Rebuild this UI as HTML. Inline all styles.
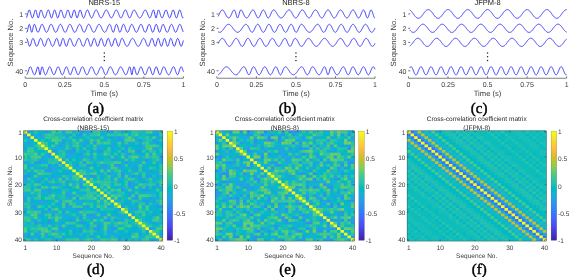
<!DOCTYPE html>
<html><head><meta charset="utf-8"><style>
html,body{margin:0;padding:0;background:#fff;}
body{width:575px;height:277px;overflow:hidden;}
svg{display:block;font-family:"Liberation Sans",sans-serif;text-rendering:geometricPrecision;will-change:transform;}
</style></head><body>
<svg width="575" height="277" viewBox="0 0 575 277">
<rect width="575" height="277" fill="#fff"/>
<defs><linearGradient id="pg" x1="0" y1="1" x2="0" y2="0"><stop offset="0.0078" stop-color="#3e26a8"/><stop offset="0.0234" stop-color="#402ab4"/><stop offset="0.0391" stop-color="#422ec0"/><stop offset="0.0547" stop-color="#4332cb"/><stop offset="0.0703" stop-color="#4537d5"/><stop offset="0.0859" stop-color="#463cde"/><stop offset="0.1016" stop-color="#4741e5"/><stop offset="0.1172" stop-color="#4747eb"/><stop offset="0.1328" stop-color="#484df0"/><stop offset="0.1484" stop-color="#4852f4"/><stop offset="0.1641" stop-color="#4758f8"/><stop offset="0.1797" stop-color="#465efb"/><stop offset="0.1953" stop-color="#4563fd"/><stop offset="0.2109" stop-color="#4269fe"/><stop offset="0.2266" stop-color="#3e6fff"/><stop offset="0.2422" stop-color="#3875fe"/><stop offset="0.2578" stop-color="#327cfc"/><stop offset="0.2734" stop-color="#2f81fa"/><stop offset="0.2891" stop-color="#2e87f7"/><stop offset="0.3047" stop-color="#2d8cf3"/><stop offset="0.3203" stop-color="#2b91ef"/><stop offset="0.3359" stop-color="#2797eb"/><stop offset="0.3516" stop-color="#259be8"/><stop offset="0.3672" stop-color="#23a0e5"/><stop offset="0.3828" stop-color="#20a5e3"/><stop offset="0.3984" stop-color="#1ca9df"/><stop offset="0.4141" stop-color="#18addb"/><stop offset="0.4297" stop-color="#12b1d6"/><stop offset="0.4453" stop-color="#08b5d0"/><stop offset="0.4609" stop-color="#01b8ca"/><stop offset="0.4766" stop-color="#02bac3"/><stop offset="0.4922" stop-color="#0bbdbd"/><stop offset="0.5078" stop-color="#19bfb6"/><stop offset="0.5234" stop-color="#24c1ae"/><stop offset="0.5391" stop-color="#2cc4a7"/><stop offset="0.5547" stop-color="#31c69f"/><stop offset="0.5703" stop-color="#37c897"/><stop offset="0.5859" stop-color="#3fca8e"/><stop offset="0.6016" stop-color="#4acb84"/><stop offset="0.6172" stop-color="#57cc7a"/><stop offset="0.6328" stop-color="#64cd6f"/><stop offset="0.6484" stop-color="#72cd64"/><stop offset="0.6641" stop-color="#81cc59"/><stop offset="0.6797" stop-color="#8fcb4e"/><stop offset="0.6953" stop-color="#9dc943"/><stop offset="0.7109" stop-color="#abc739"/><stop offset="0.7266" stop-color="#b9c431"/><stop offset="0.7422" stop-color="#c5c22a"/><stop offset="0.7578" stop-color="#d1bf27"/><stop offset="0.7734" stop-color="#dcbd29"/><stop offset="0.7891" stop-color="#e6bb2d"/><stop offset="0.8047" stop-color="#f0ba36"/><stop offset="0.8203" stop-color="#f8ba3d"/><stop offset="0.8359" stop-color="#febe3c"/><stop offset="0.8516" stop-color="#fec338"/><stop offset="0.8672" stop-color="#fec934"/><stop offset="0.8828" stop-color="#fccf30"/><stop offset="0.8984" stop-color="#fad62d"/><stop offset="0.9141" stop-color="#f7dc2a"/><stop offset="0.9297" stop-color="#f5e327"/><stop offset="0.9453" stop-color="#f5e924"/><stop offset="0.9609" stop-color="#f6ef20"/><stop offset="0.9766" stop-color="#f7f51b"/><stop offset="0.9922" stop-color="#f9fb15"/></linearGradient></defs>
<text x="104.30" y="4.9" font-size="7.5" text-anchor="middle" fill="#222">NBRS-15</text>
<g fill="none" stroke="#2828ff" stroke-width="0.9" stroke-linejoin="round">
<polyline points="26.47,17.61 26.78,16.93 27.10,15.96 27.41,14.78 27.73,13.53 28.05,12.31 28.36,11.26 28.68,10.48 29.00,10.03 29.31,9.98 29.63,10.31 29.95,10.99 30.26,11.96 30.58,13.11 30.90,14.34 31.21,15.53 31.53,16.57 31.84,17.36 32.16,17.84 32.48,17.94 32.79,17.66 33.11,17.02 33.43,16.08 33.74,14.92 34.06,13.65 34.38,12.40 34.69,11.31 35.01,10.48 35.32,10.02 35.64,10.00 35.96,10.44 36.27,11.33 36.59,12.57 36.91,14.02 37.22,15.48 37.54,16.74 37.86,17.60 38.17,17.95 38.49,17.72 38.81,16.97 39.12,15.80 39.44,14.41 39.75,12.98 40.07,11.70 40.39,10.72 40.70,10.13 41.02,9.95 41.34,10.16 41.65,10.71 41.97,11.53 42.29,12.52 42.60,13.61 42.92,14.70 43.23,15.72 43.55,16.60 43.87,17.29 44.18,17.74 44.50,17.94 44.82,17.88 45.13,17.55 45.45,16.99 45.77,16.23 46.08,15.31 46.40,14.30 46.72,13.24 47.03,12.22 47.35,11.32 47.66,10.59 47.98,10.12 48.30,9.95 48.61,10.12 48.93,10.63 49.25,11.45 49.56,12.51 49.88,13.71 50.20,14.95 50.51,16.10 50.83,17.05 51.14,17.69 51.46,17.95 51.78,17.80 52.09,17.25 52.41,16.37 52.73,15.23 53.04,13.96 53.36,12.69 53.68,11.56 53.99,10.67 54.31,10.12 54.63,9.95 54.94,10.18 55.26,10.79 55.57,11.72 55.89,12.87 56.21,14.14 56.52,15.39 56.84,16.50 57.16,17.34 57.47,17.84 57.79,17.94 58.11,17.64 58.42,16.96 58.74,16.00 59.05,14.83 59.37,13.59 59.69,12.38 60.00,11.34 60.32,10.55 60.64,10.07 60.95,9.96 61.27,10.19 61.59,10.74 61.90,11.56 62.22,12.56 62.54,13.67 62.85,14.79 63.17,15.84 63.48,16.73 63.80,17.41 64.12,17.83 64.43,17.95 64.75,17.76 65.07,17.29 65.38,16.56 65.70,15.62 66.02,14.55 66.33,13.43 66.65,12.34 66.96,11.36 67.28,10.60 67.60,10.11 67.91,9.95 68.23,10.15 68.55,10.69 68.86,11.53 69.18,12.60 69.50,13.81 69.81,15.04 70.13,16.17 70.45,17.08 70.76,17.70 71.08,17.95 71.39,17.80 71.71,17.26 72.03,16.38 72.34,15.25 72.66,13.99 72.98,12.71 73.29,11.57 73.61,10.67 73.93,10.11 74.24,9.95 74.56,10.23 74.87,10.91 75.19,11.95 75.51,13.23 75.82,14.61 76.14,15.91 76.46,16.98 76.77,17.69 77.09,17.95 77.41,17.73 77.72,17.05 78.04,16.02 78.36,14.77 78.67,13.43 78.99,12.17 79.30,11.12 79.62,10.38 79.94,10.00 80.25,9.99 80.57,10.34 80.89,11.00 81.20,11.91 81.52,12.98 81.84,14.12 82.15,15.23 82.47,16.24 82.78,17.05 83.10,17.62 83.42,17.92 83.73,17.91 84.05,17.62 84.37,17.07 84.68,16.30 85.00,15.38 85.32,14.37 85.63,13.33 85.95,12.35 86.27,11.47 86.58,10.76 86.90,10.26 87.21,9.99 87.53,9.97 87.85,10.19 88.16,10.64 88.48,11.28 88.80,12.08 89.11,12.97 89.43,13.92 89.75,14.86 90.06,15.75 90.38,16.53 90.69,17.17 91.01,17.63 91.33,17.89 91.64,17.94 91.96,17.79 92.28,17.44 92.59,16.92 92.91,16.25 93.23,15.48 93.54,14.63 93.86,13.75 94.18,12.89 94.49,12.09 94.81,11.37 95.12,10.78 95.44,10.33 95.76,10.05 96.07,9.95 96.39,10.02 96.71,10.27 97.02,10.66 97.34,11.19 97.66,11.83 97.97,12.55 98.29,13.32 98.60,14.11 98.92,14.89 99.24,15.63 99.55,16.30 99.87,16.88 100.19,17.35 100.50,17.69 100.82,17.89 101.14,17.95 101.45,17.86 101.77,17.64 102.09,17.28 102.40,16.80 102.72,16.22 103.03,15.56 103.35,14.84 103.67,14.09 103.98,13.33 104.30,12.59 104.62,11.90 104.93,11.28 105.25,10.76 105.57,10.35 105.88,10.08 106.20,9.96 106.51,9.99 106.83,10.17 107.15,10.49 107.46,10.95 107.78,11.52 108.10,12.18 108.41,12.91 108.73,13.68 109.05,14.47 109.36,15.23 109.68,15.94 110.00,16.58 110.31,17.11 110.63,17.53 110.94,17.81 111.26,17.94 111.58,17.92 111.89,17.74 112.21,17.42 112.53,16.95 112.84,16.37 113.16,15.69 113.48,14.94 113.79,14.15 114.11,13.35 114.42,12.57 114.74,11.84 115.06,11.19 115.37,10.66 115.69,10.26 116.01,10.02 116.32,9.95 116.64,10.05 116.96,10.32 117.27,10.75 117.59,11.33 117.91,12.03 118.22,12.82 118.54,13.66 118.85,14.52 119.17,15.35 119.49,16.13 119.80,16.80 120.12,17.34 120.44,17.72 120.75,17.92 121.07,17.93 121.39,17.75 121.70,17.38 122.02,16.85 122.33,16.17 122.65,15.38 122.97,14.53 123.28,13.64 123.60,12.76 123.92,11.95 124.23,11.23 124.55,10.65 124.87,10.23 125.18,10.00 125.50,9.96 125.82,10.12 126.13,10.49 126.45,11.03 126.76,11.74 127.08,12.57 127.40,13.48 127.71,14.43 128.03,15.35 128.35,16.19 128.66,16.91 128.98,17.46 129.30,17.81 129.61,17.95 129.93,17.86 130.24,17.56 130.56,17.06 130.88,16.39 131.19,15.60 131.51,14.73 131.83,13.83 132.14,12.94 132.46,12.12 132.78,11.39 133.09,10.79 133.41,10.35 133.73,10.07 134.04,9.95 134.36,10.00 134.67,10.20 134.99,10.54 135.31,10.99 135.62,11.53 135.94,12.15 136.26,12.81 136.57,13.50 136.89,14.19 137.21,14.87 137.52,15.51 137.84,16.11 138.15,16.64 138.47,17.09 138.79,17.45 139.10,17.72 139.42,17.89 139.74,17.95 140.05,17.90 140.37,17.75 140.69,17.49 141.00,17.14 141.32,16.69 141.64,16.16 141.95,15.56 142.27,14.90 142.58,14.21 142.90,13.50 143.22,12.79 143.53,12.11 143.85,11.48 144.17,10.93 144.48,10.48 144.80,10.16 145.12,9.98 145.43,9.97 145.75,10.12 146.06,10.45 146.38,10.94 146.70,11.56 147.01,12.31 147.33,13.14 147.65,14.01 147.96,14.90 148.28,15.74 148.60,16.51 148.91,17.15 149.23,17.62 149.55,17.89 149.86,17.94 150.18,17.74 150.49,17.30 150.81,16.64 151.13,15.78 151.44,14.77 151.76,13.69 152.08,12.60 152.39,11.60 152.71,10.77 153.03,10.20 153.34,9.96 153.66,10.08 153.97,10.65 154.29,11.68 154.61,13.08 154.92,14.67 155.24,16.19 155.56,17.35 155.87,17.92 156.19,17.77 156.51,16.95 156.82,15.60 157.14,14.00 157.46,12.45 157.77,11.17 158.09,10.33 158.40,9.97 158.72,10.05 159.04,10.50 159.35,11.25 159.67,12.21 159.99,13.29 160.30,14.39 160.62,15.44 160.94,16.36 161.25,17.11 161.57,17.63 161.88,17.90 162.20,17.93 162.52,17.71 162.83,17.26 163.15,16.61 163.47,15.80 163.78,14.87 164.10,13.89 164.42,12.90 164.73,11.97 165.05,11.15 165.37,10.51 165.68,10.10 166.00,9.95 166.31,10.10 166.63,10.53 166.95,11.21 167.26,12.11 167.58,13.14 167.90,14.23 168.21,15.31 168.53,16.28 168.85,17.08 169.16,17.65 169.48,17.92 169.79,17.90 170.11,17.56 170.43,16.94 170.74,16.08 171.06,15.05 171.38,13.93 171.69,12.80 172.01,11.77 172.33,10.91 172.64,10.30 172.96,9.98 173.28,10.00 173.59,10.35 173.91,11.02 174.22,11.94 174.54,13.04 174.86,14.23 175.17,15.40 175.49,16.44 175.81,17.26 176.12,17.78 176.44,17.95 176.76,17.75 177.07,17.21 177.39,16.36 177.70,15.30 178.02,14.10 178.34,12.90 178.65,11.79 178.97,10.88 179.29,10.26 179.60,9.97 179.92,10.04 180.24,10.46 180.55,11.20 180.87,12.18 181.19,13.33 181.50,14.53 181.82,15.67 182.13,16.67 182.45,17.42 182.77,17.85 183.08,17.94 183.40,17.66"/>
<polyline points="26.47,32.06 26.78,32.30 27.10,31.94 27.41,31.03 27.73,29.72 28.05,28.19 28.36,26.68 28.68,25.41 29.00,24.58 29.31,24.30 29.63,24.63 29.95,25.55 30.26,26.93 30.58,28.55 30.90,30.13 31.21,31.41 31.53,32.16 31.84,32.26 32.16,31.71 32.48,30.63 32.79,29.21 33.11,27.70 33.43,26.31 33.74,25.22 34.06,24.54 34.38,24.30 34.69,24.46 35.01,24.98 35.32,25.78 35.64,26.78 35.96,27.88 36.27,28.99 36.59,30.02 36.91,30.92 37.22,31.61 37.54,32.08 37.86,32.29 38.17,32.24 38.49,31.95 38.81,31.45 39.12,30.76 39.44,29.94 39.75,29.03 40.07,28.08 40.39,27.15 40.70,26.29 41.02,25.54 41.34,24.94 41.65,24.52 41.97,24.32 42.29,24.34 42.60,24.58 42.92,25.02 43.23,25.64 43.55,26.39 43.87,27.23 44.18,28.13 44.50,29.03 44.82,29.88 45.13,30.65 45.45,31.31 45.77,31.81 46.08,32.14 46.40,32.29 46.72,32.25 47.03,32.03 47.35,31.63 47.66,31.08 47.98,30.40 48.30,29.62 48.61,28.79 48.93,27.93 49.25,27.09 49.56,26.31 49.88,25.61 50.20,25.04 50.51,24.62 50.83,24.37 51.14,24.30 51.46,24.42 51.78,24.72 52.09,25.19 52.41,25.80 52.73,26.53 53.04,27.34 53.36,28.19 53.68,29.05 53.99,29.87 54.31,30.62 54.63,31.26 54.94,31.76 55.26,32.11 55.57,32.28 55.89,32.27 56.21,32.08 56.52,31.73 56.84,31.21 57.16,30.57 57.47,29.82 57.79,29.01 58.11,28.16 58.42,27.32 58.74,26.53 59.05,25.81 59.37,25.21 59.69,24.75 60.00,24.44 60.32,24.31 60.64,24.35 60.95,24.57 61.27,24.96 61.59,25.49 61.90,26.15 62.22,26.90 62.54,27.71 62.85,28.55 63.17,29.38 63.48,30.16 63.80,30.86 64.12,31.44 64.43,31.89 64.75,32.18 65.07,32.30 65.38,32.24 65.70,32.02 66.02,31.63 66.33,31.09 66.65,30.44 66.96,29.70 67.28,28.89 67.60,28.06 67.91,27.24 68.23,26.47 68.55,25.77 68.86,25.19 69.18,24.74 69.50,24.44 69.81,24.31 70.13,24.34 70.45,24.55 70.76,24.91 71.08,25.42 71.39,26.04 71.71,26.76 72.03,27.54 72.34,28.35 72.66,29.15 72.98,29.92 73.29,30.63 73.61,31.23 73.93,31.72 74.24,32.07 74.56,32.26 74.87,32.29 75.19,32.16 75.51,31.87 75.82,31.43 76.14,30.86 76.46,30.18 76.77,29.43 77.09,28.62 77.41,27.80 77.72,27.00 78.04,26.25 78.36,25.59 78.67,25.04 78.99,24.63 79.30,24.38 79.62,24.30 79.94,24.40 80.25,24.68 80.57,25.13 80.89,25.73 81.20,26.46 81.52,27.28 81.84,28.15 82.15,29.04 82.47,29.89 82.78,30.66 83.10,31.32 83.42,31.83 83.73,32.16 84.05,32.30 84.37,32.24 84.68,31.98 85.00,31.54 85.32,30.95 85.63,30.22 85.95,29.41 86.27,28.55 86.58,27.68 86.90,26.84 87.21,26.08 87.53,25.43 87.85,24.91 88.16,24.54 88.48,24.34 88.80,24.31 89.11,24.44 89.43,24.73 89.75,25.16 90.06,25.71 90.38,26.36 90.69,27.08 91.01,27.84 91.33,28.61 91.64,29.37 91.96,30.09 92.28,30.74 92.59,31.30 92.91,31.74 93.23,32.07 93.54,32.25 93.86,32.30 94.18,32.20 94.49,31.97 94.81,31.61 95.12,31.14 95.44,30.56 95.76,29.91 96.07,29.20 96.39,28.46 96.71,27.72 97.02,26.99 97.34,26.31 97.66,25.70 97.97,25.18 98.29,24.76 98.60,24.48 98.92,24.32 99.24,24.31 99.55,24.45 99.87,24.71 100.19,25.09 100.50,25.57 100.82,26.14 101.14,26.77 101.45,27.45 101.77,28.15 102.09,28.85 102.40,29.53 102.72,30.18 103.03,30.77 103.35,31.28 103.67,31.70 103.98,32.02 104.30,32.22 104.62,32.30 104.93,32.25 105.25,32.07 105.57,31.76 105.88,31.33 106.20,30.79 106.51,30.15 106.83,29.43 107.15,28.66 107.46,27.85 107.78,27.06 108.10,26.30 108.41,25.62 108.73,25.04 109.05,24.61 109.36,24.36 109.68,24.31 110.00,24.48 110.31,24.88 110.63,25.53 110.94,26.38 111.26,27.40 111.58,28.51 111.89,29.63 112.21,30.66 112.53,31.50 112.84,32.06 113.16,32.30 113.48,32.16 113.79,31.67 114.11,30.87 114.42,29.82 114.74,28.63 115.06,27.42 115.37,26.30 115.69,25.37 116.01,24.70 116.32,24.35 116.64,24.33 116.96,24.64 117.27,25.25 117.59,26.12 117.91,27.17 118.22,28.32 118.54,29.47 118.85,30.52 119.17,31.38 119.49,31.98 119.80,32.28 120.12,32.24 120.44,31.87 120.75,31.21 121.07,30.32 121.39,29.28 121.70,28.17 122.02,27.08 122.33,26.09 122.65,25.27 122.97,24.69 123.28,24.36 123.60,24.31 123.92,24.53 124.23,24.99 124.55,25.66 124.87,26.50 125.18,27.44 125.50,28.42 125.82,29.40 126.13,30.30 126.45,31.07 126.76,31.68 127.08,32.09 127.40,32.29 127.71,32.25 128.03,32.00 128.35,31.55 128.66,30.92 128.98,30.15 129.30,29.28 129.61,28.37 129.93,27.45 130.24,26.58 130.56,25.80 130.88,25.16 131.19,24.68 131.51,24.39 131.83,24.30 132.14,24.42 132.46,24.74 132.78,25.23 133.09,25.87 133.41,26.62 133.73,27.45 134.04,28.32 134.36,29.18 134.67,29.99 134.99,30.73 135.31,31.35 135.62,31.83 135.94,32.15 136.26,32.29 136.57,32.25 136.89,32.04 137.21,31.65 137.52,31.11 137.84,30.44 138.15,29.67 138.47,28.83 138.79,27.96 139.10,27.11 139.42,26.30 139.74,25.59 140.05,25.01 140.37,24.59 140.69,24.35 141.00,24.31 141.32,24.48 141.64,24.85 141.95,25.40 142.27,26.11 142.58,26.93 142.90,27.82 143.22,28.74 143.53,29.65 143.85,30.48 144.17,31.19 144.48,31.76 144.80,32.13 145.12,32.29 145.43,32.23 145.75,31.95 146.06,31.45 146.38,30.77 146.70,29.94 147.01,29.01 147.33,28.02 147.65,27.05 147.96,26.14 148.28,25.37 148.60,24.78 148.91,24.41 149.23,24.30 149.55,24.46 149.86,24.90 150.18,25.58 150.49,26.47 150.81,27.51 151.13,28.63 151.44,29.72 151.76,30.71 152.08,31.51 152.39,32.06 152.71,32.29 153.03,32.20 153.34,31.77 153.66,31.06 153.97,30.11 154.29,29.01 154.61,27.84 154.92,26.72 155.24,25.73 155.56,24.96 155.87,24.47 156.19,24.30 156.51,24.45 156.82,24.93 157.14,25.69 157.46,26.68 157.77,27.81 158.09,28.99 158.40,30.12 158.72,31.08 159.04,31.80 159.35,32.21 159.67,32.28 159.99,32.01 160.30,31.42 160.62,30.57 160.94,29.54 161.25,28.41 161.57,27.29 161.88,26.26 162.20,25.40 162.52,24.77 162.83,24.40 163.15,24.30 163.47,24.48 163.78,24.90 164.10,25.53 164.42,26.33 164.73,27.23 165.05,28.19 165.37,29.15 165.68,30.05 166.00,30.84 166.31,31.49 166.63,31.96 166.95,32.23 167.26,32.30 167.58,32.15 167.90,31.80 168.21,31.26 168.53,30.58 168.85,29.77 169.16,28.89 169.48,27.97 169.79,27.07 170.11,26.24 170.43,25.50 170.74,24.92 171.06,24.51 171.38,24.32 171.69,24.34 172.01,24.59 172.33,25.05 172.64,25.69 172.96,26.49 173.28,27.38 173.59,28.33 173.91,29.28 174.22,30.17 174.54,30.95 174.86,31.59 175.17,32.04 175.49,32.27 175.81,32.27 176.12,32.05 176.44,31.62 176.76,30.99 177.07,30.21 177.39,29.32 177.70,28.37 178.02,27.42 178.34,26.51 178.65,25.72 178.97,25.06 179.29,24.60 179.60,24.34 179.92,24.32 180.24,24.52 180.55,24.93 180.87,25.54 181.19,26.30 181.50,27.18 181.82,28.13 182.13,29.08 182.45,29.99 182.77,30.80 183.08,31.47 183.40,31.96"/>
<polyline points="26.47,38.35 26.78,38.50 27.10,39.01 27.41,39.84 27.73,40.92 28.05,42.14 28.36,43.38 28.68,44.53 29.00,45.46 29.31,46.08 29.63,46.34 29.95,46.22 30.26,45.72 30.58,44.91 30.90,43.86 31.21,42.68 31.53,41.48 31.84,40.38 32.16,39.45 32.48,38.78 32.79,38.42 33.11,38.37 33.43,38.63 33.74,39.16 34.06,39.93 34.38,40.85 34.69,41.88 35.01,42.92 35.32,43.92 35.64,44.81 35.96,45.53 36.27,46.04 36.59,46.31 36.91,46.33 37.22,46.09 37.54,45.63 37.86,44.95 38.17,44.12 38.49,43.17 38.81,42.17 39.12,41.18 39.44,40.26 39.75,39.47 40.07,38.86 40.39,38.48 40.70,38.35 41.02,38.49 41.34,38.89 41.65,39.53 41.97,40.37 42.29,41.34 42.60,42.39 42.92,43.44 43.23,44.41 43.55,45.24 43.87,45.87 44.18,46.24 44.50,46.35 44.82,46.17 45.13,45.73 45.45,45.06 45.77,44.20 46.08,43.22 46.40,42.19 46.72,41.17 47.03,40.24 47.35,39.45 47.66,38.85 47.98,38.48 48.30,38.35 48.61,38.47 48.93,38.81 49.25,39.36 49.56,40.06 49.88,40.88 50.20,41.76 50.51,42.67 50.83,43.56 51.14,44.38 51.46,45.10 51.78,45.67 52.09,46.08 52.41,46.31 52.73,46.34 53.04,46.16 53.36,45.79 53.68,45.23 53.99,44.52 54.31,43.67 54.63,42.75 54.94,41.78 55.26,40.83 55.57,39.97 55.89,39.23 56.21,38.69 56.52,38.40 56.84,38.38 57.16,38.67 57.47,39.27 57.79,40.16 58.11,41.27 58.42,42.50 58.74,43.74 59.05,44.85 59.37,45.72 59.69,46.23 60.00,46.33 60.32,46.00 60.64,45.28 60.95,44.23 61.27,42.99 61.59,41.69 61.90,40.47 62.22,39.46 62.54,38.75 62.85,38.39 63.17,38.40 63.48,38.77 63.80,39.46 64.12,40.42 64.43,41.55 64.75,42.76 65.07,43.92 65.38,44.94 65.70,45.72 66.02,46.21 66.33,46.35 66.65,46.15 66.96,45.63 67.28,44.84 67.60,43.86 67.91,42.77 68.23,41.66 68.55,40.61 68.86,39.72 69.18,39.02 69.50,38.56 69.81,38.36 70.13,38.42 70.45,38.71 70.76,39.21 71.08,39.88 71.39,40.68 71.71,41.55 72.03,42.45 72.34,43.34 72.66,44.16 72.98,44.89 73.29,45.50 73.61,45.95 73.93,46.24 74.24,46.35 74.56,46.28 74.87,46.04 75.19,45.63 75.51,45.08 75.82,44.41 76.14,43.65 76.46,42.83 76.77,41.98 77.09,41.14 77.41,40.35 77.72,39.65 78.04,39.07 78.36,38.65 78.67,38.40 78.99,38.36 79.30,38.52 79.62,38.88 79.94,39.41 80.25,40.10 80.57,40.91 80.89,41.78 81.20,42.69 81.52,43.59 81.84,44.42 82.15,45.14 82.47,45.72 82.78,46.12 83.10,46.33 83.42,46.32 83.73,46.09 84.05,45.65 84.37,45.03 84.68,44.25 85.00,43.35 85.32,42.39 85.63,41.42 85.95,40.49 86.27,39.67 86.58,39.01 86.90,38.56 87.21,38.36 87.53,38.42 87.85,38.76 88.16,39.37 88.48,40.21 88.80,41.22 89.11,42.34 89.43,43.47 89.75,44.51 90.06,45.39 90.38,46.01 90.69,46.32 91.01,46.29 91.33,45.91 91.64,45.22 91.96,44.28 92.28,43.17 92.59,41.99 92.91,40.85 93.23,39.84 93.54,39.05 93.86,38.54 94.18,38.35 94.49,38.49 94.81,38.94 95.12,39.66 95.44,40.60 95.76,41.69 96.07,42.82 96.39,43.91 96.71,44.88 97.02,45.65 97.34,46.15 97.66,46.35 97.97,46.23 98.29,45.80 98.60,45.09 98.92,44.17 99.24,43.10 99.55,41.97 99.87,40.87 100.19,39.89 100.50,39.11 100.82,38.58 101.14,38.36 101.45,38.45 101.77,38.86 102.09,39.55 102.40,40.46 102.72,41.52 103.03,42.64 103.35,43.75 103.67,44.74 103.98,45.54 104.30,46.09 104.62,46.34 104.93,46.27 105.25,45.89 105.57,45.22 105.88,44.33 106.20,43.27 106.51,42.14 106.83,41.03 107.15,40.02 107.46,39.20 107.78,38.63 108.10,38.37 108.41,38.42 108.73,38.80 109.05,39.47 109.36,40.37 109.68,41.44 110.00,42.59 110.31,43.72 110.63,44.73 110.94,45.55 111.26,46.10 111.58,46.34 111.89,46.25 112.21,45.84 112.53,45.13 112.84,44.20 113.16,43.12 113.48,41.97 113.79,40.85 114.11,39.86 114.42,39.08 114.74,38.56 115.06,38.35 115.37,38.47 115.69,38.92 116.01,39.67 116.32,40.65 116.64,41.80 116.96,42.99 117.27,44.14 117.59,45.12 117.91,45.85 118.22,46.27 118.54,46.33 118.85,46.05 119.17,45.46 119.49,44.61 119.80,43.59 120.12,42.49 120.44,41.40 120.75,40.40 121.07,39.56 121.39,38.93 121.70,38.53 122.02,38.36 122.33,38.41 122.65,38.66 122.97,39.09 123.28,39.67 123.60,40.36 123.92,41.13 124.23,41.94 124.55,42.75 124.87,43.53 125.18,44.26 125.50,44.91 125.82,45.45 126.13,45.87 126.45,46.16 126.76,46.32 127.08,46.34 127.40,46.23 127.71,45.99 128.03,45.63 128.35,45.17 128.66,44.62 128.98,44.00 129.30,43.33 129.61,42.63 129.93,41.92 130.24,41.23 130.56,40.57 130.88,39.96 131.19,39.43 131.51,38.99 131.83,38.65 132.14,38.44 132.46,38.35 132.78,38.40 133.09,38.58 133.41,38.88 133.73,39.29 134.04,39.80 134.36,40.37 134.67,41.01 134.99,41.68 135.31,42.36 135.62,43.05 135.94,43.71 136.26,44.33 136.57,44.89 136.89,45.37 137.21,45.77 137.52,46.07 137.84,46.27 138.15,46.35 138.47,46.31 138.79,46.16 139.10,45.89 139.42,45.51 139.74,45.03 140.05,44.47 140.37,43.83 140.69,43.14 141.00,42.42 141.32,41.68 141.64,40.96 141.95,40.28 142.27,39.67 142.58,39.15 142.90,38.74 143.22,38.47 143.53,38.35 143.85,38.40 144.17,38.62 144.48,39.00 144.80,39.54 145.12,40.21 145.43,40.98 145.75,41.83 146.06,42.71 146.38,43.58 146.70,44.40 147.01,45.12 147.33,45.71 147.65,46.12 147.96,46.33 148.28,46.32 148.60,46.08 148.91,45.62 149.23,44.96 149.55,44.13 149.86,43.19 150.18,42.17 150.49,41.16 150.81,40.22 151.13,39.41 151.44,38.80 151.76,38.44 152.08,38.36 152.39,38.59 152.71,39.14 153.03,39.98 153.34,41.06 153.66,42.28 153.97,43.53 154.29,44.68 154.61,45.60 154.92,46.18 155.24,46.35 155.56,46.07 155.87,45.38 156.19,44.35 156.51,43.10 156.82,41.77 157.14,40.51 157.46,39.46 157.77,38.72 158.09,38.38 158.40,38.43 158.72,38.88 159.04,39.68 159.35,40.74 159.67,41.96 159.99,43.22 160.30,44.39 160.62,45.35 160.94,46.02 161.25,46.33 161.57,46.25 161.88,45.78 162.20,44.98 162.52,43.92 162.83,42.70 163.15,41.45 163.47,40.29 163.78,39.33 164.10,38.66 164.42,38.36 164.73,38.46 165.05,38.94 165.37,39.76 165.68,40.85 166.00,42.09 166.31,43.36 166.63,44.53 166.95,45.47 167.26,46.10 167.58,46.35 167.90,46.19 168.21,45.65 168.53,44.78 168.85,43.67 169.16,42.44 169.48,41.21 169.79,40.09 170.11,39.20 170.43,38.60 170.74,38.36 171.06,38.47 171.38,38.93 171.69,39.69 172.01,40.67 172.33,41.78 172.64,42.94 172.96,44.05 173.28,45.01 173.59,45.74 173.91,46.20 174.22,46.35 174.54,46.17 174.86,45.69 175.17,44.94 175.49,43.99 175.81,42.90 176.12,41.77 176.44,40.68 176.76,39.73 177.07,38.98 177.39,38.51 177.70,38.35 178.02,38.52 178.34,39.01 178.65,39.77 178.97,40.74 179.29,41.85 179.60,43.00 179.92,44.09 180.24,45.04 180.55,45.77 180.87,46.22 181.19,46.35 181.50,46.15 181.82,45.63 182.13,44.85 182.45,43.86 182.77,42.74 183.08,41.59 183.40,40.51"/>
<polyline points="26.47,74.80 26.78,74.69 27.10,74.32 27.41,73.71 27.73,72.90 28.05,71.95 28.36,70.92 28.68,69.88 29.00,68.91 29.31,68.06 29.63,67.40 29.95,66.97 30.26,66.80 30.58,66.90 30.90,67.25 31.21,67.81 31.53,68.54 31.84,69.39 32.16,70.30 32.48,71.24 32.79,72.15 33.11,72.98 33.43,73.70 33.74,74.26 34.06,74.64 34.38,74.80 34.69,74.72 35.01,74.40 35.32,73.83 35.64,73.05 35.96,72.07 36.27,70.97 36.59,69.82 36.91,68.72 37.22,67.77 37.54,67.09 37.86,66.80 38.17,67.00 38.49,67.83 38.81,69.32 39.12,71.25 39.44,73.14 39.75,74.46 40.07,74.77 40.39,73.97 40.70,72.33 41.02,70.36 41.34,68.58 41.65,67.38 41.97,66.84 42.29,66.88 42.60,67.36 42.92,68.17 43.23,69.22 43.55,70.37 43.87,71.53 44.18,72.59 44.50,73.49 44.82,74.17 45.13,74.61 45.45,74.79 45.77,74.73 46.08,74.43 46.40,73.93 46.72,73.26 47.03,72.45 47.35,71.57 47.66,70.64 47.98,69.72 48.30,68.86 48.61,68.10 48.93,67.48 49.25,67.05 49.56,66.82 49.88,66.84 50.20,67.10 50.51,67.57 50.83,68.24 51.14,69.05 51.46,69.95 51.78,70.91 52.09,71.84 52.41,72.72 52.73,73.49 53.04,74.11 53.36,74.54 53.68,74.77 53.99,74.78 54.31,74.58 54.63,74.17 54.94,73.58 55.26,72.84 55.57,72.00 55.89,71.08 56.21,70.15 56.52,69.26 56.84,68.44 57.16,67.76 57.47,67.23 57.79,66.91 58.11,66.80 58.42,66.92 58.74,67.25 59.05,67.78 59.37,68.48 59.69,69.31 60.00,70.23 60.32,71.17 60.64,72.09 60.95,72.94 61.27,73.67 61.59,74.25 61.90,74.63 62.22,74.79 62.54,74.74 62.85,74.46 63.17,73.97 63.48,73.30 63.80,72.48 64.12,71.57 64.43,70.61 64.75,69.66 65.07,68.77 65.38,67.99 65.70,67.38 66.02,66.98 66.33,66.81 66.65,66.88 66.96,67.19 67.28,67.74 67.60,68.49 67.91,69.40 68.23,70.40 68.55,71.44 68.86,72.43 69.18,73.32 69.50,74.04 69.81,74.54 70.13,74.78 70.45,74.75 70.76,74.44 71.08,73.89 71.39,73.13 71.71,72.21 72.03,71.20 72.34,70.16 72.66,69.18 72.98,68.30 73.29,67.59 73.61,67.10 73.93,66.84 74.24,66.82 74.56,67.06 74.87,67.51 75.19,68.17 75.51,68.99 75.82,69.91 76.14,70.88 76.46,71.85 76.77,72.75 77.09,73.53 77.41,74.15 77.72,74.58 78.04,74.78 78.36,74.76 78.67,74.51 78.99,74.05 79.30,73.41 79.62,72.62 79.94,71.74 80.25,70.81 80.57,69.88 80.89,69.00 81.20,68.23 81.52,67.59 81.84,67.13 82.15,66.86 82.47,66.80 82.78,66.95 83.10,67.30 83.42,67.82 83.73,68.49 84.05,69.28 84.37,70.14 84.68,71.03 85.00,71.90 85.32,72.72 85.63,73.44 85.95,74.03 86.27,74.47 86.58,74.73 86.90,74.80 87.21,74.68 87.53,74.38 87.85,73.92 88.16,73.31 88.48,72.59 88.80,71.78 89.11,70.94 89.43,70.09 89.75,69.27 90.06,68.52 90.38,67.88 90.69,67.37 91.01,67.01 91.33,66.83 91.64,66.82 91.96,66.99 92.28,67.32 92.59,67.80 92.91,68.41 93.23,69.12 93.54,69.89 93.86,70.71 94.18,71.52 94.49,72.30 94.81,73.01 95.12,73.64 95.44,74.15 95.76,74.52 96.07,74.74 96.39,74.80 96.71,74.70 97.02,74.44 97.34,74.03 97.66,73.49 97.97,72.84 98.29,72.10 98.60,71.31 98.92,70.50 99.24,69.69 99.55,68.93 99.87,68.25 100.19,67.67 100.50,67.22 100.82,66.93 101.14,66.80 101.45,66.86 101.77,67.09 102.09,67.50 102.40,68.06 102.72,68.76 103.03,69.56 103.35,70.42 103.67,71.30 103.98,72.17 104.30,72.96 104.62,73.66 104.93,74.21 105.25,74.59 105.57,74.78 105.88,74.77 106.20,74.57 106.51,74.18 106.83,73.62 107.15,72.93 107.46,72.13 107.78,71.28 108.10,70.41 108.41,69.56 108.73,68.78 109.05,68.09 109.36,67.53 109.68,67.12 110.00,66.88 110.31,66.80 110.63,66.89 110.94,67.13 111.26,67.52 111.58,68.03 111.89,68.64 112.21,69.33 112.53,70.06 112.84,70.82 113.16,71.57 113.48,72.29 113.79,72.95 114.11,73.54 114.42,74.03 114.74,74.41 115.06,74.66 115.37,74.79 115.69,74.78 116.01,74.63 116.32,74.36 116.64,73.96 116.96,73.45 117.27,72.85 117.59,72.17 117.91,71.44 118.22,70.69 118.54,69.93 118.85,69.20 119.17,68.52 119.49,67.93 119.80,67.44 120.12,67.07 120.44,66.86 120.75,66.80 121.07,66.91 121.39,67.17 121.70,67.57 122.02,68.08 122.33,68.69 122.65,69.37 122.97,70.09 123.28,70.84 123.60,71.59 123.92,72.32 124.23,72.99 124.55,73.60 124.87,74.10 125.18,74.48 125.50,74.72 125.82,74.80 126.13,74.70 126.45,74.42 126.76,73.95 127.08,73.30 127.40,72.50 127.71,71.56 128.03,70.55 128.35,69.52 128.66,68.54 128.98,67.71 129.30,67.10 129.61,66.82 129.93,66.92 130.24,67.57 130.56,68.86 130.88,70.68 131.19,72.63 131.51,74.17 131.83,74.80 132.14,74.30 132.46,72.82 132.78,70.84 133.09,68.94 133.41,67.56 133.73,66.89 134.04,66.85 134.36,67.31 134.67,68.17 134.99,69.29 135.31,70.53 135.62,71.76 135.94,72.88 136.26,73.78 136.57,74.42 136.89,74.75 137.21,74.77 137.52,74.51 137.84,73.98 138.15,73.24 138.47,72.34 138.79,71.35 139.10,70.33 139.42,69.34 139.74,68.45 140.05,67.71 140.37,67.17 140.69,66.86 141.00,66.81 141.32,67.03 141.64,67.48 141.95,68.13 142.27,68.94 142.58,69.84 142.90,70.78 143.22,71.72 143.53,72.60 143.85,73.37 144.17,74.01 144.48,74.47 144.80,74.73 145.12,74.80 145.43,74.65 145.75,74.30 146.06,73.76 146.38,73.07 146.70,72.24 147.01,71.34 147.33,70.39 147.65,69.46 147.96,68.59 148.28,67.84 148.60,67.27 148.91,66.91 149.23,66.80 149.55,66.96 149.86,67.40 150.18,68.10 150.49,69.00 150.81,70.06 151.13,71.19 151.44,72.30 151.76,73.29 152.08,74.08 152.39,74.60 152.71,74.80 153.03,74.66 153.34,74.19 153.66,73.43 153.97,72.45 154.29,71.33 154.61,70.18 154.92,69.09 155.24,68.14 155.56,67.42 155.87,66.96 156.19,66.80 156.51,66.94 156.82,67.36 157.14,68.04 157.46,68.93 157.77,69.96 158.09,71.04 158.40,72.11 158.72,73.08 159.04,73.88 159.35,74.45 159.67,74.75 159.99,74.77 160.30,74.52 160.62,74.00 160.94,73.27 161.25,72.38 161.57,71.40 161.88,70.39 162.20,69.41 162.52,68.53 162.83,67.80 163.15,67.26 163.47,66.92 163.78,66.80 164.10,66.89 164.42,67.18 164.73,67.64 165.05,68.24 165.37,68.94 165.68,69.72 166.00,70.52 166.31,71.33 166.63,72.11 166.95,72.83 167.26,73.46 167.58,73.99 167.90,74.40 168.21,74.67 168.53,74.79 168.85,74.77 169.16,74.60 169.48,74.29 169.79,73.85 170.11,73.29 170.43,72.63 170.74,71.90 171.06,71.11 171.38,70.30 171.69,69.50 172.01,68.75 172.33,68.07 172.64,67.51 172.96,67.09 173.28,66.85 173.59,66.81 173.91,66.98 174.22,67.36 174.54,67.95 174.86,68.72 175.17,69.63 175.49,70.62 175.81,71.63 176.12,72.60 176.44,73.45 176.76,74.14 177.07,74.60 177.39,74.79 177.70,74.71 178.02,74.35 178.34,73.74 178.65,72.92 178.97,71.94 179.29,70.89 179.60,69.83 179.92,68.85 180.24,68.00 180.55,67.35 180.87,66.95 181.19,66.80 181.50,66.92 181.82,67.30 182.13,67.91 182.45,68.71 182.77,69.65 183.08,70.66 183.40,71.69"/>
</g>
<text x="23.20" y="16.95" font-size="7.0" text-anchor="end" fill="#3a3a3a">1</text>
<line x1="24.90" y1="13.95" x2="27.00" y2="13.95" stroke="#555" stroke-width="0.8"/>
<text x="23.20" y="31.30" font-size="7.0" text-anchor="end" fill="#3a3a3a">2</text>
<line x1="24.90" y1="28.30" x2="27.00" y2="28.30" stroke="#555" stroke-width="0.8"/>
<text x="23.20" y="45.35" font-size="7.0" text-anchor="end" fill="#3a3a3a">3</text>
<line x1="24.90" y1="42.35" x2="27.00" y2="42.35" stroke="#555" stroke-width="0.8"/>
<text x="23.20" y="73.80" font-size="7.0" text-anchor="end" fill="#3a3a3a">40</text>
<line x1="24.90" y1="70.80" x2="27.00" y2="70.80" stroke="#555" stroke-width="0.8"/>
<circle cx="104.30" cy="52.90" r="0.75" fill="#222"/>
<circle cx="104.30" cy="56.70" r="0.75" fill="#222"/>
<circle cx="104.30" cy="60.50" r="0.75" fill="#222"/>
<line x1="25.20" y1="78.15" x2="183.40" y2="78.15" stroke="#808080" stroke-width="1.05"/>
<line x1="25.20" y1="76.25" x2="25.20" y2="78.15" stroke="#404040" stroke-width="0.7"/>
<text x="25.20" y="87.0" font-size="7.0" text-anchor="middle" fill="#3a3a3a">0</text>
<line x1="64.75" y1="76.25" x2="64.75" y2="78.15" stroke="#404040" stroke-width="0.7"/>
<text x="64.75" y="87.0" font-size="7.0" text-anchor="middle" fill="#3a3a3a">0.25</text>
<line x1="104.30" y1="76.25" x2="104.30" y2="78.15" stroke="#404040" stroke-width="0.7"/>
<text x="104.30" y="87.0" font-size="7.0" text-anchor="middle" fill="#3a3a3a">0.5</text>
<line x1="143.85" y1="76.25" x2="143.85" y2="78.15" stroke="#404040" stroke-width="0.7"/>
<text x="143.85" y="87.0" font-size="7.0" text-anchor="middle" fill="#3a3a3a">0.75</text>
<line x1="183.40" y1="76.25" x2="183.40" y2="78.15" stroke="#404040" stroke-width="0.7"/>
<text x="183.40" y="87.0" font-size="7.0" text-anchor="middle" fill="#3a3a3a">1</text>
<text x="104.30" y="96.2" font-size="7.6" text-anchor="middle" fill="#3a3a3a">Time (s)</text>
<text transform="translate(13.10,42.6) rotate(-90)" x="0" y="0" font-size="7.55" text-anchor="middle" fill="#3a3a3a">Sequence No.</text>
<text x="95.8" y="112.5" font-family="Liberation Serif" font-size="15" text-anchor="middle" fill="#000" stroke="#000" stroke-width="0.45">(a)</text>
<text x="295.95" y="4.9" font-size="7.5" text-anchor="middle" fill="#222">NBRS-8</text>
<g fill="none" stroke="#2828ff" stroke-width="0.9" stroke-linejoin="round">
<polyline points="218.12,16.39 218.43,15.83 218.75,15.21 219.06,14.56 219.38,13.88 219.70,13.21 220.01,12.57 220.33,11.96 220.65,11.40 220.96,10.92 221.28,10.53 221.60,10.23 221.91,10.03 222.23,9.95 222.55,9.98 222.86,10.12 223.18,10.36 223.49,10.69 223.81,11.10 224.13,11.58 224.44,12.11 224.76,12.68 225.08,13.27 225.39,13.88 225.71,14.49 226.03,15.09 226.34,15.65 226.66,16.18 226.97,16.66 227.29,17.08 227.61,17.42 227.92,17.69 228.24,17.86 228.56,17.94 228.87,17.93 229.19,17.81 229.51,17.59 229.82,17.26 230.14,16.85 230.46,16.34 230.77,15.75 231.09,15.10 231.40,14.40 231.72,13.68 232.04,12.94 232.35,12.23 232.67,11.57 232.99,10.98 233.30,10.50 233.62,10.16 233.94,9.98 234.25,9.97 234.57,10.18 234.88,10.64 235.20,11.35 235.52,12.29 235.83,13.41 236.15,14.62 236.47,15.79 236.78,16.80 237.10,17.54 237.42,17.91 237.73,17.88 238.05,17.44 238.37,16.65 238.68,15.60 239.00,14.41 239.31,13.22 239.63,12.12 239.95,11.22 240.26,10.55 240.58,10.13 240.90,9.96 241.21,9.99 241.53,10.20 241.85,10.56 242.16,11.05 242.48,11.63 242.79,12.29 243.11,12.99 243.43,13.70 243.74,14.41 244.06,15.09 244.38,15.72 244.69,16.29 245.01,16.79 245.33,17.21 245.64,17.53 245.96,17.77 246.28,17.91 246.59,17.95 246.91,17.90 247.22,17.76 247.54,17.53 247.86,17.23 248.17,16.85 248.49,16.40 248.81,15.90 249.12,15.36 249.44,14.78 249.76,14.17 250.07,13.56 250.39,12.95 250.70,12.35 251.02,11.79 251.34,11.28 251.65,10.83 251.97,10.46 252.29,10.18 252.60,10.00 252.92,9.95 253.24,10.02 253.55,10.22 253.87,10.55 254.19,10.99 254.50,11.53 254.82,12.16 255.13,12.86 255.45,13.60 255.77,14.36 256.08,15.10 256.40,15.81 256.72,16.45 257.03,17.00 257.35,17.44 257.67,17.75 257.98,17.92 258.30,17.94 258.61,17.81 258.93,17.53 259.25,17.12 259.56,16.59 259.88,15.96 260.20,15.25 260.51,14.49 260.83,13.71 261.15,12.94 261.46,12.21 261.78,11.55 262.10,10.98 262.41,10.52 262.73,10.19 263.04,10.00 263.36,9.95 263.68,10.05 263.99,10.30 264.31,10.69 264.63,11.21 264.94,11.84 265.26,12.56 265.58,13.34 265.89,14.14 266.21,14.94 266.52,15.70 266.84,16.39 267.16,16.98 267.47,17.44 267.79,17.76 268.11,17.93 268.42,17.93 268.74,17.78 269.06,17.48 269.37,17.04 269.69,16.49 270.01,15.85 270.32,15.14 270.64,14.40 270.95,13.65 271.27,12.93 271.59,12.24 271.90,11.63 272.22,11.09 272.54,10.65 272.85,10.32 273.17,10.09 273.49,9.97 273.80,9.96 274.12,10.03 274.43,10.20 274.75,10.45 275.07,10.78 275.38,11.16 275.70,11.60 276.02,12.08 276.33,12.58 276.65,13.11 276.97,13.65 277.28,14.18 277.60,14.71 277.92,15.22 278.23,15.70 278.55,16.14 278.86,16.55 279.18,16.91 279.50,17.22 279.81,17.48 280.13,17.69 280.45,17.83 280.76,17.92 281.08,17.95 281.40,17.92 281.71,17.83 282.03,17.69 282.34,17.49 282.66,17.24 282.98,16.95 283.29,16.61 283.61,16.23 283.93,15.81 284.24,15.37 284.56,14.91 284.88,14.43 285.19,13.93 285.51,13.44 285.83,12.95 286.14,12.47 286.46,12.02 286.77,11.59 287.09,11.19 287.41,10.84 287.72,10.53 288.04,10.29 288.36,10.11 288.67,9.99 288.99,9.95 289.31,9.99 289.62,10.10 289.94,10.29 290.25,10.56 290.57,10.90 290.89,11.30 291.20,11.76 291.52,12.27 291.84,12.81 292.15,13.39 292.47,13.97 292.79,14.56 293.10,15.14 293.42,15.69 293.74,16.21 294.05,16.68 294.37,17.09 294.68,17.42 295.00,17.68 295.32,17.86 295.63,17.94 295.95,17.93 296.27,17.84 296.58,17.65 296.90,17.37 297.22,17.02 297.53,16.59 297.85,16.10 298.16,15.56 298.48,14.99 298.80,14.39 299.11,13.78 299.43,13.17 299.75,12.58 300.06,12.03 300.38,11.52 300.70,11.07 301.01,10.68 301.33,10.37 301.65,10.14 301.96,10.00 302.28,9.95 302.59,9.99 302.91,10.12 303.23,10.33 303.54,10.62 303.86,10.99 304.18,11.43 304.49,11.91 304.81,12.45 305.13,13.02 305.44,13.61 305.76,14.20 306.07,14.79 306.39,15.37 306.71,15.91 307.02,16.40 307.34,16.85 307.66,17.22 307.97,17.53 308.29,17.76 308.61,17.90 308.92,17.95 309.24,17.91 309.56,17.79 309.87,17.58 310.19,17.28 310.50,16.91 310.82,16.48 311.14,15.98 311.45,15.44 311.77,14.87 312.09,14.27 312.40,13.66 312.72,13.06 313.04,12.48 313.35,11.93 313.67,11.43 313.98,10.99 314.30,10.61 314.62,10.31 314.93,10.10 315.25,9.98 315.57,9.95 315.88,10.02 316.20,10.18 316.52,10.44 316.83,10.78 317.15,11.20 317.47,11.69 317.78,12.23 318.10,12.82 318.41,13.43 318.73,14.07 319.05,14.70 319.36,15.31 319.68,15.89 320.00,16.42 320.31,16.88 320.63,17.28 320.95,17.59 321.26,17.81 321.58,17.93 321.89,17.94 322.21,17.86 322.53,17.68 322.84,17.40 323.16,17.03 323.48,16.58 323.79,16.06 324.11,15.49 324.43,14.88 324.74,14.25 325.06,13.61 325.38,12.98 325.69,12.37 326.01,11.81 326.32,11.29 326.64,10.85 326.96,10.49 327.27,10.21 327.59,10.03 327.91,9.95 328.22,9.98 328.54,10.10 328.86,10.31 329.17,10.62 329.49,11.02 329.80,11.49 330.12,12.02 330.44,12.60 330.75,13.21 331.07,13.84 331.39,14.47 331.70,15.10 332.02,15.69 332.34,16.24 332.65,16.73 332.97,17.15 333.29,17.49 333.60,17.74 333.92,17.89 334.23,17.95 334.55,17.90 334.87,17.76 335.18,17.52 335.50,17.19 335.82,16.77 336.13,16.29 336.45,15.74 336.77,15.16 337.08,14.54 337.40,13.90 337.71,13.27 338.03,12.65 338.35,12.07 338.66,11.54 338.98,11.06 339.30,10.66 339.61,10.34 339.93,10.11 340.25,9.98 340.56,9.95 340.88,10.02 341.20,10.19 341.51,10.45 341.83,10.79 342.14,11.22 342.46,11.70 342.78,12.24 343.09,12.82 343.41,13.43 343.73,14.04 344.04,14.66 344.36,15.25 344.68,15.82 344.99,16.34 345.31,16.81 345.62,17.20 345.94,17.52 346.26,17.76 346.57,17.90 346.89,17.95 347.21,17.90 347.52,17.76 347.84,17.52 348.16,17.19 348.47,16.79 348.79,16.30 349.11,15.76 349.42,15.17 349.74,14.54 350.05,13.90 350.37,13.25 350.69,12.62 351.00,12.02 351.32,11.47 351.64,10.98 351.95,10.57 352.27,10.26 352.59,10.05 352.90,9.96 353.22,9.98 353.53,10.12 353.85,10.38 354.17,10.74 354.48,11.20 354.80,11.75 355.12,12.37 355.43,13.03 355.75,13.73 356.07,14.43 356.38,15.13 356.70,15.79 357.02,16.40 357.33,16.92 357.65,17.36 357.96,17.68 358.28,17.88 358.60,17.95 358.91,17.88 359.23,17.66 359.55,17.31 359.86,16.84 360.18,16.24 360.50,15.56 360.81,14.80 361.13,14.01 361.44,13.20 361.76,12.41 362.08,11.68 362.39,11.04 362.71,10.53 363.03,10.16 363.34,9.97 363.66,9.98 363.98,10.18 364.29,10.59 364.61,11.20 364.93,11.99 365.24,12.91 365.56,13.92 365.87,14.94 366.19,15.91 366.51,16.75 366.82,17.41 367.14,17.82 367.46,17.95 367.77,17.79 368.09,17.34 368.41,16.63 368.72,15.73 369.04,14.69 369.35,13.59 369.67,12.53 369.99,11.58 370.30,10.81 370.62,10.27 370.94,9.99 371.25,9.98 371.57,10.25 371.89,10.77 372.20,11.50 372.52,12.40 372.84,13.41 373.15,14.45 373.47,15.46 373.78,16.37 374.10,17.11 374.42,17.64 374.73,17.91 375.05,17.92"/>
<polyline points="218.12,31.58 218.43,31.82 218.75,32.02 219.06,32.16 219.38,32.25 219.70,32.30 220.01,32.29 220.33,32.23 220.65,32.11 220.96,31.95 221.28,31.74 221.60,31.49 221.91,31.19 222.23,30.86 222.55,30.49 222.86,30.09 223.18,29.68 223.49,29.24 223.81,28.79 224.13,28.33 224.44,27.88 224.76,27.43 225.08,26.99 225.39,26.56 225.71,26.16 226.03,25.79 226.34,25.45 226.66,25.15 226.97,24.89 227.29,24.68 227.61,24.51 227.92,24.39 228.24,24.32 228.56,24.30 228.87,24.34 229.19,24.42 229.51,24.56 229.82,24.73 230.14,24.96 230.46,25.22 230.77,25.52 231.09,25.85 231.40,26.20 231.72,26.58 232.04,26.98 232.35,27.39 232.67,27.81 232.99,28.24 233.30,28.67 233.62,29.09 233.94,29.50 234.25,29.90 234.57,30.28 234.88,30.64 235.20,30.97 235.52,31.27 235.83,31.54 236.15,31.77 236.47,31.96 236.78,32.12 237.10,32.22 237.42,32.28 237.73,32.30 238.05,32.27 238.37,32.19 238.68,32.06 239.00,31.88 239.31,31.66 239.63,31.39 239.95,31.09 240.26,30.74 240.58,30.36 240.90,29.95 241.21,29.51 241.53,29.06 241.85,28.58 242.16,28.10 242.48,27.62 242.79,27.14 243.11,26.68 243.43,26.24 243.74,25.82 244.06,25.44 244.38,25.10 244.69,24.82 245.01,24.59 245.33,24.42 245.64,24.32 245.96,24.30 246.28,24.35 246.59,24.49 246.91,24.71 247.22,25.00 247.54,25.38 247.86,25.83 248.17,26.35 248.49,26.93 248.81,27.54 249.12,28.19 249.44,28.84 249.76,29.49 250.07,30.11 250.39,30.68 250.70,31.19 251.02,31.62 251.34,31.96 251.65,32.18 251.97,32.29 252.29,32.28 252.60,32.14 252.92,31.88 253.24,31.51 253.55,31.04 253.87,30.48 254.19,29.84 254.50,29.16 254.82,28.45 255.13,27.74 255.45,27.05 255.77,26.39 256.08,25.80 256.40,25.29 256.72,24.87 257.03,24.57 257.35,24.37 257.67,24.30 257.98,24.35 258.30,24.51 258.61,24.79 258.93,25.18 259.25,25.66 259.56,26.23 259.88,26.86 260.20,27.53 260.51,28.23 260.83,28.94 261.15,29.62 261.46,30.27 261.78,30.85 262.10,31.35 262.41,31.76 262.73,32.06 263.04,32.24 263.36,32.30 263.68,32.23 263.99,32.03 264.31,31.72 264.63,31.29 264.94,30.77 265.26,30.17 265.58,29.51 265.89,28.82 266.21,28.10 266.52,27.39 266.84,26.71 267.16,26.09 267.47,25.53 267.79,25.06 268.11,24.69 268.42,24.44 268.74,24.32 269.06,24.32 269.37,24.44 269.69,24.69 270.01,25.05 270.32,25.52 270.64,26.07 270.95,26.70 271.27,27.38 271.59,28.09 271.90,28.80 272.22,29.50 272.54,30.16 272.85,30.76 273.17,31.28 273.49,31.71 273.80,32.03 274.12,32.23 274.43,32.30 274.75,32.24 275.07,32.06 275.38,31.76 275.70,31.35 276.02,30.83 276.33,30.24 276.65,29.59 276.97,28.89 277.28,28.18 277.60,27.46 277.92,26.78 278.23,26.14 278.55,25.58 278.86,25.10 279.18,24.72 279.50,24.46 279.81,24.32 280.13,24.31 280.45,24.43 280.76,24.67 281.08,25.02 281.40,25.48 281.71,26.02 282.03,26.64 282.34,27.31 282.66,28.01 282.98,28.72 283.29,29.42 283.61,30.08 283.93,30.68 284.24,31.21 284.56,31.65 284.88,31.98 285.19,32.20 285.51,32.30 285.83,32.26 286.14,32.11 286.46,31.83 286.77,31.44 287.09,30.95 287.41,30.38 287.72,29.73 288.04,29.04 288.36,28.33 288.67,27.61 288.99,26.91 289.31,26.26 289.62,25.67 289.94,25.17 290.25,24.77 290.57,24.49 290.89,24.33 291.20,24.31 291.52,24.42 291.84,24.67 292.15,25.06 292.47,25.57 292.79,26.19 293.10,26.90 293.42,27.66 293.74,28.46 294.05,29.25 294.37,30.01 294.68,30.70 295.00,31.29 295.32,31.76 295.63,32.09 295.95,32.27 296.27,32.29 296.58,32.15 296.90,31.85 297.22,31.42 297.53,30.88 297.85,30.24 298.16,29.54 298.48,28.80 298.80,28.05 299.11,27.33 299.43,26.64 299.75,26.03 300.06,25.49 300.38,25.05 300.70,24.70 301.01,24.47 301.33,24.33 301.65,24.30 301.96,24.36 302.28,24.50 302.59,24.72 302.91,25.01 303.23,25.36 303.54,25.76 303.86,26.20 304.18,26.67 304.49,27.16 304.81,27.66 305.13,28.16 305.44,28.66 305.76,29.15 306.07,29.62 306.39,30.06 306.71,30.47 307.02,30.85 307.34,31.19 307.66,31.49 307.97,31.75 308.29,31.96 308.61,32.12 308.92,32.23 309.24,32.29 309.56,32.30 309.87,32.26 310.19,32.17 310.50,32.03 310.82,31.84 311.14,31.61 311.45,31.33 311.77,31.02 312.09,30.67 312.40,30.28 312.72,29.87 313.04,29.43 313.35,28.97 313.67,28.50 313.98,28.02 314.30,27.53 314.62,27.06 314.93,26.60 315.25,26.15 315.57,25.74 315.88,25.36 316.20,25.03 316.52,24.75 316.83,24.53 317.15,24.38 317.47,24.31 317.78,24.31 318.10,24.41 318.41,24.58 318.73,24.85 319.05,25.20 319.36,25.63 319.68,26.14 320.00,26.70 320.31,27.31 320.63,27.95 320.95,28.61 321.26,29.27 321.58,29.91 321.89,30.50 322.21,31.03 322.53,31.49 322.84,31.86 323.16,32.12 323.48,32.27 323.79,32.30 324.11,32.20 324.43,31.98 324.74,31.65 325.06,31.22 325.38,30.69 325.69,30.09 326.01,29.44 326.32,28.75 326.64,28.05 326.96,27.35 327.27,26.69 327.59,26.08 327.91,25.54 328.22,25.08 328.54,24.72 328.86,24.47 329.17,24.33 329.49,24.30 329.80,24.39 330.12,24.59 330.44,24.90 330.75,25.30 331.07,25.78 331.39,26.34 331.70,26.95 332.02,27.60 332.34,28.27 332.65,28.94 332.97,29.59 333.29,30.21 333.60,30.77 333.92,31.26 334.23,31.67 334.55,31.99 334.87,32.19 335.18,32.29 335.50,32.28 335.82,32.15 336.13,31.91 336.45,31.57 336.77,31.14 337.08,30.63 337.40,30.05 337.71,29.42 338.03,28.76 338.35,28.09 338.66,27.43 338.98,26.78 339.30,26.18 339.61,25.64 339.93,25.18 340.25,24.81 340.56,24.53 340.88,24.36 341.20,24.30 341.51,24.36 341.83,24.52 342.14,24.80 342.46,25.17 342.78,25.64 343.09,26.18 343.41,26.78 343.73,27.43 344.04,28.10 344.36,28.78 344.68,29.45 344.99,30.08 345.31,30.66 345.62,31.17 345.94,31.60 346.26,31.94 346.57,32.17 346.89,32.28 347.21,32.29 347.52,32.18 347.84,31.95 348.16,31.63 348.47,31.21 348.79,30.71 349.11,30.13 349.42,29.51 349.74,28.86 350.05,28.19 350.37,27.53 350.69,26.88 351.00,26.28 351.32,25.74 351.64,25.27 351.95,24.88 352.27,24.58 352.59,24.39 352.90,24.31 353.22,24.33 353.53,24.45 353.85,24.68 354.17,25.00 354.48,25.41 354.80,25.89 355.12,26.43 355.43,27.02 355.75,27.65 356.07,28.28 356.38,28.92 356.70,29.54 357.02,30.13 357.33,30.67 357.65,31.15 357.96,31.56 358.28,31.88 358.60,32.12 358.91,32.26 359.23,32.30 359.55,32.24 359.86,32.09 360.18,31.84 360.50,31.50 360.81,31.08 361.13,30.60 361.44,30.06 361.76,29.47 362.08,28.86 362.39,28.23 362.71,27.60 363.03,26.99 363.34,26.41 363.66,25.88 363.98,25.41 364.29,25.01 364.61,24.69 364.93,24.47 365.24,24.33 365.56,24.30 365.87,24.37 366.19,24.54 366.51,24.80 366.82,25.15 367.14,25.58 367.46,26.08 367.77,26.64 368.09,27.24 368.41,27.86 368.72,28.49 369.04,29.13 369.35,29.73 369.67,30.31 369.99,30.83 370.30,31.29 370.62,31.67 370.94,31.97 371.25,32.18 371.57,32.28 371.89,32.29 372.20,32.20 372.52,32.01 372.84,31.72 373.15,31.35 373.47,30.90 373.78,30.38 374.10,29.82 374.42,29.21 374.73,28.58 375.05,27.95"/>
<polyline points="218.12,43.61 218.43,43.06 218.75,42.49 219.06,41.92 219.38,41.35 219.70,40.81 220.01,40.30 220.33,39.83 220.65,39.42 220.96,39.06 221.28,38.77 221.60,38.55 221.91,38.41 222.23,38.35 222.55,38.37 222.86,38.48 223.18,38.66 223.49,38.91 223.81,39.23 224.13,39.62 224.44,40.05 224.76,40.53 225.08,41.04 225.39,41.58 225.71,42.14 226.03,42.69 226.34,43.24 226.66,43.77 226.97,44.28 227.29,44.74 227.61,45.17 227.92,45.53 228.24,45.84 228.56,46.08 228.87,46.24 229.19,46.33 229.51,46.35 229.82,46.28 230.14,46.14 230.46,45.92 230.77,45.63 231.09,45.27 231.40,44.85 231.72,44.38 232.04,43.87 232.35,43.32 232.67,42.75 232.99,42.17 233.30,41.59 233.62,41.02 233.94,40.48 234.25,39.98 234.57,39.52 234.88,39.13 235.20,38.81 235.52,38.57 235.83,38.41 236.15,38.35 236.47,38.38 236.78,38.51 237.10,38.74 237.42,39.06 237.73,39.47 238.05,39.95 238.37,40.51 238.68,41.11 239.00,41.75 239.31,42.41 239.63,43.08 239.95,43.72 240.26,44.33 240.58,44.89 240.90,45.38 241.21,45.78 241.53,46.08 241.85,46.27 242.16,46.35 242.48,46.31 242.79,46.15 243.11,45.88 243.43,45.51 243.74,45.04 244.06,44.49 244.38,43.88 244.69,43.22 245.01,42.53 245.33,41.84 245.64,41.17 245.96,40.53 246.28,39.95 246.59,39.44 246.91,39.02 247.22,38.69 247.54,38.47 247.86,38.36 248.17,38.37 248.49,38.49 248.81,38.71 249.12,39.05 249.44,39.47 249.76,39.99 250.07,40.56 250.39,41.19 250.70,41.86 251.02,42.54 251.34,43.21 251.65,43.86 251.97,44.46 252.29,45.01 252.60,45.48 252.92,45.85 253.24,46.13 253.55,46.30 253.87,46.35 254.19,46.29 254.50,46.11 254.82,45.83 255.13,45.45 255.45,44.98 255.77,44.44 256.08,43.84 256.40,43.20 256.72,42.53 257.03,41.86 257.35,41.21 257.67,40.59 257.98,40.02 258.30,39.51 258.61,39.09 258.93,38.75 259.25,38.51 259.56,38.38 259.88,38.35 260.20,38.43 260.51,38.62 260.83,38.90 261.15,39.27 261.46,39.72 261.78,40.24 262.10,40.81 262.41,41.42 262.73,42.05 263.04,42.69 263.36,43.32 263.68,43.93 263.99,44.49 264.31,45.00 264.63,45.44 264.94,45.80 265.26,46.08 265.58,46.26 265.89,46.34 266.21,46.33 266.52,46.22 266.84,46.01 267.16,45.71 267.47,45.32 267.79,44.87 268.11,44.35 268.42,43.78 268.74,43.18 269.06,42.55 269.37,41.92 269.69,41.30 270.01,40.71 270.32,40.16 270.64,39.66 270.95,39.23 271.27,38.87 271.59,38.60 271.90,38.43 272.22,38.35 272.54,38.38 272.85,38.50 273.17,38.72 273.49,39.03 273.80,39.42 274.12,39.88 274.43,40.39 274.75,40.96 275.07,41.55 275.38,42.16 275.70,42.78 276.02,43.39 276.33,43.97 276.65,44.51 276.97,45.00 277.28,45.43 277.60,45.79 277.92,46.06 278.23,46.25 278.55,46.34 278.86,46.34 279.18,46.24 279.50,46.04 279.81,45.75 280.13,45.38 280.45,44.93 280.76,44.41 281.08,43.84 281.40,43.23 281.71,42.59 282.03,41.94 282.34,41.30 282.66,40.68 282.98,40.11 283.29,39.59 283.61,39.15 283.93,38.79 284.24,38.53 284.56,38.38 284.88,38.35 285.19,38.44 285.51,38.66 285.83,39.00 286.14,39.45 286.46,40.01 286.77,40.66 287.09,41.38 287.41,42.14 287.72,42.91 288.04,43.67 288.36,44.38 288.67,45.01 288.99,45.55 289.31,45.96 289.62,46.23 289.94,46.34 290.25,46.31 290.57,46.11 290.89,45.77 291.20,45.30 291.52,44.72 291.84,44.05 292.15,43.32 292.47,42.56 292.79,41.80 293.10,41.06 293.42,40.38 293.74,39.78 294.05,39.26 294.37,38.86 294.68,38.57 295.00,38.40 295.32,38.35 295.63,38.41 295.95,38.58 296.27,38.86 296.58,39.23 296.90,39.68 297.22,40.19 297.53,40.77 297.85,41.37 298.16,42.01 298.48,42.64 298.80,43.27 299.11,43.86 299.43,44.42 299.75,44.93 300.06,45.37 300.38,45.74 300.70,46.02 301.01,46.22 301.33,46.33 301.65,46.35 301.96,46.27 302.28,46.11 302.59,45.87 302.91,45.56 303.23,45.17 303.54,44.73 303.86,44.24 304.18,43.71 304.49,43.15 304.81,42.59 305.13,42.02 305.44,41.45 305.76,40.91 306.07,40.40 306.39,39.93 306.71,39.51 307.02,39.15 307.34,38.85 307.66,38.61 307.97,38.45 308.29,38.37 308.61,38.35 308.92,38.42 309.24,38.55 309.56,38.75 309.87,39.01 310.19,39.33 310.50,39.70 310.82,40.11 311.14,40.56 311.45,41.04 311.77,41.53 312.09,42.04 312.40,42.55 312.72,43.05 313.04,43.54 313.35,44.00 313.67,44.44 313.98,44.85 314.30,45.22 314.62,45.54 314.93,45.81 315.25,46.03 315.57,46.19 315.88,46.30 316.20,46.35 316.52,46.34 316.83,46.27 317.15,46.14 317.47,45.96 317.78,45.72 318.10,45.44 318.41,45.11 318.73,44.75 319.05,44.35 319.36,43.92 319.68,43.46 320.00,43.00 320.31,42.52 320.63,42.04 320.95,41.56 321.26,41.09 321.58,40.64 321.89,40.22 322.21,39.83 322.53,39.47 322.84,39.15 323.16,38.88 323.48,38.66 323.79,38.50 324.11,38.40 324.43,38.35 324.74,38.37 325.06,38.45 325.38,38.58 325.69,38.77 326.01,39.02 326.32,39.31 326.64,39.65 326.96,40.03 327.27,40.44 327.59,40.88 327.91,41.34 328.22,41.81 328.54,42.29 328.86,42.77 329.17,43.25 329.49,43.71 329.80,44.15 330.12,44.56 330.44,44.95 330.75,45.29 331.07,45.60 331.39,45.85 331.70,46.06 332.02,46.21 332.34,46.31 332.65,46.35 332.97,46.33 333.29,46.25 333.60,46.11 333.92,45.92 334.23,45.67 334.55,45.37 334.87,45.03 335.18,44.64 335.50,44.21 335.82,43.76 336.13,43.28 336.45,42.78 336.77,42.27 337.08,41.77 337.40,41.27 337.71,40.78 338.03,40.32 338.35,39.89 338.66,39.50 338.98,39.15 339.30,38.86 339.61,38.63 339.93,38.47 340.25,38.37 340.56,38.35 340.88,38.40 341.20,38.53 341.51,38.74 341.83,39.01 342.14,39.35 342.46,39.76 342.78,40.22 343.09,40.73 343.41,41.28 343.73,41.85 344.04,42.44 344.36,43.03 344.68,43.60 344.99,44.15 345.31,44.67 345.62,45.13 345.94,45.53 346.26,45.86 346.57,46.11 346.89,46.27 347.21,46.35 347.52,46.33 347.84,46.21 348.16,46.00 348.47,45.71 348.79,45.34 349.11,44.89 349.42,44.38 349.74,43.82 350.05,43.23 350.37,42.61 350.69,41.99 351.00,41.38 351.32,40.79 351.64,40.23 351.95,39.73 352.27,39.30 352.59,38.93 352.90,38.65 353.22,38.46 353.53,38.36 353.85,38.36 354.17,38.45 354.48,38.64 354.80,38.92 355.12,39.28 355.43,39.72 355.75,40.23 356.07,40.78 356.38,41.38 356.70,42.00 357.02,42.64 357.33,43.26 357.65,43.87 357.96,44.43 358.28,44.95 358.60,45.40 358.91,45.77 359.23,46.06 359.55,46.25 359.86,46.34 360.18,46.33 360.50,46.22 360.81,46.01 361.13,45.71 361.44,45.31 361.76,44.85 362.08,44.32 362.39,43.73 362.71,43.12 363.03,42.48 363.34,41.84 363.66,41.21 363.98,40.62 364.29,40.06 364.61,39.57 364.93,39.15 365.24,38.81 365.56,38.56 365.87,38.40 366.19,38.35 366.51,38.40 366.82,38.54 367.14,38.79 367.46,39.12 367.77,39.54 368.09,40.02 368.41,40.57 368.72,41.16 369.04,41.78 369.35,42.41 369.67,43.04 369.99,43.66 370.30,44.24 370.62,44.77 370.94,45.25 371.25,45.65 371.57,45.96 371.89,46.19 372.20,46.32 372.52,46.35 372.84,46.28 373.15,46.10 373.47,45.84 373.78,45.48 374.10,45.05 374.42,44.55 374.73,43.99 375.05,43.39"/>
<polyline points="218.12,74.76 218.43,74.66 218.75,74.52 219.06,74.32 219.38,74.09 219.70,73.80 220.01,73.48 220.33,73.13 220.65,72.74 220.96,72.33 221.28,71.90 221.60,71.45 221.91,71.00 222.23,70.54 222.55,70.09 222.86,69.64 223.18,69.22 223.49,68.81 223.81,68.42 224.13,68.07 224.44,67.76 224.76,67.48 225.08,67.25 225.39,67.06 225.71,66.92 226.03,66.84 226.34,66.80 226.66,66.82 226.97,66.88 227.29,67.00 227.61,67.16 227.92,67.36 228.24,67.60 228.56,67.88 228.87,68.19 229.19,68.52 229.51,68.88 229.82,69.26 230.14,69.65 230.46,70.05 230.77,70.46 231.09,70.87 231.40,71.28 231.72,71.68 232.04,72.08 232.35,72.46 232.67,72.82 232.99,73.16 233.30,73.48 233.62,73.77 233.94,74.03 234.25,74.26 234.57,74.45 234.88,74.60 235.20,74.71 235.52,74.78 235.83,74.80 236.15,74.78 236.47,74.71 236.78,74.59 237.10,74.43 237.42,74.22 237.73,73.96 238.05,73.66 238.37,73.32 238.68,72.95 239.00,72.53 239.31,72.09 239.63,71.62 239.95,71.14 240.26,70.64 240.58,70.14 240.90,69.64 241.21,69.15 241.53,68.69 241.85,68.25 242.16,67.86 242.48,67.51 242.79,67.22 243.11,67.00 243.43,66.86 243.74,66.80 244.06,66.83 244.38,66.96 244.69,67.20 245.01,67.56 245.33,68.03 245.64,68.60 245.96,69.28 246.28,70.02 246.59,70.81 246.91,71.62 247.22,72.41 247.54,73.14 247.86,73.77 248.17,74.27 248.49,74.62 248.81,74.79 249.12,74.76 249.44,74.55 249.76,74.15 250.07,73.59 250.39,72.89 250.70,72.10 251.02,71.24 251.34,70.38 251.65,69.54 251.97,68.77 252.29,68.10 252.60,67.55 252.92,67.15 253.24,66.90 253.55,66.80 253.87,66.85 254.19,67.04 254.50,67.36 254.82,67.80 255.13,68.34 255.45,68.96 255.77,69.64 256.08,70.36 256.40,71.08 256.72,71.79 257.03,72.47 257.35,73.09 257.67,73.64 257.98,74.09 258.30,74.44 258.61,74.68 258.93,74.79 259.25,74.78 259.56,74.64 259.88,74.39 260.20,74.03 260.51,73.57 260.83,73.02 261.15,72.41 261.46,71.74 261.78,71.05 262.10,70.35 262.41,69.66 262.73,69.01 263.04,68.41 263.36,67.88 263.68,67.45 263.99,67.11 264.31,66.90 264.63,66.80 264.94,66.84 265.26,67.00 265.58,67.28 265.89,67.67 266.21,68.15 266.52,68.72 266.84,69.35 267.16,70.02 267.47,70.72 267.79,71.41 268.11,72.09 268.42,72.73 268.74,73.31 269.06,73.82 269.37,74.23 269.69,74.54 270.01,74.73 270.32,74.80 270.64,74.75 270.95,74.57 271.27,74.28 271.59,73.88 271.90,73.37 272.22,72.79 272.54,72.13 272.85,71.44 273.17,70.71 273.49,69.99 273.80,69.29 274.12,68.64 274.43,68.05 274.75,67.56 275.07,67.18 275.38,66.92 275.70,66.81 276.02,66.83 276.33,67.01 276.65,67.35 276.97,67.83 277.28,68.45 277.60,69.18 277.92,70.00 278.23,70.86 278.55,71.72 278.86,72.55 279.18,73.29 279.50,73.92 279.81,74.39 280.13,74.69 280.45,74.80 280.76,74.71 281.08,74.44 281.40,73.99 281.71,73.41 282.03,72.71 282.34,71.93 282.66,71.12 282.98,70.31 283.29,69.53 283.61,68.82 283.93,68.20 284.24,67.68 284.56,67.28 284.88,67.01 285.19,66.85 285.51,66.80 285.83,66.85 286.14,66.99 286.46,67.22 286.77,67.51 287.09,67.87 287.41,68.27 287.72,68.72 288.04,69.20 288.36,69.69 288.67,70.19 288.99,70.70 289.31,71.20 289.62,71.68 289.94,72.14 290.25,72.58 290.57,72.99 290.89,73.36 291.20,73.70 291.52,73.99 291.84,74.24 292.15,74.45 292.47,74.61 292.79,74.72 293.10,74.78 293.42,74.80 293.74,74.77 294.05,74.69 294.37,74.57 294.68,74.40 295.00,74.19 295.32,73.94 295.63,73.64 295.95,73.31 296.27,72.95 296.58,72.56 296.90,72.14 297.22,71.70 297.53,71.24 297.85,70.77 298.16,70.29 298.48,69.81 298.80,69.34 299.11,68.89 299.43,68.46 299.75,68.06 300.06,67.70 300.38,67.38 300.70,67.13 301.01,66.94 301.33,66.83 301.65,66.80 301.96,66.86 302.28,67.01 302.59,67.26 302.91,67.60 303.23,68.03 303.54,68.55 303.86,69.14 304.18,69.79 304.49,70.48 304.81,71.19 305.13,71.89 305.44,72.56 305.76,73.19 306.07,73.73 306.39,74.18 306.71,74.52 307.02,74.73 307.34,74.80 307.66,74.73 307.97,74.52 308.29,74.17 308.61,73.70 308.92,73.13 309.24,72.48 309.56,71.77 309.87,71.03 310.19,70.28 310.50,69.55 310.82,68.87 311.14,68.26 311.45,67.74 311.77,67.33 312.09,67.03 312.40,66.85 312.72,66.80 313.04,66.87 313.35,67.04 313.67,67.32 313.98,67.70 314.30,68.14 314.62,68.65 314.93,69.21 315.25,69.80 315.57,70.41 315.88,71.03 316.20,71.64 316.52,72.22 316.83,72.78 317.15,73.28 317.47,73.73 317.78,74.11 318.10,74.41 318.41,74.63 318.73,74.76 319.05,74.80 319.36,74.74 319.68,74.57 320.00,74.31 320.31,73.95 320.63,73.50 320.95,72.96 321.26,72.36 321.58,71.69 321.89,70.99 322.21,70.27 322.53,69.55 322.84,68.86 323.16,68.22 323.48,67.67 323.79,67.23 324.11,66.94 324.43,66.81 324.74,66.86 325.06,67.13 325.38,67.65 325.69,68.41 326.01,69.39 326.32,70.51 326.64,71.70 326.96,72.83 327.27,73.79 327.59,74.47 327.91,74.78 328.22,74.70 328.54,74.23 328.86,73.43 329.17,72.38 329.49,71.22 329.80,70.04 330.12,68.96 330.44,68.07 330.75,67.41 331.07,66.99 331.39,66.81 331.70,66.84 332.02,67.04 332.34,67.39 332.65,67.87 332.97,68.45 333.29,69.10 333.60,69.79 333.92,70.50 334.23,71.21 334.55,71.89 334.87,72.52 335.18,73.09 335.50,73.60 335.82,74.02 336.13,74.35 336.45,74.60 336.77,74.75 337.08,74.80 337.40,74.76 337.71,74.63 338.03,74.41 338.35,74.11 338.66,73.73 338.98,73.29 339.30,72.79 339.61,72.23 339.93,71.64 340.25,71.03 340.56,70.40 340.88,69.78 341.20,69.17 341.51,68.60 341.83,68.07 342.14,67.62 342.46,67.25 342.78,66.98 343.09,66.83 343.41,66.81 343.73,66.93 344.04,67.19 344.36,67.58 344.68,68.11 344.99,68.75 345.31,69.47 345.62,70.25 345.94,71.07 346.26,71.88 346.57,72.65 346.89,73.34 347.21,73.93 347.52,74.38 347.84,74.67 348.16,74.80 348.47,74.74 348.79,74.51 349.11,74.11 349.42,73.56 349.74,72.89 350.05,72.13 350.37,71.31 350.69,70.48 351.00,69.66 351.32,68.89 351.64,68.21 351.95,67.65 352.27,67.22 352.59,66.93 352.90,66.81 353.22,66.84 353.53,67.02 353.85,67.34 354.17,67.79 354.48,68.34 354.80,68.99 355.12,69.70 355.43,70.44 355.75,71.19 356.07,71.93 356.38,72.62 356.70,73.25 357.02,73.79 357.33,74.23 357.65,74.55 357.96,74.74 358.28,74.80 358.60,74.72 358.91,74.50 359.23,74.16 359.55,73.70 359.86,73.13 360.18,72.49 360.50,71.79 360.81,71.04 361.13,70.29 361.44,69.55 361.76,68.86 362.08,68.23 362.39,67.69 362.71,67.27 363.03,66.97 363.34,66.82 363.66,66.82 363.98,66.98 364.29,67.28 364.61,67.73 364.93,68.30 365.24,68.98 365.56,69.73 365.87,70.53 366.19,71.34 366.51,72.14 366.82,72.88 367.14,73.53 367.46,74.07 367.77,74.47 368.09,74.72 368.41,74.80 368.72,74.71 369.04,74.45 369.35,74.04 369.67,73.48 369.99,72.82 370.30,72.06 370.62,71.25 370.94,70.42 371.25,69.61 371.57,68.85 371.89,68.18 372.20,67.61 372.52,67.19 372.84,66.91 373.15,66.80 373.47,66.86 373.78,67.08 374.10,67.46 374.42,67.98 374.73,68.62 375.05,69.34"/>
</g>
<text x="214.85" y="16.95" font-size="7.0" text-anchor="end" fill="#3a3a3a">1</text>
<line x1="216.55" y1="13.95" x2="218.65" y2="13.95" stroke="#555" stroke-width="0.8"/>
<text x="214.85" y="31.30" font-size="7.0" text-anchor="end" fill="#3a3a3a">2</text>
<line x1="216.55" y1="28.30" x2="218.65" y2="28.30" stroke="#555" stroke-width="0.8"/>
<text x="214.85" y="45.35" font-size="7.0" text-anchor="end" fill="#3a3a3a">3</text>
<line x1="216.55" y1="42.35" x2="218.65" y2="42.35" stroke="#555" stroke-width="0.8"/>
<text x="214.85" y="73.80" font-size="7.0" text-anchor="end" fill="#3a3a3a">40</text>
<line x1="216.55" y1="70.80" x2="218.65" y2="70.80" stroke="#555" stroke-width="0.8"/>
<circle cx="295.95" cy="52.90" r="0.75" fill="#222"/>
<circle cx="295.95" cy="56.70" r="0.75" fill="#222"/>
<circle cx="295.95" cy="60.50" r="0.75" fill="#222"/>
<line x1="216.85" y1="78.15" x2="375.05" y2="78.15" stroke="#808080" stroke-width="1.05"/>
<line x1="216.85" y1="76.25" x2="216.85" y2="78.15" stroke="#404040" stroke-width="0.7"/>
<text x="216.85" y="87.0" font-size="7.0" text-anchor="middle" fill="#3a3a3a">0</text>
<line x1="256.40" y1="76.25" x2="256.40" y2="78.15" stroke="#404040" stroke-width="0.7"/>
<text x="256.40" y="87.0" font-size="7.0" text-anchor="middle" fill="#3a3a3a">0.25</text>
<line x1="295.95" y1="76.25" x2="295.95" y2="78.15" stroke="#404040" stroke-width="0.7"/>
<text x="295.95" y="87.0" font-size="7.0" text-anchor="middle" fill="#3a3a3a">0.5</text>
<line x1="335.50" y1="76.25" x2="335.50" y2="78.15" stroke="#404040" stroke-width="0.7"/>
<text x="335.50" y="87.0" font-size="7.0" text-anchor="middle" fill="#3a3a3a">0.75</text>
<line x1="375.05" y1="76.25" x2="375.05" y2="78.15" stroke="#404040" stroke-width="0.7"/>
<text x="375.05" y="87.0" font-size="7.0" text-anchor="middle" fill="#3a3a3a">1</text>
<text x="295.95" y="96.2" font-size="7.6" text-anchor="middle" fill="#3a3a3a">Time (s)</text>
<text transform="translate(204.75,42.6) rotate(-90)" x="0" y="0" font-size="7.55" text-anchor="middle" fill="#3a3a3a">Sequence No.</text>
<text x="287.5" y="112.5" font-family="Liberation Serif" font-size="15" text-anchor="middle" fill="#000" stroke="#000" stroke-width="0.45">(b)</text>
<text x="487.55" y="4.9" font-size="7.5" text-anchor="middle" fill="#222">JFPM-8</text>
<g fill="none" stroke="#2828ff" stroke-width="0.9" stroke-linejoin="round">
<polyline points="409.72,9.95 410.03,10.14 410.35,10.37 410.66,10.63 410.98,10.93 411.30,11.26 411.61,11.62 411.93,12.00 412.25,12.40 412.56,12.82 412.88,13.24 413.20,13.68 413.51,14.11 413.83,14.55 414.15,14.98 414.46,15.40 414.78,15.80 415.09,16.19 415.41,16.55 415.73,16.89 416.04,17.19 416.36,17.47 416.68,17.71 416.99,17.91 417.31,18.07 417.63,18.19 417.94,18.27 418.26,18.30 418.57,18.29 418.89,18.23 419.21,18.13 419.52,17.99 419.84,17.81 420.16,17.59 420.47,17.34 420.79,17.05 421.11,16.72 421.42,16.37 421.74,16.00 422.06,15.60 422.37,15.19 422.69,14.77 423.00,14.33 423.32,13.90 423.64,13.46 423.95,13.03 424.27,12.61 424.59,12.20 424.90,11.81 425.22,11.44 425.54,11.09 425.85,10.78 426.17,10.50 426.48,10.25 426.80,10.04 427.12,9.87 427.43,9.74 427.75,9.65 428.07,9.61 428.38,9.61 428.70,9.65 429.02,9.74 429.33,9.87 429.65,10.04 429.97,10.25 430.28,10.50 430.60,10.78 430.91,11.09 431.23,11.44 431.55,11.81 431.86,12.20 432.18,12.61 432.50,13.03 432.81,13.46 433.13,13.90 433.45,14.33 433.76,14.77 434.08,15.19 434.39,15.60 434.71,16.00 435.03,16.37 435.34,16.72 435.66,17.05 435.98,17.34 436.29,17.59 436.61,17.81 436.93,17.99 437.24,18.13 437.56,18.23 437.88,18.29 438.19,18.30 438.51,18.27 438.82,18.19 439.14,18.07 439.46,17.91 439.77,17.71 440.09,17.47 440.41,17.19 440.72,16.89 441.04,16.55 441.36,16.19 441.67,15.80 441.99,15.40 442.30,14.98 442.62,14.55 442.94,14.11 443.25,13.68 443.57,13.24 443.89,12.82 444.20,12.40 444.52,12.00 444.84,11.62 445.15,11.26 445.47,10.93 445.79,10.63 446.10,10.37 446.42,10.14 446.73,9.95 447.05,9.80 447.37,9.69 447.68,9.62 448.00,9.60 448.32,9.62 448.63,9.69 448.95,9.80 449.27,9.95 449.58,10.14 449.90,10.37 450.21,10.63 450.53,10.93 450.85,11.26 451.16,11.62 451.48,12.00 451.80,12.40 452.11,12.82 452.43,13.24 452.75,13.68 453.06,14.11 453.38,14.55 453.70,14.98 454.01,15.40 454.33,15.80 454.64,16.19 454.96,16.55 455.28,16.89 455.59,17.19 455.91,17.47 456.23,17.71 456.54,17.91 456.86,18.07 457.18,18.19 457.49,18.27 457.81,18.30 458.12,18.29 458.44,18.23 458.76,18.13 459.07,17.99 459.39,17.81 459.71,17.59 460.02,17.34 460.34,17.05 460.66,16.72 460.97,16.37 461.29,16.00 461.61,15.60 461.92,15.19 462.24,14.77 462.55,14.33 462.87,13.90 463.19,13.46 463.50,13.03 463.82,12.61 464.14,12.20 464.45,11.81 464.77,11.44 465.09,11.09 465.40,10.78 465.72,10.50 466.03,10.25 466.35,10.04 466.67,9.87 466.98,9.74 467.30,9.65 467.62,9.61 467.93,9.61 468.25,9.65 468.57,9.74 468.88,9.87 469.20,10.04 469.52,10.25 469.83,10.50 470.15,10.78 470.46,11.09 470.78,11.44 471.10,11.81 471.41,12.20 471.73,12.61 472.05,13.03 472.36,13.46 472.68,13.90 473.00,14.33 473.31,14.77 473.63,15.19 473.94,15.60 474.26,16.00 474.58,16.37 474.89,16.72 475.21,17.05 475.53,17.34 475.84,17.59 476.16,17.81 476.48,17.99 476.79,18.13 477.11,18.23 477.43,18.29 477.74,18.30 478.06,18.27 478.37,18.19 478.69,18.07 479.01,17.91 479.32,17.71 479.64,17.47 479.96,17.19 480.27,16.89 480.59,16.55 480.91,16.19 481.22,15.80 481.54,15.40 481.85,14.98 482.17,14.55 482.49,14.11 482.80,13.68 483.12,13.24 483.44,12.82 483.75,12.40 484.07,12.00 484.39,11.62 484.70,11.26 485.02,10.93 485.34,10.63 485.65,10.37 485.97,10.14 486.28,9.95 486.60,9.80 486.92,9.69 487.23,9.62 487.55,9.60 487.87,9.62 488.18,9.69 488.50,9.80 488.82,9.95 489.13,10.14 489.45,10.37 489.76,10.63 490.08,10.93 490.40,11.26 490.71,11.62 491.03,12.00 491.35,12.40 491.66,12.82 491.98,13.24 492.30,13.68 492.61,14.11 492.93,14.55 493.25,14.98 493.56,15.40 493.88,15.80 494.19,16.19 494.51,16.55 494.83,16.89 495.14,17.19 495.46,17.47 495.78,17.71 496.09,17.91 496.41,18.07 496.73,18.19 497.04,18.27 497.36,18.30 497.67,18.29 497.99,18.23 498.31,18.13 498.62,17.99 498.94,17.81 499.26,17.59 499.57,17.34 499.89,17.05 500.21,16.72 500.52,16.37 500.84,16.00 501.16,15.60 501.47,15.19 501.79,14.77 502.10,14.33 502.42,13.90 502.74,13.46 503.05,13.03 503.37,12.61 503.69,12.20 504.00,11.81 504.32,11.44 504.64,11.09 504.95,10.78 505.27,10.50 505.58,10.25 505.90,10.04 506.22,9.87 506.53,9.74 506.85,9.65 507.17,9.61 507.48,9.61 507.80,9.65 508.12,9.74 508.43,9.87 508.75,10.04 509.07,10.25 509.38,10.50 509.70,10.78 510.01,11.09 510.33,11.44 510.65,11.81 510.96,12.20 511.28,12.61 511.60,13.03 511.91,13.46 512.23,13.90 512.55,14.33 512.86,14.77 513.18,15.19 513.49,15.60 513.81,16.00 514.13,16.37 514.44,16.72 514.76,17.05 515.08,17.34 515.39,17.59 515.71,17.81 516.03,17.99 516.34,18.13 516.66,18.23 516.98,18.29 517.29,18.30 517.61,18.27 517.92,18.19 518.24,18.07 518.56,17.91 518.87,17.71 519.19,17.47 519.51,17.19 519.82,16.89 520.14,16.55 520.46,16.19 520.77,15.80 521.09,15.40 521.40,14.98 521.72,14.55 522.04,14.11 522.35,13.68 522.67,13.24 522.99,12.82 523.30,12.40 523.62,12.00 523.94,11.62 524.25,11.26 524.57,10.93 524.89,10.63 525.20,10.37 525.52,10.14 525.83,9.95 526.15,9.80 526.47,9.69 526.78,9.62 527.10,9.60 527.42,9.62 527.73,9.69 528.05,9.80 528.37,9.95 528.68,10.14 529.00,10.37 529.31,10.63 529.63,10.93 529.95,11.26 530.26,11.62 530.58,12.00 530.90,12.40 531.21,12.82 531.53,13.24 531.85,13.68 532.16,14.11 532.48,14.55 532.80,14.98 533.11,15.40 533.43,15.80 533.74,16.19 534.06,16.55 534.38,16.89 534.69,17.19 535.01,17.47 535.33,17.71 535.64,17.91 535.96,18.07 536.28,18.19 536.59,18.27 536.91,18.30 537.22,18.29 537.54,18.23 537.86,18.13 538.17,17.99 538.49,17.81 538.81,17.59 539.12,17.34 539.44,17.05 539.76,16.72 540.07,16.37 540.39,16.00 540.71,15.60 541.02,15.19 541.34,14.77 541.65,14.33 541.97,13.90 542.29,13.46 542.60,13.03 542.92,12.61 543.24,12.20 543.55,11.81 543.87,11.44 544.19,11.09 544.50,10.78 544.82,10.50 545.13,10.25 545.45,10.04 545.77,9.87 546.08,9.74 546.40,9.65 546.72,9.61 547.03,9.61 547.35,9.65 547.67,9.74 547.98,9.87 548.30,10.04 548.62,10.25 548.93,10.50 549.25,10.78 549.56,11.09 549.88,11.44 550.20,11.81 550.51,12.20 550.83,12.61 551.15,13.03 551.46,13.46 551.78,13.90 552.10,14.33 552.41,14.77 552.73,15.19 553.04,15.60 553.36,16.00 553.68,16.37 553.99,16.72 554.31,17.05 554.63,17.34 554.94,17.59 555.26,17.81 555.58,17.99 555.89,18.13 556.21,18.23 556.53,18.29 556.84,18.30 557.16,18.27 557.47,18.19 557.79,18.07 558.11,17.91 558.42,17.71 558.74,17.47 559.06,17.19 559.37,16.89 559.69,16.55 560.01,16.19 560.32,15.80 560.64,15.40 560.95,14.98 561.27,14.55 561.59,14.11 561.90,13.68 562.22,13.24 562.54,12.82 562.85,12.40 563.17,12.00 563.49,11.62 563.80,11.26 564.12,10.93 564.44,10.63 564.75,10.37 565.07,10.14 565.38,9.95 565.70,9.80 566.02,9.69 566.33,9.62 566.65,9.60"/>
<polyline points="409.72,29.94 410.03,30.32 410.35,30.68 410.66,31.01 410.98,31.31 411.30,31.58 411.61,31.82 411.93,32.01 412.25,32.17 412.56,32.29 412.88,32.37 413.20,32.40 413.51,32.39 413.83,32.33 414.15,32.24 414.46,32.10 414.78,31.92 415.09,31.70 415.41,31.45 415.73,31.16 416.04,30.84 416.36,30.50 416.68,30.13 416.99,29.74 417.31,29.34 417.63,28.93 417.94,28.51 418.26,28.08 418.57,27.66 418.89,27.25 419.21,26.85 419.52,26.46 419.84,26.09 420.16,25.75 420.47,25.43 420.79,25.15 421.11,24.89 421.42,24.68 421.74,24.50 422.06,24.36 422.37,24.27 422.69,24.21 423.00,24.20 423.32,24.23 423.64,24.31 423.95,24.43 424.27,24.59 424.59,24.79 424.90,25.03 425.22,25.30 425.54,25.60 425.85,25.93 426.17,26.29 426.48,26.67 426.80,27.06 427.12,27.47 427.43,27.89 427.75,28.31 428.07,28.73 428.38,29.15 428.70,29.56 429.02,29.95 429.33,30.33 429.65,30.68 429.97,31.02 430.28,31.32 430.60,31.59 430.91,31.82 431.23,32.02 431.55,32.18 431.86,32.29 432.18,32.37 432.50,32.40 432.81,32.39 433.13,32.33 433.45,32.23 433.76,32.09 434.08,31.91 434.39,31.69 434.71,31.44 435.03,31.15 435.34,30.83 435.66,30.49 435.98,30.12 436.29,29.73 436.61,29.33 436.93,28.92 437.24,28.50 437.56,28.07 437.88,27.65 438.19,27.24 438.51,26.84 438.82,26.45 439.14,26.09 439.46,25.74 439.77,25.43 440.09,25.14 440.41,24.89 440.72,24.67 441.04,24.50 441.36,24.36 441.67,24.26 441.99,24.21 442.30,24.20 442.62,24.24 442.94,24.31 443.25,24.43 443.57,24.59 443.89,24.79 444.20,25.03 444.52,25.30 444.84,25.61 445.15,25.94 445.47,26.30 445.79,26.68 446.10,27.07 446.42,27.48 446.73,27.90 447.05,28.32 447.37,28.74 447.68,29.16 448.00,29.57 448.32,29.96 448.63,30.34 448.95,30.69 449.27,31.02 449.58,31.32 449.90,31.59 450.21,31.83 450.53,32.02 450.85,32.18 451.16,32.30 451.48,32.37 451.80,32.40 452.11,32.39 452.43,32.33 452.75,32.23 453.06,32.09 453.38,31.91 453.70,31.69 454.01,31.43 454.33,31.14 454.64,30.83 454.96,30.48 455.28,30.11 455.59,29.72 455.91,29.32 456.23,28.91 456.54,28.49 456.86,28.06 457.18,27.64 457.49,27.23 457.81,26.83 458.12,26.44 458.44,26.08 458.76,25.73 459.07,25.42 459.39,25.13 459.71,24.88 460.02,24.67 460.34,24.49 460.66,24.36 460.97,24.26 461.29,24.21 461.61,24.20 461.92,24.24 462.24,24.32 462.55,24.44 462.87,24.60 463.19,24.80 463.50,25.04 463.82,25.31 464.14,25.62 464.45,25.95 464.77,26.31 465.09,26.69 465.40,27.08 465.72,27.49 466.03,27.91 466.35,28.33 466.67,28.75 466.98,29.17 467.30,29.58 467.62,29.97 467.93,30.35 468.25,30.70 468.57,31.03 468.88,31.33 469.20,31.60 469.52,31.83 469.83,32.03 470.15,32.18 470.46,32.30 470.78,32.37 471.10,32.40 471.41,32.39 471.73,32.33 472.05,32.23 472.36,32.08 472.68,31.90 473.00,31.68 473.31,31.43 473.63,31.14 473.94,30.82 474.26,30.47 474.58,30.10 474.89,29.71 475.21,29.31 475.53,28.90 475.84,28.48 476.16,28.05 476.48,27.63 476.79,27.22 477.11,26.82 477.43,26.43 477.74,26.07 478.06,25.73 478.37,25.41 478.69,25.13 479.01,24.88 479.32,24.66 479.64,24.49 479.96,24.35 480.27,24.26 480.59,24.21 480.91,24.20 481.22,24.24 481.54,24.32 481.85,24.44 482.17,24.60 482.49,24.81 482.80,25.04 483.12,25.32 483.44,25.62 483.75,25.96 484.07,26.32 484.39,26.70 484.70,27.09 485.02,27.50 485.34,27.92 485.65,28.34 485.97,28.76 486.28,29.18 486.60,29.59 486.92,29.98 487.23,30.36 487.55,30.71 487.87,31.04 488.18,31.34 488.50,31.60 488.82,31.84 489.13,32.03 489.45,32.19 489.76,32.30 490.08,32.37 490.40,32.40 490.71,32.38 491.03,32.33 491.35,32.22 491.66,32.08 491.98,31.90 492.30,31.68 492.61,31.42 492.93,31.13 493.25,30.81 493.56,30.46 493.88,30.09 494.19,29.70 494.51,29.30 494.83,28.89 495.14,28.46 495.46,28.04 495.78,27.62 496.09,27.21 496.41,26.81 496.73,26.42 497.04,26.06 497.36,25.72 497.67,25.40 497.99,25.12 498.31,24.87 498.62,24.66 498.94,24.48 499.26,24.35 499.57,24.26 499.89,24.21 500.21,24.20 500.52,24.24 500.84,24.32 501.16,24.44 501.47,24.61 501.79,24.81 502.10,25.05 502.42,25.33 502.74,25.63 503.05,25.97 503.37,26.32 503.69,26.70 504.00,27.10 504.32,27.51 504.64,27.93 504.95,28.35 505.27,28.77 505.58,29.19 505.90,29.60 506.22,29.99 506.53,30.36 506.85,30.72 507.17,31.05 507.48,31.34 507.80,31.61 508.12,31.84 508.43,32.04 508.75,32.19 509.07,32.30 509.38,32.37 509.70,32.40 510.01,32.38 510.33,32.32 510.65,32.22 510.96,32.08 511.28,31.89 511.60,31.67 511.91,31.41 512.23,31.12 512.55,30.80 512.86,30.45 513.18,30.08 513.49,29.69 513.81,29.29 514.13,28.88 514.44,28.45 514.76,28.03 515.08,27.61 515.39,27.20 515.71,26.80 516.03,26.42 516.34,26.05 516.66,25.71 516.98,25.40 517.29,25.11 517.61,24.87 517.92,24.65 518.24,24.48 518.56,24.35 518.87,24.26 519.19,24.21 519.51,24.20 519.82,24.24 520.14,24.32 520.46,24.45 520.77,24.61 521.09,24.82 521.40,25.06 521.72,25.33 522.04,25.64 522.35,25.97 522.67,26.33 522.99,26.71 523.30,27.11 523.62,27.52 523.94,27.94 524.25,28.36 524.57,28.78 524.89,29.20 525.20,29.61 525.52,30.00 525.83,30.37 526.15,30.73 526.47,31.05 526.78,31.35 527.10,31.62 527.42,31.85 527.73,32.04 528.05,32.19 528.37,32.30 528.68,32.37 529.00,32.40 529.31,32.38 529.63,32.32 529.95,32.22 530.26,32.07 530.58,31.89 530.90,31.66 531.21,31.41 531.53,31.11 531.85,30.79 532.16,30.44 532.48,30.07 532.80,29.68 533.11,29.28 533.43,28.86 533.74,28.44 534.06,28.02 534.38,27.60 534.69,27.19 535.01,26.79 535.33,26.41 535.64,26.04 535.96,25.70 536.28,25.39 536.59,25.11 536.91,24.86 537.22,24.65 537.54,24.48 537.86,24.34 538.17,24.25 538.49,24.21 538.81,24.20 539.12,24.24 539.44,24.33 539.76,24.45 540.07,24.62 540.39,24.82 540.71,25.06 541.02,25.34 541.34,25.65 541.65,25.98 541.97,26.34 542.29,26.72 542.60,27.12 542.92,27.53 543.24,27.95 543.55,28.37 543.87,28.79 544.19,29.21 544.50,29.62 544.82,30.01 545.13,30.38 545.45,30.73 545.77,31.06 546.08,31.36 546.40,31.62 546.72,31.85 547.03,32.04 547.35,32.20 547.67,32.31 547.98,32.37 548.30,32.40 548.62,32.38 548.93,32.32 549.25,32.21 549.56,32.07 549.88,31.88 550.20,31.66 550.51,31.40 550.83,31.11 551.15,30.78 551.46,30.44 551.78,30.06 552.10,29.67 552.41,29.27 552.73,28.85 553.04,28.43 553.36,28.01 553.68,27.59 553.99,27.18 554.31,26.78 554.63,26.40 554.94,26.03 555.26,25.69 555.58,25.38 555.89,25.10 556.21,24.85 556.53,24.64 556.84,24.47 557.16,24.34 557.47,24.25 557.79,24.21 558.11,24.20 558.42,24.24 558.74,24.33 559.06,24.45 559.37,24.62 559.69,24.83 560.01,25.07 560.32,25.35 560.64,25.65 560.95,25.99 561.27,26.35 561.59,26.73 561.90,27.13 562.22,27.54 562.54,27.96 562.85,28.38 563.17,28.80 563.49,29.22 563.80,29.63 564.12,30.02 564.44,30.39 564.75,30.74 565.07,31.07 565.38,31.37 565.70,31.63 566.02,31.86 566.33,32.05 566.65,32.20"/>
<polyline points="409.72,46.09 410.03,45.89 410.35,45.65 410.66,45.38 410.98,45.07 411.30,44.73 411.61,44.37 411.93,43.98 412.25,43.58 412.56,43.16 412.88,42.73 413.20,42.30 413.51,41.87 413.83,41.44 414.15,41.02 414.46,40.62 414.78,40.24 415.09,39.88 415.41,39.55 415.73,39.25 416.04,38.99 416.36,38.76 416.68,38.57 416.99,38.42 417.31,38.32 417.63,38.26 417.94,38.25 418.26,38.28 418.57,38.36 418.89,38.49 419.21,38.65 419.52,38.86 419.84,39.11 420.16,39.39 420.47,39.70 420.79,40.05 421.11,40.42 421.42,40.81 421.74,41.22 422.06,41.64 422.37,42.07 422.69,42.50 423.00,42.94 423.32,43.36 423.64,43.77 423.95,44.17 424.27,44.55 424.59,44.90 424.90,45.22 425.22,45.52 425.54,45.77 425.85,45.99 426.17,46.17 426.48,46.31 426.80,46.40 427.12,46.44 427.43,46.44 427.75,46.40 428.07,46.31 428.38,46.18 428.70,46.00 429.02,45.78 429.33,45.53 429.65,45.24 429.97,44.92 430.28,44.56 430.60,44.19 430.91,43.79 431.23,43.38 431.55,42.96 431.86,42.53 432.18,42.09 432.50,41.66 432.81,41.24 433.13,40.83 433.45,40.44 433.76,40.07 434.08,39.72 434.39,39.40 434.71,39.12 435.03,38.87 435.34,38.66 435.66,38.49 435.98,38.37 436.29,38.29 436.61,38.25 436.93,38.26 437.24,38.32 437.56,38.42 437.88,38.56 438.19,38.75 438.51,38.97 438.82,39.24 439.14,39.54 439.46,39.87 439.77,40.22 440.09,40.60 440.41,41.00 440.72,41.42 441.04,41.85 441.36,42.28 441.67,42.71 441.99,43.14 442.30,43.56 442.62,43.96 442.94,44.35 443.25,44.72 443.57,45.06 443.89,45.37 444.20,45.64 444.52,45.88 444.84,46.08 445.15,46.24 445.47,46.35 445.79,46.42 446.10,46.45 446.42,46.43 446.73,46.36 447.05,46.25 447.37,46.10 447.68,45.90 448.00,45.67 448.32,45.39 448.63,45.09 448.95,44.75 449.27,44.39 449.58,44.00 449.90,43.60 450.21,43.18 450.53,42.75 450.85,42.32 451.16,41.89 451.48,41.46 451.80,41.04 452.11,40.64 452.43,40.26 452.75,39.90 453.06,39.57 453.38,39.26 453.70,39.00 454.01,38.77 454.33,38.58 454.64,38.43 454.96,38.32 455.28,38.26 455.59,38.25 455.91,38.28 456.23,38.36 456.54,38.48 456.86,38.64 457.18,38.85 457.49,39.09 457.81,39.38 458.12,39.69 458.44,40.03 458.76,40.40 459.07,40.79 459.39,41.20 459.71,41.62 460.02,42.05 460.34,42.48 460.66,42.91 460.97,43.34 461.29,43.75 461.61,44.15 461.92,44.53 462.24,44.88 462.55,45.21 462.87,45.50 463.19,45.76 463.50,45.98 463.82,46.16 464.14,46.30 464.45,46.39 464.77,46.44 465.09,46.45 465.40,46.40 465.72,46.32 466.03,46.18 466.35,46.01 466.67,45.80 466.98,45.54 467.30,45.25 467.62,44.93 467.93,44.58 468.25,44.21 468.57,43.81 468.88,43.40 469.20,42.98 469.52,42.55 469.83,42.11 470.15,41.68 470.46,41.26 470.78,40.85 471.10,40.46 471.41,40.08 471.73,39.74 472.05,39.42 472.36,39.13 472.68,38.88 473.00,38.67 473.31,38.50 473.63,38.37 473.94,38.29 474.26,38.25 474.58,38.26 474.89,38.31 475.21,38.41 475.53,38.55 475.84,38.74 476.16,38.96 476.48,39.22 476.79,39.52 477.11,39.85 477.43,40.21 477.74,40.59 478.06,40.99 478.37,41.40 478.69,41.83 479.01,42.26 479.32,42.69 479.64,43.12 479.96,43.54 480.27,43.95 480.59,44.33 480.91,44.70 481.22,45.04 481.54,45.35 481.85,45.63 482.17,45.87 482.49,46.07 482.80,46.23 483.12,46.35 483.44,46.42 483.75,46.45 484.07,46.43 484.39,46.37 484.70,46.26 485.02,46.11 485.34,45.91 485.65,45.68 485.97,45.41 486.28,45.10 486.60,44.77 486.92,44.41 487.23,44.02 487.55,43.62 487.87,43.20 488.18,42.77 488.50,42.34 488.82,41.91 489.13,41.48 489.45,41.06 489.76,40.66 490.08,40.28 490.40,39.92 490.71,39.58 491.03,39.28 491.35,39.01 491.66,38.78 491.98,38.59 492.30,38.44 492.61,38.33 492.93,38.27 493.25,38.25 493.56,38.28 493.88,38.35 494.19,38.47 494.51,38.64 494.83,38.84 495.14,39.08 495.46,39.36 495.78,39.67 496.09,40.02 496.41,40.38 496.73,40.77 497.04,41.18 497.36,41.60 497.67,42.03 497.99,42.46 498.31,42.89 498.62,43.32 498.94,43.73 499.26,44.13 499.57,44.51 499.89,44.87 500.21,45.19 500.52,45.49 500.84,45.75 501.16,45.97 501.47,46.15 501.79,46.29 502.10,46.39 502.42,46.44 502.74,46.45 503.05,46.41 503.37,46.32 503.69,46.19 504.00,46.02 504.32,45.81 504.64,45.55 504.95,45.27 505.27,44.95 505.58,44.60 505.90,44.23 506.22,43.83 506.53,43.42 506.85,43.00 507.17,42.57 507.48,42.13 507.80,41.70 508.12,41.28 508.43,40.87 508.75,40.47 509.07,40.10 509.38,39.75 509.70,39.43 510.01,39.15 510.33,38.89 510.65,38.68 510.96,38.51 511.28,38.38 511.60,38.29 511.91,38.25 512.23,38.26 512.55,38.31 512.86,38.41 513.18,38.55 513.49,38.73 513.81,38.95 514.13,39.21 514.44,39.51 514.76,39.83 515.08,40.19 515.39,40.57 515.71,40.97 516.03,41.38 516.34,41.81 516.66,42.24 516.98,42.67 517.29,43.10 517.61,43.52 517.92,43.93 518.24,44.32 518.56,44.68 518.87,45.03 519.19,45.34 519.51,45.62 519.82,45.86 520.14,46.06 520.46,46.23 520.77,46.35 521.09,46.42 521.40,46.45 521.72,46.43 522.04,46.37 522.35,46.26 522.67,46.11 522.99,45.92 523.30,45.69 523.62,45.42 523.94,45.12 524.25,44.78 524.57,44.42 524.89,44.04 525.20,43.64 525.52,43.22 525.83,42.79 526.15,42.36 526.47,41.93 526.78,41.50 527.10,41.08 527.42,40.68 527.73,40.29 528.05,39.93 528.37,39.60 528.68,39.29 529.00,39.02 529.31,38.79 529.63,38.59 529.95,38.44 530.26,38.33 530.58,38.27 530.90,38.25 531.21,38.28 531.53,38.35 531.85,38.47 532.16,38.63 532.48,38.83 532.80,39.07 533.11,39.35 533.43,39.66 533.74,40.00 534.06,40.37 534.38,40.75 534.69,41.16 535.01,41.58 535.33,42.01 535.64,42.44 535.96,42.87 536.28,43.30 536.59,43.71 536.91,44.11 537.22,44.49 537.54,44.85 537.86,45.18 538.17,45.48 538.49,45.74 538.81,45.96 539.12,46.15 539.44,46.29 539.76,46.39 540.07,46.44 540.39,46.45 540.71,46.41 541.02,46.33 541.34,46.20 541.65,46.03 541.97,45.82 542.29,45.57 542.60,45.28 542.92,44.96 543.24,44.62 543.55,44.24 543.87,43.85 544.19,43.44 544.50,43.02 544.82,42.59 545.13,42.15 545.45,41.72 545.77,41.30 546.08,40.89 546.40,40.49 546.72,40.12 547.03,39.77 547.35,39.45 547.67,39.16 547.98,38.90 548.30,38.69 548.62,38.52 548.93,38.38 549.25,38.30 549.56,38.25 549.88,38.26 550.20,38.31 550.51,38.40 550.83,38.54 551.15,38.72 551.46,38.94 551.78,39.20 552.10,39.49 552.41,39.82 552.73,40.17 553.04,40.55 553.36,40.95 553.68,41.36 553.99,41.79 554.31,42.22 554.63,42.65 554.94,43.08 555.26,43.50 555.58,43.91 555.89,44.30 556.21,44.67 556.53,45.01 556.84,45.32 557.16,45.61 557.47,45.85 557.79,46.06 558.11,46.22 558.42,46.34 558.74,46.42 559.06,46.45 559.37,46.44 559.69,46.38 560.01,46.27 560.32,46.12 560.64,45.93 560.95,45.70 561.27,45.44 561.59,45.13 561.90,44.80 562.22,44.44 562.54,44.06 562.85,43.66 563.17,43.24 563.49,42.81 563.80,42.38 564.12,41.95 564.44,41.52 564.75,41.10 565.07,40.70 565.38,40.31 565.70,39.95 566.02,39.61 566.33,39.31 566.65,39.03"/>
<polyline points="409.72,67.88 410.03,67.37 410.35,66.99 410.66,66.77 410.98,66.70 411.30,66.80 411.61,67.05 411.93,67.45 412.25,67.98 412.56,68.62 412.88,69.35 413.20,70.13 413.51,70.94 413.83,71.75 414.15,72.52 414.46,73.22 414.78,73.82 415.09,74.31 415.41,74.66 415.73,74.86 416.04,74.89 416.36,74.77 416.68,74.49 416.99,74.07 417.31,73.52 417.63,72.86 417.94,72.12 418.26,71.32 418.57,70.51 418.89,69.71 419.21,68.95 419.52,68.27 419.84,67.68 420.16,67.22 420.47,66.89 420.79,66.73 421.11,66.72 421.42,66.87 421.74,67.17 422.06,67.62 422.37,68.19 422.69,68.87 423.00,69.62 423.32,70.42 423.64,71.23 423.95,72.03 424.27,72.78 424.59,73.45 424.90,74.01 425.22,74.45 425.54,74.75 425.85,74.89 426.17,74.87 426.48,74.69 426.80,74.36 427.12,73.89 427.43,73.29 427.75,72.60 428.07,71.84 428.38,71.04 428.70,70.22 429.02,69.44 429.33,68.70 429.65,68.05 429.97,67.50 430.28,67.09 430.60,66.82 430.91,66.70 431.23,66.75 431.55,66.96 431.86,67.32 432.18,67.81 432.50,68.42 432.81,69.13 433.13,69.90 433.45,70.71 433.76,71.52 434.08,72.30 434.39,73.02 434.71,73.66 435.03,74.18 435.34,74.57 435.66,74.82 435.98,74.90 436.29,74.82 436.61,74.59 436.93,74.21 437.24,73.69 437.56,73.06 437.88,72.34 438.19,71.56 438.51,70.75 438.82,69.94 439.14,69.17 439.46,68.46 439.77,67.84 440.09,67.34 440.41,66.97 440.72,66.76 441.04,66.70 441.36,66.81 441.67,67.07 441.99,67.48 442.30,68.02 442.62,68.66 442.94,69.40 443.25,70.18 443.57,71.00 443.89,71.80 444.20,72.56 444.52,73.26 444.84,73.86 445.15,74.34 445.47,74.68 445.79,74.86 446.10,74.89 446.42,74.76 446.73,74.47 447.05,74.04 447.37,73.48 447.68,72.81 448.00,72.07 448.32,71.27 448.63,70.46 448.95,69.66 449.27,68.91 449.58,68.23 449.90,67.65 450.21,67.19 450.53,66.88 450.85,66.72 451.16,66.72 451.48,66.88 451.80,67.20 452.11,67.65 452.43,68.23 452.75,68.92 453.06,69.67 453.38,70.47 453.70,71.28 454.01,72.08 454.33,72.82 454.64,73.48 454.96,74.04 455.28,74.47 455.59,74.76 455.91,74.89 456.23,74.86 456.54,74.67 456.86,74.33 457.18,73.85 457.49,73.25 457.81,72.56 458.12,71.79 458.44,70.99 458.76,70.17 459.07,69.39 459.39,68.66 459.71,68.01 460.02,67.47 460.34,67.06 460.66,66.80 460.97,66.70 461.29,66.76 461.61,66.98 461.92,67.34 462.24,67.85 462.55,68.47 462.87,69.18 463.19,69.95 463.50,70.76 463.82,71.57 464.14,72.35 464.45,73.07 464.77,73.70 465.09,74.21 465.40,74.59 465.72,74.83 466.03,74.90 466.35,74.81 466.67,74.57 466.98,74.18 467.30,73.65 467.62,73.01 467.93,72.29 468.25,71.51 468.57,70.70 468.88,69.89 469.20,69.12 469.52,68.42 469.83,67.80 470.15,67.31 470.46,66.95 470.78,66.75 471.10,66.70 471.41,66.82 471.73,67.09 472.05,67.51 472.36,68.05 472.68,68.71 473.00,69.45 473.31,70.24 473.63,71.05 473.94,71.85 474.26,72.61 474.58,73.30 474.89,73.89 475.21,74.36 475.53,74.69 475.84,74.87 476.16,74.89 476.48,74.74 476.79,74.45 477.11,74.00 477.43,73.44 477.74,72.77 478.06,72.02 478.37,71.22 478.69,70.41 479.01,69.61 479.32,68.86 479.64,68.19 479.96,67.61 480.27,67.17 480.59,66.86 480.91,66.71 481.22,66.73 481.54,66.90 481.85,67.22 482.17,67.69 482.49,68.27 482.80,68.96 483.12,69.72 483.44,70.52 483.75,71.33 484.07,72.13 484.39,72.86 484.70,73.52 485.02,74.07 485.34,74.50 485.65,74.77 485.97,74.89 486.28,74.86 486.60,74.66 486.92,74.31 487.23,73.82 487.55,73.21 487.87,72.51 488.18,71.74 488.50,70.93 488.82,70.12 489.13,69.34 489.45,68.61 489.76,67.97 490.08,67.44 490.40,67.04 490.71,66.79 491.03,66.70 491.35,66.77 491.66,67.00 491.98,67.37 492.30,67.88 492.61,68.51 492.93,69.22 493.25,70.00 493.56,70.81 493.88,71.62 494.19,72.40 494.51,73.11 494.83,73.73 495.14,74.24 495.46,74.61 495.78,74.83 496.09,74.90 496.41,74.80 496.73,74.55 497.04,74.15 497.36,73.61 497.67,72.97 497.99,72.24 498.31,71.46 498.62,70.65 498.94,69.84 499.26,69.07 499.57,68.37 499.89,67.77 500.21,67.28 500.52,66.94 500.84,66.74 501.16,66.71 501.47,66.83 501.79,67.11 502.10,67.54 502.42,68.09 502.74,68.75 503.05,69.49 503.37,70.29 503.69,71.10 504.00,71.90 504.32,72.66 504.64,73.34 504.95,73.93 505.27,74.39 505.58,74.71 505.90,74.88 506.22,74.88 506.53,74.73 506.85,74.42 507.17,73.97 507.48,73.40 507.80,72.72 508.12,71.97 508.43,71.17 508.75,70.36 509.07,69.56 509.38,68.82 509.70,68.15 510.01,67.58 510.33,67.14 510.65,66.85 510.96,66.71 511.28,66.73 511.60,66.91 511.91,67.25 512.23,67.72 512.55,68.32 512.86,69.01 513.18,69.77 513.49,70.57 513.81,71.39 514.13,72.17 514.44,72.91 514.76,73.56 515.08,74.10 515.39,74.52 515.71,74.79 516.03,74.90 516.34,74.85 516.66,74.64 516.98,74.28 517.29,73.78 517.61,73.17 517.92,72.46 518.24,71.69 518.56,70.88 518.87,70.07 519.19,69.29 519.51,68.57 519.82,67.93 520.14,67.41 520.46,67.02 520.77,66.78 521.09,66.70 521.40,66.78 521.72,67.02 522.04,67.40 522.35,67.92 522.67,68.55 522.99,69.27 523.30,70.05 523.62,70.86 523.94,71.67 524.25,72.44 524.57,73.15 524.89,73.77 525.20,74.27 525.52,74.63 525.83,74.84 526.15,74.90 526.47,74.79 526.78,74.53 527.10,74.12 527.42,73.58 527.73,72.93 528.05,72.19 528.37,71.41 528.68,70.59 529.00,69.79 529.31,69.03 529.63,68.33 529.95,67.73 530.26,67.26 530.58,66.92 530.90,66.73 531.21,66.71 531.53,66.84 531.85,67.14 532.16,67.57 532.48,68.13 532.80,68.80 533.11,69.54 533.43,70.34 533.74,71.15 534.06,71.95 534.38,72.70 534.69,73.38 535.01,73.96 535.33,74.41 535.64,74.72 535.96,74.88 536.28,74.88 536.59,74.71 536.91,74.40 537.22,73.94 537.54,73.36 537.86,72.68 538.17,71.92 538.49,71.12 538.81,70.31 539.12,69.51 539.44,68.77 539.76,68.11 540.07,67.55 540.39,67.12 540.71,66.84 541.02,66.71 541.34,66.74 541.65,66.93 541.97,67.27 542.29,67.76 542.60,68.36 542.92,69.05 543.24,69.82 543.55,70.62 543.87,71.44 544.19,72.22 544.50,72.95 544.82,73.60 545.13,74.14 545.45,74.54 545.77,74.80 546.08,74.90 546.40,74.84 546.72,74.62 547.03,74.25 547.35,73.75 547.67,73.13 547.98,72.41 548.30,71.64 548.62,70.83 548.93,70.02 549.25,69.24 549.56,68.53 549.88,67.90 550.20,67.38 550.51,67.00 550.83,66.77 551.15,66.70 551.46,66.79 551.78,67.04 552.10,67.43 552.41,67.96 552.73,68.59 553.04,69.32 553.36,70.10 553.68,70.91 553.99,71.72 554.31,72.49 554.63,73.19 554.94,73.80 555.26,74.29 555.58,74.65 555.89,74.85 556.21,74.90 556.53,74.78 556.84,74.51 557.16,74.09 557.47,73.54 557.79,72.88 558.11,72.15 558.42,71.35 558.74,70.54 559.06,69.74 559.37,68.98 559.69,68.29 560.01,67.70 560.32,67.23 560.64,66.90 560.95,66.73 561.27,66.71 561.59,66.86 561.90,67.16 562.22,67.60 562.54,68.17 562.85,68.84 563.17,69.59 563.49,70.39 563.80,71.20 564.12,72.00 564.44,72.75 564.75,73.42 565.07,73.99 565.38,74.44 565.70,74.74 566.02,74.89 566.33,74.87 566.65,74.70"/>
</g>
<text x="406.45" y="16.95" font-size="7.0" text-anchor="end" fill="#3a3a3a">1</text>
<line x1="408.15" y1="13.95" x2="410.25" y2="13.95" stroke="#555" stroke-width="0.8"/>
<text x="406.45" y="31.30" font-size="7.0" text-anchor="end" fill="#3a3a3a">2</text>
<line x1="408.15" y1="28.30" x2="410.25" y2="28.30" stroke="#555" stroke-width="0.8"/>
<text x="406.45" y="45.35" font-size="7.0" text-anchor="end" fill="#3a3a3a">3</text>
<line x1="408.15" y1="42.35" x2="410.25" y2="42.35" stroke="#555" stroke-width="0.8"/>
<text x="406.45" y="73.80" font-size="7.0" text-anchor="end" fill="#3a3a3a">40</text>
<line x1="408.15" y1="70.80" x2="410.25" y2="70.80" stroke="#555" stroke-width="0.8"/>
<circle cx="487.55" cy="52.90" r="0.75" fill="#222"/>
<circle cx="487.55" cy="56.70" r="0.75" fill="#222"/>
<circle cx="487.55" cy="60.50" r="0.75" fill="#222"/>
<line x1="408.45" y1="78.15" x2="566.65" y2="78.15" stroke="#808080" stroke-width="1.05"/>
<line x1="408.45" y1="76.25" x2="408.45" y2="78.15" stroke="#404040" stroke-width="0.7"/>
<text x="408.45" y="87.0" font-size="7.0" text-anchor="middle" fill="#3a3a3a">0</text>
<line x1="448.00" y1="76.25" x2="448.00" y2="78.15" stroke="#404040" stroke-width="0.7"/>
<text x="448.00" y="87.0" font-size="7.0" text-anchor="middle" fill="#3a3a3a">0.25</text>
<line x1="487.55" y1="76.25" x2="487.55" y2="78.15" stroke="#404040" stroke-width="0.7"/>
<text x="487.55" y="87.0" font-size="7.0" text-anchor="middle" fill="#3a3a3a">0.5</text>
<line x1="527.10" y1="76.25" x2="527.10" y2="78.15" stroke="#404040" stroke-width="0.7"/>
<text x="527.10" y="87.0" font-size="7.0" text-anchor="middle" fill="#3a3a3a">0.75</text>
<line x1="566.65" y1="76.25" x2="566.65" y2="78.15" stroke="#404040" stroke-width="0.7"/>
<text x="566.65" y="87.0" font-size="7.0" text-anchor="middle" fill="#3a3a3a">1</text>
<text x="487.55" y="96.2" font-size="7.6" text-anchor="middle" fill="#3a3a3a">Time (s)</text>
<text transform="translate(396.35,42.6) rotate(-90)" x="0" y="0" font-size="7.55" text-anchor="middle" fill="#3a3a3a">Sequence No.</text>
<text x="479.2" y="112.5" font-family="Liberation Serif" font-size="15" text-anchor="middle" fill="#000" stroke="#000" stroke-width="0.45">(c)</text>
<g transform="translate(23.60,130.80) scale(3.4800,2.7575)">
<rect width="40" height="40" fill="#02bac3"/>
<path fill="#2797eb" d="M1 0h1v1h-1zM6 0h1v1h-1zM16 0h1v1h-1zM0 1h1v1h-1zM16 1h1v1h-1zM38 1h1v1h-1zM33 3h1v1h-1zM38 4h1v1h-1zM33 5h1v1h-1zM0 6h1v1h-1zM14 6h1v1h-1zM8 7h1v1h-1zM14 7h1v1h-1zM32 7h1v1h-1zM33 7h1v1h-1zM7 8h1v1h-1zM39 9h1v1h-1zM35 10h1v1h-1zM29 11h1v1h-1zM26 12h1v1h-1zM6 14h1v1h-1zM7 14h1v1h-1zM28 15h1v1h-1zM0 16h1v1h-1zM1 16h1v1h-1zM19 16h1v1h-1zM20 16h1v1h-1zM28 16h1v1h-1zM31 16h1v1h-1zM16 19h1v1h-1zM30 19h1v1h-1zM16 20h1v1h-1zM28 21h1v1h-1zM34 21h1v1h-1zM35 21h1v1h-1zM32 24h1v1h-1zM35 25h1v1h-1zM12 26h1v1h-1zM29 26h1v1h-1zM32 26h1v1h-1zM35 26h1v1h-1zM15 28h1v1h-1zM16 28h1v1h-1zM21 28h1v1h-1zM11 29h1v1h-1zM26 29h1v1h-1zM39 29h1v1h-1zM19 30h1v1h-1zM31 30h1v1h-1zM37 30h1v1h-1zM16 31h1v1h-1zM30 31h1v1h-1zM7 32h1v1h-1zM24 32h1v1h-1zM26 32h1v1h-1zM3 33h1v1h-1zM5 33h1v1h-1zM7 33h1v1h-1zM21 34h1v1h-1zM10 35h1v1h-1zM21 35h1v1h-1zM25 35h1v1h-1zM26 35h1v1h-1zM36 35h1v1h-1zM35 36h1v1h-1zM30 37h1v1h-1zM1 38h1v1h-1zM4 38h1v1h-1zM9 39h1v1h-1zM29 39h1v1h-1z"/>
<path fill="#259be8" d="M25 0h1v1h-1zM28 0h1v1h-1zM2 1h1v1h-1zM4 1h1v1h-1zM15 1h1v1h-1zM37 1h1v1h-1zM1 2h1v1h-1zM25 2h1v1h-1zM27 2h1v1h-1zM37 3h1v1h-1zM1 4h1v1h-1zM11 4h1v1h-1zM18 4h1v1h-1zM20 4h1v1h-1zM29 5h1v1h-1zM9 7h1v1h-1zM13 7h1v1h-1zM21 7h1v1h-1zM22 7h1v1h-1zM28 7h1v1h-1zM16 8h1v1h-1zM30 8h1v1h-1zM7 9h1v1h-1zM11 10h1v1h-1zM4 11h1v1h-1zM10 11h1v1h-1zM17 11h1v1h-1zM15 12h1v1h-1zM18 12h1v1h-1zM27 12h1v1h-1zM7 13h1v1h-1zM32 13h1v1h-1zM36 14h1v1h-1zM1 15h1v1h-1zM12 15h1v1h-1zM24 15h1v1h-1zM8 16h1v1h-1zM33 16h1v1h-1zM35 16h1v1h-1zM36 16h1v1h-1zM11 17h1v1h-1zM33 17h1v1h-1zM4 18h1v1h-1zM12 18h1v1h-1zM27 18h1v1h-1zM30 18h1v1h-1zM34 18h1v1h-1zM38 19h1v1h-1zM4 20h1v1h-1zM35 20h1v1h-1zM7 21h1v1h-1zM7 22h1v1h-1zM15 24h1v1h-1zM0 25h1v1h-1zM2 25h1v1h-1zM2 27h1v1h-1zM12 27h1v1h-1zM18 27h1v1h-1zM28 27h1v1h-1zM38 27h1v1h-1zM39 27h1v1h-1zM0 28h1v1h-1zM7 28h1v1h-1zM27 28h1v1h-1zM5 29h1v1h-1zM8 30h1v1h-1zM18 30h1v1h-1zM13 32h1v1h-1zM16 33h1v1h-1zM17 33h1v1h-1zM37 33h1v1h-1zM18 34h1v1h-1zM16 35h1v1h-1zM20 35h1v1h-1zM14 36h1v1h-1zM16 36h1v1h-1zM1 37h1v1h-1zM3 37h1v1h-1zM33 37h1v1h-1zM39 37h1v1h-1zM19 38h1v1h-1zM27 38h1v1h-1zM27 39h1v1h-1zM37 39h1v1h-1z"/>
<path fill="#23a0e5" d="M11 0h1v1h-1zM17 0h1v1h-1zM24 0h1v1h-1zM11 3h1v1h-1zM27 3h1v1h-1zM28 3h1v1h-1zM10 5h1v1h-1zM17 5h1v1h-1zM25 6h1v1h-1zM29 6h1v1h-1zM12 7h1v1h-1zM19 7h1v1h-1zM34 8h1v1h-1zM36 8h1v1h-1zM12 9h1v1h-1zM19 9h1v1h-1zM26 9h1v1h-1zM29 9h1v1h-1zM5 10h1v1h-1zM25 10h1v1h-1zM0 11h1v1h-1zM3 11h1v1h-1zM38 11h1v1h-1zM7 12h1v1h-1zM9 12h1v1h-1zM20 12h1v1h-1zM22 12h1v1h-1zM23 12h1v1h-1zM34 13h1v1h-1zM32 14h1v1h-1zM17 16h1v1h-1zM0 17h1v1h-1zM5 17h1v1h-1zM16 17h1v1h-1zM7 19h1v1h-1zM9 19h1v1h-1zM12 20h1v1h-1zM31 20h1v1h-1zM37 20h1v1h-1zM12 22h1v1h-1zM30 22h1v1h-1zM12 23h1v1h-1zM30 23h1v1h-1zM32 23h1v1h-1zM0 24h1v1h-1zM27 24h1v1h-1zM36 24h1v1h-1zM6 25h1v1h-1zM10 25h1v1h-1zM34 25h1v1h-1zM37 25h1v1h-1zM9 26h1v1h-1zM30 26h1v1h-1zM3 27h1v1h-1zM24 27h1v1h-1zM3 28h1v1h-1zM32 28h1v1h-1zM6 29h1v1h-1zM9 29h1v1h-1zM37 29h1v1h-1zM22 30h1v1h-1zM23 30h1v1h-1zM26 30h1v1h-1zM20 31h1v1h-1zM14 32h1v1h-1zM23 32h1v1h-1zM28 32h1v1h-1zM35 32h1v1h-1zM8 34h1v1h-1zM13 34h1v1h-1zM25 34h1v1h-1zM32 35h1v1h-1zM8 36h1v1h-1zM24 36h1v1h-1zM20 37h1v1h-1zM25 37h1v1h-1zM29 37h1v1h-1zM11 38h1v1h-1z"/>
<path fill="#20a5e3" d="M14 0h1v1h-1zM19 0h1v1h-1zM12 1h1v1h-1zM5 2h1v1h-1zM12 2h1v1h-1zM25 4h1v1h-1zM26 4h1v1h-1zM30 4h1v1h-1zM2 5h1v1h-1zM25 5h1v1h-1zM21 6h1v1h-1zM37 6h1v1h-1zM13 8h1v1h-1zM24 9h1v1h-1zM16 10h1v1h-1zM26 10h1v1h-1zM33 10h1v1h-1zM35 11h1v1h-1zM1 12h1v1h-1zM2 12h1v1h-1zM14 12h1v1h-1zM28 12h1v1h-1zM8 13h1v1h-1zM23 13h1v1h-1zM27 13h1v1h-1zM31 13h1v1h-1zM0 14h1v1h-1zM12 14h1v1h-1zM28 14h1v1h-1zM35 14h1v1h-1zM38 15h1v1h-1zM10 16h1v1h-1zM22 17h1v1h-1zM25 17h1v1h-1zM37 17h1v1h-1zM35 18h1v1h-1zM0 19h1v1h-1zM31 19h1v1h-1zM30 20h1v1h-1zM6 21h1v1h-1zM17 22h1v1h-1zM23 22h1v1h-1zM13 23h1v1h-1zM22 23h1v1h-1zM9 24h1v1h-1zM31 24h1v1h-1zM4 25h1v1h-1zM5 25h1v1h-1zM17 25h1v1h-1zM4 26h1v1h-1zM10 26h1v1h-1zM13 27h1v1h-1zM12 28h1v1h-1zM14 28h1v1h-1zM31 28h1v1h-1zM4 30h1v1h-1zM20 30h1v1h-1zM13 31h1v1h-1zM19 31h1v1h-1zM24 31h1v1h-1zM28 31h1v1h-1zM10 33h1v1h-1zM11 35h1v1h-1zM14 35h1v1h-1zM18 35h1v1h-1zM6 37h1v1h-1zM17 37h1v1h-1zM15 38h1v1h-1z"/>
<path fill="#1ca9df" d="M38 0h1v1h-1zM21 2h1v1h-1zM17 3h1v1h-1zM23 3h1v1h-1zM38 3h1v1h-1zM17 4h1v1h-1zM33 4h1v1h-1zM11 5h1v1h-1zM13 5h1v1h-1zM21 5h1v1h-1zM22 5h1v1h-1zM38 6h1v1h-1zM17 7h1v1h-1zM29 8h1v1h-1zM13 9h1v1h-1zM16 9h1v1h-1zM19 10h1v1h-1zM21 10h1v1h-1zM39 10h1v1h-1zM5 11h1v1h-1zM32 11h1v1h-1zM30 12h1v1h-1zM5 13h1v1h-1zM9 13h1v1h-1zM22 13h1v1h-1zM24 13h1v1h-1zM25 14h1v1h-1zM22 15h1v1h-1zM9 16h1v1h-1zM18 16h1v1h-1zM26 16h1v1h-1zM32 16h1v1h-1zM38 16h1v1h-1zM3 17h1v1h-1zM4 17h1v1h-1zM7 17h1v1h-1zM16 18h1v1h-1zM10 19h1v1h-1zM21 19h1v1h-1zM25 19h1v1h-1zM33 20h1v1h-1zM2 21h1v1h-1zM5 21h1v1h-1zM10 21h1v1h-1zM19 21h1v1h-1zM5 22h1v1h-1zM13 22h1v1h-1zM15 22h1v1h-1zM25 22h1v1h-1zM3 23h1v1h-1zM13 24h1v1h-1zM37 24h1v1h-1zM38 24h1v1h-1zM14 25h1v1h-1zM19 25h1v1h-1zM22 25h1v1h-1zM26 25h1v1h-1zM16 26h1v1h-1zM25 26h1v1h-1zM8 29h1v1h-1zM12 30h1v1h-1zM39 31h1v1h-1zM11 32h1v1h-1zM16 32h1v1h-1zM4 33h1v1h-1zM20 33h1v1h-1zM38 33h1v1h-1zM37 35h1v1h-1zM24 37h1v1h-1zM35 37h1v1h-1zM0 38h1v1h-1zM3 38h1v1h-1zM6 38h1v1h-1zM16 38h1v1h-1zM24 38h1v1h-1zM33 38h1v1h-1zM10 39h1v1h-1zM31 39h1v1h-1z"/>
<path fill="#18addb" d="M18 0h1v1h-1zM5 1h1v1h-1zM18 1h1v1h-1zM23 2h1v1h-1zM26 2h1v1h-1zM32 2h1v1h-1zM39 2h1v1h-1zM15 3h1v1h-1zM13 4h1v1h-1zM28 4h1v1h-1zM31 4h1v1h-1zM37 4h1v1h-1zM1 5h1v1h-1zM34 5h1v1h-1zM8 6h1v1h-1zM19 6h1v1h-1zM22 6h1v1h-1zM34 6h1v1h-1zM16 7h1v1h-1zM29 7h1v1h-1zM6 8h1v1h-1zM14 8h1v1h-1zM39 8h1v1h-1zM14 9h1v1h-1zM17 9h1v1h-1zM34 10h1v1h-1zM28 11h1v1h-1zM30 11h1v1h-1zM31 12h1v1h-1zM34 12h1v1h-1zM4 13h1v1h-1zM16 13h1v1h-1zM17 13h1v1h-1zM8 14h1v1h-1zM9 14h1v1h-1zM19 14h1v1h-1zM23 14h1v1h-1zM38 14h1v1h-1zM3 15h1v1h-1zM25 15h1v1h-1zM30 15h1v1h-1zM7 16h1v1h-1zM13 16h1v1h-1zM25 16h1v1h-1zM9 17h1v1h-1zM13 17h1v1h-1zM0 18h1v1h-1zM1 18h1v1h-1zM6 19h1v1h-1zM14 19h1v1h-1zM28 20h1v1h-1zM31 21h1v1h-1zM6 22h1v1h-1zM33 22h1v1h-1zM35 22h1v1h-1zM2 23h1v1h-1zM14 23h1v1h-1zM15 25h1v1h-1zM16 25h1v1h-1zM2 26h1v1h-1zM37 26h1v1h-1zM38 26h1v1h-1zM31 27h1v1h-1zM4 28h1v1h-1zM11 28h1v1h-1zM20 28h1v1h-1zM30 28h1v1h-1zM7 29h1v1h-1zM11 30h1v1h-1zM15 30h1v1h-1zM28 30h1v1h-1zM35 30h1v1h-1zM4 31h1v1h-1zM12 31h1v1h-1zM21 31h1v1h-1zM27 31h1v1h-1zM2 32h1v1h-1zM34 32h1v1h-1zM22 33h1v1h-1zM5 34h1v1h-1zM6 34h1v1h-1zM10 34h1v1h-1zM12 34h1v1h-1zM32 34h1v1h-1zM22 35h1v1h-1zM30 35h1v1h-1zM4 37h1v1h-1zM26 37h1v1h-1zM14 38h1v1h-1zM26 38h1v1h-1zM39 38h1v1h-1zM2 39h1v1h-1zM8 39h1v1h-1zM38 39h1v1h-1z"/>
<path fill="#12b1d6" d="M22 0h1v1h-1zM23 0h1v1h-1zM37 0h1v1h-1zM3 1h1v1h-1zM11 1h1v1h-1zM23 1h1v1h-1zM30 1h1v1h-1zM33 1h1v1h-1zM35 1h1v1h-1zM4 2h1v1h-1zM14 2h1v1h-1zM16 2h1v1h-1zM20 2h1v1h-1zM28 2h1v1h-1zM1 3h1v1h-1zM13 3h1v1h-1zM32 3h1v1h-1zM2 4h1v1h-1zM10 4h1v1h-1zM16 4h1v1h-1zM36 4h1v1h-1zM9 5h1v1h-1zM9 6h1v1h-1zM10 6h1v1h-1zM11 6h1v1h-1zM26 6h1v1h-1zM12 8h1v1h-1zM19 8h1v1h-1zM38 8h1v1h-1zM5 9h1v1h-1zM6 9h1v1h-1zM33 9h1v1h-1zM4 10h1v1h-1zM6 10h1v1h-1zM32 10h1v1h-1zM36 10h1v1h-1zM1 11h1v1h-1zM6 11h1v1h-1zM12 11h1v1h-1zM31 11h1v1h-1zM39 11h1v1h-1zM8 12h1v1h-1zM11 12h1v1h-1zM3 13h1v1h-1zM15 13h1v1h-1zM18 13h1v1h-1zM2 14h1v1h-1zM18 14h1v1h-1zM13 15h1v1h-1zM29 15h1v1h-1zM37 15h1v1h-1zM2 16h1v1h-1zM4 16h1v1h-1zM30 16h1v1h-1zM39 16h1v1h-1zM18 17h1v1h-1zM28 17h1v1h-1zM13 18h1v1h-1zM14 18h1v1h-1zM17 18h1v1h-1zM31 18h1v1h-1zM8 19h1v1h-1zM2 20h1v1h-1zM23 20h1v1h-1zM38 20h1v1h-1zM39 20h1v1h-1zM29 21h1v1h-1zM39 21h1v1h-1zM0 22h1v1h-1zM26 22h1v1h-1zM36 22h1v1h-1zM37 22h1v1h-1zM0 23h1v1h-1zM1 23h1v1h-1zM20 23h1v1h-1zM25 24h1v1h-1zM34 24h1v1h-1zM24 25h1v1h-1zM27 25h1v1h-1zM6 26h1v1h-1zM22 26h1v1h-1zM25 27h1v1h-1zM2 28h1v1h-1zM17 28h1v1h-1zM15 29h1v1h-1zM21 29h1v1h-1zM1 30h1v1h-1zM16 30h1v1h-1zM11 31h1v1h-1zM18 31h1v1h-1zM3 32h1v1h-1zM10 32h1v1h-1zM1 33h1v1h-1zM9 33h1v1h-1zM39 33h1v1h-1zM24 34h1v1h-1zM38 34h1v1h-1zM1 35h1v1h-1zM4 36h1v1h-1zM10 36h1v1h-1zM22 36h1v1h-1zM0 37h1v1h-1zM15 37h1v1h-1zM22 37h1v1h-1zM8 38h1v1h-1zM20 38h1v1h-1zM34 38h1v1h-1zM11 39h1v1h-1zM16 39h1v1h-1zM20 39h1v1h-1zM21 39h1v1h-1zM33 39h1v1h-1z"/>
<path fill="#08b5d0" d="M4 0h1v1h-1zM30 0h1v1h-1zM22 1h1v1h-1zM3 2h1v1h-1zM38 2h1v1h-1zM2 3h1v1h-1zM18 3h1v1h-1zM0 4h1v1h-1zM39 4h1v1h-1zM19 5h1v1h-1zM26 5h1v1h-1zM30 5h1v1h-1zM31 5h1v1h-1zM33 6h1v1h-1zM26 7h1v1h-1zM9 8h1v1h-1zM21 8h1v1h-1zM8 9h1v1h-1zM22 9h1v1h-1zM22 10h1v1h-1zM15 11h1v1h-1zM20 11h1v1h-1zM36 11h1v1h-1zM28 13h1v1h-1zM35 13h1v1h-1zM38 13h1v1h-1zM31 14h1v1h-1zM11 15h1v1h-1zM26 15h1v1h-1zM35 15h1v1h-1zM22 16h1v1h-1zM27 17h1v1h-1zM3 18h1v1h-1zM28 18h1v1h-1zM5 19h1v1h-1zM32 19h1v1h-1zM11 20h1v1h-1zM26 20h1v1h-1zM27 20h1v1h-1zM8 21h1v1h-1zM24 21h1v1h-1zM33 21h1v1h-1zM37 21h1v1h-1zM1 22h1v1h-1zM9 22h1v1h-1zM10 22h1v1h-1zM16 22h1v1h-1zM31 22h1v1h-1zM34 22h1v1h-1zM24 23h1v1h-1zM29 23h1v1h-1zM38 23h1v1h-1zM21 24h1v1h-1zM23 24h1v1h-1zM35 24h1v1h-1zM36 25h1v1h-1zM5 26h1v1h-1zM7 26h1v1h-1zM15 26h1v1h-1zM20 26h1v1h-1zM28 26h1v1h-1zM17 27h1v1h-1zM20 27h1v1h-1zM30 27h1v1h-1zM34 27h1v1h-1zM37 27h1v1h-1zM13 28h1v1h-1zM18 28h1v1h-1zM26 28h1v1h-1zM36 28h1v1h-1zM37 28h1v1h-1zM23 29h1v1h-1zM30 29h1v1h-1zM0 30h1v1h-1zM5 30h1v1h-1zM27 30h1v1h-1zM29 30h1v1h-1zM5 31h1v1h-1zM14 31h1v1h-1zM22 31h1v1h-1zM19 32h1v1h-1zM36 32h1v1h-1zM6 33h1v1h-1zM21 33h1v1h-1zM36 33h1v1h-1zM22 34h1v1h-1zM27 34h1v1h-1zM13 35h1v1h-1zM15 35h1v1h-1zM24 35h1v1h-1zM11 36h1v1h-1zM25 36h1v1h-1zM28 36h1v1h-1zM32 36h1v1h-1zM33 36h1v1h-1zM21 37h1v1h-1zM27 37h1v1h-1zM28 37h1v1h-1zM2 38h1v1h-1zM13 38h1v1h-1zM23 38h1v1h-1zM4 39h1v1h-1z"/>
<path fill="#01b8ca" d="M2 0h1v1h-1zM13 1h1v1h-1zM36 1h1v1h-1zM0 2h1v1h-1zM15 2h1v1h-1zM24 2h1v1h-1zM6 3h1v1h-1zM7 4h1v1h-1zM8 4h1v1h-1zM28 5h1v1h-1zM32 5h1v1h-1zM39 5h1v1h-1zM3 6h1v1h-1zM4 7h1v1h-1zM25 7h1v1h-1zM35 7h1v1h-1zM38 7h1v1h-1zM4 8h1v1h-1zM15 8h1v1h-1zM27 8h1v1h-1zM33 8h1v1h-1zM15 9h1v1h-1zM21 9h1v1h-1zM13 10h1v1h-1zM15 10h1v1h-1zM27 10h1v1h-1zM33 11h1v1h-1zM32 12h1v1h-1zM35 12h1v1h-1zM36 12h1v1h-1zM38 12h1v1h-1zM1 13h1v1h-1zM10 13h1v1h-1zM14 13h1v1h-1zM20 13h1v1h-1zM21 13h1v1h-1zM13 14h1v1h-1zM15 14h1v1h-1zM21 14h1v1h-1zM29 14h1v1h-1zM2 15h1v1h-1zM8 15h1v1h-1zM9 15h1v1h-1zM10 15h1v1h-1zM14 15h1v1h-1zM21 15h1v1h-1zM20 17h1v1h-1zM38 17h1v1h-1zM33 18h1v1h-1zM20 19h1v1h-1zM28 19h1v1h-1zM13 20h1v1h-1zM17 20h1v1h-1zM19 20h1v1h-1zM21 20h1v1h-1zM9 21h1v1h-1zM13 21h1v1h-1zM14 21h1v1h-1zM15 21h1v1h-1zM20 21h1v1h-1zM29 22h1v1h-1zM38 22h1v1h-1zM2 24h1v1h-1zM7 25h1v1h-1zM29 25h1v1h-1zM30 25h1v1h-1zM8 27h1v1h-1zM10 27h1v1h-1zM5 28h1v1h-1zM19 28h1v1h-1zM14 29h1v1h-1zM22 29h1v1h-1zM25 29h1v1h-1zM25 30h1v1h-1zM33 30h1v1h-1zM38 30h1v1h-1zM35 31h1v1h-1zM36 31h1v1h-1zM5 32h1v1h-1zM12 32h1v1h-1zM8 33h1v1h-1zM11 33h1v1h-1zM18 33h1v1h-1zM30 33h1v1h-1zM7 35h1v1h-1zM12 35h1v1h-1zM31 35h1v1h-1zM1 36h1v1h-1zM12 36h1v1h-1zM31 36h1v1h-1zM39 36h1v1h-1zM7 38h1v1h-1zM12 38h1v1h-1zM17 38h1v1h-1zM22 38h1v1h-1zM30 38h1v1h-1zM5 39h1v1h-1zM36 39h1v1h-1z"/>
<path fill="#02bac3" d="M5 0h1v1h-1zM7 0h1v1h-1zM29 0h1v1h-1zM4 3h1v1h-1zM25 3h1v1h-1zM26 3h1v1h-1zM3 4h1v1h-1zM0 5h1v1h-1zM7 5h1v1h-1zM23 5h1v1h-1zM24 5h1v1h-1zM16 6h1v1h-1zM18 6h1v1h-1zM23 6h1v1h-1zM27 6h1v1h-1zM32 6h1v1h-1zM0 7h1v1h-1zM5 7h1v1h-1zM25 8h1v1h-1zM32 8h1v1h-1zM28 10h1v1h-1zM14 11h1v1h-1zM19 12h1v1h-1zM37 12h1v1h-1zM11 14h1v1h-1zM34 14h1v1h-1zM37 14h1v1h-1zM33 15h1v1h-1zM36 15h1v1h-1zM6 16h1v1h-1zM34 17h1v1h-1zM6 18h1v1h-1zM12 19h1v1h-1zM25 20h1v1h-1zM22 21h1v1h-1zM36 21h1v1h-1zM21 22h1v1h-1zM5 23h1v1h-1zM6 23h1v1h-1zM5 24h1v1h-1zM3 25h1v1h-1zM8 25h1v1h-1zM20 25h1v1h-1zM3 26h1v1h-1zM6 27h1v1h-1zM32 27h1v1h-1zM36 27h1v1h-1zM10 28h1v1h-1zM38 28h1v1h-1zM0 29h1v1h-1zM35 29h1v1h-1zM38 29h1v1h-1zM36 30h1v1h-1zM6 32h1v1h-1zM8 32h1v1h-1zM27 32h1v1h-1zM15 33h1v1h-1zM14 34h1v1h-1zM17 34h1v1h-1zM29 35h1v1h-1zM15 36h1v1h-1zM21 36h1v1h-1zM27 36h1v1h-1zM30 36h1v1h-1zM12 37h1v1h-1zM14 37h1v1h-1zM28 38h1v1h-1zM29 38h1v1h-1z"/>
<path fill="#0bbdbd" d="M34 0h1v1h-1zM9 1h1v1h-1zM17 2h1v1h-1zM19 2h1v1h-1zM36 2h1v1h-1zM7 3h1v1h-1zM12 3h1v1h-1zM22 3h1v1h-1zM34 3h1v1h-1zM16 5h1v1h-1zM13 6h1v1h-1zM31 6h1v1h-1zM3 7h1v1h-1zM20 7h1v1h-1zM22 8h1v1h-1zM1 9h1v1h-1zM18 9h1v1h-1zM23 9h1v1h-1zM27 9h1v1h-1zM30 10h1v1h-1zM3 12h1v1h-1zM24 12h1v1h-1zM6 13h1v1h-1zM29 13h1v1h-1zM30 13h1v1h-1zM5 16h1v1h-1zM23 16h1v1h-1zM2 17h1v1h-1zM32 17h1v1h-1zM9 18h1v1h-1zM25 18h1v1h-1zM37 18h1v1h-1zM2 19h1v1h-1zM7 20h1v1h-1zM32 21h1v1h-1zM3 22h1v1h-1zM8 22h1v1h-1zM9 23h1v1h-1zM16 23h1v1h-1zM12 24h1v1h-1zM29 24h1v1h-1zM18 25h1v1h-1zM33 25h1v1h-1zM9 27h1v1h-1zM34 28h1v1h-1zM13 29h1v1h-1zM24 29h1v1h-1zM31 29h1v1h-1zM10 30h1v1h-1zM13 30h1v1h-1zM6 31h1v1h-1zM29 31h1v1h-1zM32 31h1v1h-1zM34 31h1v1h-1zM17 32h1v1h-1zM21 32h1v1h-1zM31 32h1v1h-1zM25 33h1v1h-1zM0 34h1v1h-1zM3 34h1v1h-1zM28 34h1v1h-1zM31 34h1v1h-1zM37 34h1v1h-1zM2 36h1v1h-1zM18 37h1v1h-1zM34 37h1v1h-1z"/>
<path fill="#19bfb6" d="M15 0h1v1h-1zM27 0h1v1h-1zM33 0h1v1h-1zM10 1h1v1h-1zM34 1h1v1h-1zM31 2h1v1h-1zM34 2h1v1h-1zM20 3h1v1h-1zM12 4h1v1h-1zM18 5h1v1h-1zM10 8h1v1h-1zM17 8h1v1h-1zM31 8h1v1h-1zM34 9h1v1h-1zM36 9h1v1h-1zM1 10h1v1h-1zM8 10h1v1h-1zM20 10h1v1h-1zM23 10h1v1h-1zM24 10h1v1h-1zM37 10h1v1h-1zM4 12h1v1h-1zM21 12h1v1h-1zM20 14h1v1h-1zM0 15h1v1h-1zM18 15h1v1h-1zM37 16h1v1h-1zM8 17h1v1h-1zM35 17h1v1h-1zM5 18h1v1h-1zM15 18h1v1h-1zM32 18h1v1h-1zM38 18h1v1h-1zM3 20h1v1h-1zM10 20h1v1h-1zM14 20h1v1h-1zM36 20h1v1h-1zM12 21h1v1h-1zM10 23h1v1h-1zM28 23h1v1h-1zM10 24h1v1h-1zM28 24h1v1h-1zM28 25h1v1h-1zM31 26h1v1h-1zM0 27h1v1h-1zM29 27h1v1h-1zM23 28h1v1h-1zM24 28h1v1h-1zM25 28h1v1h-1zM39 28h1v1h-1zM27 29h1v1h-1zM32 30h1v1h-1zM39 30h1v1h-1zM2 31h1v1h-1zM8 31h1v1h-1zM26 31h1v1h-1zM33 31h1v1h-1zM18 32h1v1h-1zM30 32h1v1h-1zM39 32h1v1h-1zM0 33h1v1h-1zM31 33h1v1h-1zM35 33h1v1h-1zM1 34h1v1h-1zM2 34h1v1h-1zM9 34h1v1h-1zM17 35h1v1h-1zM33 35h1v1h-1zM9 36h1v1h-1zM20 36h1v1h-1zM10 37h1v1h-1zM16 37h1v1h-1zM18 38h1v1h-1zM28 39h1v1h-1zM30 39h1v1h-1zM32 39h1v1h-1z"/>
<path fill="#24c1ae" d="M26 1h1v1h-1zM28 1h1v1h-1zM10 2h1v1h-1zM18 2h1v1h-1zM33 2h1v1h-1zM5 3h1v1h-1zM36 3h1v1h-1zM14 4h1v1h-1zM32 4h1v1h-1zM3 5h1v1h-1zM27 5h1v1h-1zM7 6h1v1h-1zM28 6h1v1h-1zM39 6h1v1h-1zM6 7h1v1h-1zM10 7h1v1h-1zM11 7h1v1h-1zM15 7h1v1h-1zM18 7h1v1h-1zM23 7h1v1h-1zM37 7h1v1h-1zM11 9h1v1h-1zM2 10h1v1h-1zM7 10h1v1h-1zM18 10h1v1h-1zM7 11h1v1h-1zM9 11h1v1h-1zM13 11h1v1h-1zM19 11h1v1h-1zM21 11h1v1h-1zM23 11h1v1h-1zM24 11h1v1h-1zM16 12h1v1h-1zM11 13h1v1h-1zM37 13h1v1h-1zM4 14h1v1h-1zM7 15h1v1h-1zM23 15h1v1h-1zM31 15h1v1h-1zM12 16h1v1h-1zM21 16h1v1h-1zM21 17h1v1h-1zM23 17h1v1h-1zM29 17h1v1h-1zM39 17h1v1h-1zM2 18h1v1h-1zM7 18h1v1h-1zM10 18h1v1h-1zM20 18h1v1h-1zM36 18h1v1h-1zM11 19h1v1h-1zM35 19h1v1h-1zM18 20h1v1h-1zM29 20h1v1h-1zM11 21h1v1h-1zM16 21h1v1h-1zM17 21h1v1h-1zM26 21h1v1h-1zM27 22h1v1h-1zM7 23h1v1h-1zM11 23h1v1h-1zM15 23h1v1h-1zM17 23h1v1h-1zM37 23h1v1h-1zM11 24h1v1h-1zM39 24h1v1h-1zM32 25h1v1h-1zM38 25h1v1h-1zM1 26h1v1h-1zM21 26h1v1h-1zM36 26h1v1h-1zM5 27h1v1h-1zM22 27h1v1h-1zM1 28h1v1h-1zM6 28h1v1h-1zM17 29h1v1h-1zM20 29h1v1h-1zM36 29h1v1h-1zM15 31h1v1h-1zM37 31h1v1h-1zM4 32h1v1h-1zM25 32h1v1h-1zM2 33h1v1h-1zM19 35h1v1h-1zM3 36h1v1h-1zM18 36h1v1h-1zM26 36h1v1h-1zM29 36h1v1h-1zM7 37h1v1h-1zM13 37h1v1h-1zM23 37h1v1h-1zM31 37h1v1h-1zM25 38h1v1h-1zM6 39h1v1h-1zM17 39h1v1h-1zM24 39h1v1h-1z"/>
<path fill="#2cc4a7" d="M3 0h1v1h-1zM10 0h1v1h-1zM26 0h1v1h-1zM32 0h1v1h-1zM14 1h1v1h-1zM19 1h1v1h-1zM20 1h1v1h-1zM31 1h1v1h-1zM8 2h1v1h-1zM11 2h1v1h-1zM29 2h1v1h-1zM0 3h1v1h-1zM24 3h1v1h-1zM35 3h1v1h-1zM39 3h1v1h-1zM22 4h1v1h-1zM15 6h1v1h-1zM27 7h1v1h-1zM39 7h1v1h-1zM2 8h1v1h-1zM24 8h1v1h-1zM28 8h1v1h-1zM30 9h1v1h-1zM38 9h1v1h-1zM0 10h1v1h-1zM14 10h1v1h-1zM2 11h1v1h-1zM25 11h1v1h-1zM1 14h1v1h-1zM10 14h1v1h-1zM17 14h1v1h-1zM30 14h1v1h-1zM6 15h1v1h-1zM14 17h1v1h-1zM24 17h1v1h-1zM22 18h1v1h-1zM26 18h1v1h-1zM1 19h1v1h-1zM22 19h1v1h-1zM34 19h1v1h-1zM37 19h1v1h-1zM1 20h1v1h-1zM4 22h1v1h-1zM18 22h1v1h-1zM19 22h1v1h-1zM28 22h1v1h-1zM3 24h1v1h-1zM8 24h1v1h-1zM17 24h1v1h-1zM11 25h1v1h-1zM0 26h1v1h-1zM18 26h1v1h-1zM34 26h1v1h-1zM7 27h1v1h-1zM8 28h1v1h-1zM22 28h1v1h-1zM2 29h1v1h-1zM9 30h1v1h-1zM14 30h1v1h-1zM1 31h1v1h-1zM0 32h1v1h-1zM19 34h1v1h-1zM26 34h1v1h-1zM3 35h1v1h-1zM19 37h1v1h-1zM9 38h1v1h-1zM3 39h1v1h-1zM7 39h1v1h-1z"/>
<path fill="#31c69f" d="M20 0h1v1h-1zM39 0h1v1h-1zM6 1h1v1h-1zM8 1h1v1h-1zM17 1h1v1h-1zM25 1h1v1h-1zM39 1h1v1h-1zM6 2h1v1h-1zM13 2h1v1h-1zM6 4h1v1h-1zM29 4h1v1h-1zM34 4h1v1h-1zM12 5h1v1h-1zM14 5h1v1h-1zM38 5h1v1h-1zM1 6h1v1h-1zM2 6h1v1h-1zM4 6h1v1h-1zM17 6h1v1h-1zM30 6h1v1h-1zM24 7h1v1h-1zM34 7h1v1h-1zM36 7h1v1h-1zM1 8h1v1h-1zM26 8h1v1h-1zM10 9h1v1h-1zM20 9h1v1h-1zM9 10h1v1h-1zM16 11h1v1h-1zM5 12h1v1h-1zM17 12h1v1h-1zM2 13h1v1h-1zM33 13h1v1h-1zM36 13h1v1h-1zM39 13h1v1h-1zM5 14h1v1h-1zM26 14h1v1h-1zM33 14h1v1h-1zM11 16h1v1h-1zM1 17h1v1h-1zM6 17h1v1h-1zM12 17h1v1h-1zM24 18h1v1h-1zM24 19h1v1h-1zM26 19h1v1h-1zM27 19h1v1h-1zM29 19h1v1h-1zM0 20h1v1h-1zM9 20h1v1h-1zM22 20h1v1h-1zM20 22h1v1h-1zM36 23h1v1h-1zM7 24h1v1h-1zM18 24h1v1h-1zM19 24h1v1h-1zM1 25h1v1h-1zM31 25h1v1h-1zM8 26h1v1h-1zM14 26h1v1h-1zM19 26h1v1h-1zM33 26h1v1h-1zM19 27h1v1h-1zM4 29h1v1h-1zM19 29h1v1h-1zM32 29h1v1h-1zM33 29h1v1h-1zM34 29h1v1h-1zM6 30h1v1h-1zM25 31h1v1h-1zM29 32h1v1h-1zM13 33h1v1h-1zM14 33h1v1h-1zM26 33h1v1h-1zM29 33h1v1h-1zM4 34h1v1h-1zM7 34h1v1h-1zM29 34h1v1h-1zM36 34h1v1h-1zM39 34h1v1h-1zM7 36h1v1h-1zM13 36h1v1h-1zM23 36h1v1h-1zM34 36h1v1h-1zM38 37h1v1h-1zM5 38h1v1h-1zM37 38h1v1h-1zM0 39h1v1h-1zM1 39h1v1h-1zM13 39h1v1h-1zM34 39h1v1h-1z"/>
<path fill="#37c897" d="M9 0h1v1h-1zM21 0h1v1h-1zM31 0h1v1h-1zM24 1h1v1h-1zM27 1h1v1h-1zM7 2h1v1h-1zM22 2h1v1h-1zM35 2h1v1h-1zM10 3h1v1h-1zM19 4h1v1h-1zM24 4h1v1h-1zM12 6h1v1h-1zM20 6h1v1h-1zM2 7h1v1h-1zM11 8h1v1h-1zM0 9h1v1h-1zM3 10h1v1h-1zM12 10h1v1h-1zM31 10h1v1h-1zM38 10h1v1h-1zM8 11h1v1h-1zM37 11h1v1h-1zM6 12h1v1h-1zM10 12h1v1h-1zM13 12h1v1h-1zM29 12h1v1h-1zM39 12h1v1h-1zM12 13h1v1h-1zM39 14h1v1h-1zM19 15h1v1h-1zM27 15h1v1h-1zM34 15h1v1h-1zM27 16h1v1h-1zM34 16h1v1h-1zM31 17h1v1h-1zM36 17h1v1h-1zM19 18h1v1h-1zM23 18h1v1h-1zM29 18h1v1h-1zM4 19h1v1h-1zM15 19h1v1h-1zM18 19h1v1h-1zM36 19h1v1h-1zM6 20h1v1h-1zM34 20h1v1h-1zM0 21h1v1h-1zM2 22h1v1h-1zM32 22h1v1h-1zM39 22h1v1h-1zM18 23h1v1h-1zM26 23h1v1h-1zM39 23h1v1h-1zM1 24h1v1h-1zM4 24h1v1h-1zM23 26h1v1h-1zM1 27h1v1h-1zM15 27h1v1h-1zM16 27h1v1h-1zM33 28h1v1h-1zM12 29h1v1h-1zM18 29h1v1h-1zM0 31h1v1h-1zM10 31h1v1h-1zM17 31h1v1h-1zM22 32h1v1h-1zM28 33h1v1h-1zM15 34h1v1h-1zM16 34h1v1h-1zM20 34h1v1h-1zM35 34h1v1h-1zM2 35h1v1h-1zM34 35h1v1h-1zM17 36h1v1h-1zM19 36h1v1h-1zM38 36h1v1h-1zM11 37h1v1h-1zM10 38h1v1h-1zM36 38h1v1h-1zM12 39h1v1h-1zM14 39h1v1h-1zM22 39h1v1h-1zM23 39h1v1h-1z"/>
<path fill="#3fca8e" d="M12 0h1v1h-1zM13 0h1v1h-1zM7 1h1v1h-1zM9 2h1v1h-1zM35 4h1v1h-1zM6 5h1v1h-1zM8 5h1v1h-1zM15 5h1v1h-1zM20 5h1v1h-1zM36 5h1v1h-1zM5 6h1v1h-1zM24 6h1v1h-1zM35 6h1v1h-1zM1 7h1v1h-1zM30 7h1v1h-1zM5 8h1v1h-1zM18 8h1v1h-1zM2 9h1v1h-1zM25 9h1v1h-1zM37 9h1v1h-1zM29 10h1v1h-1zM18 11h1v1h-1zM27 11h1v1h-1zM0 12h1v1h-1zM33 12h1v1h-1zM0 13h1v1h-1zM25 13h1v1h-1zM26 13h1v1h-1zM16 14h1v1h-1zM27 14h1v1h-1zM5 15h1v1h-1zM16 15h1v1h-1zM32 15h1v1h-1zM39 15h1v1h-1zM14 16h1v1h-1zM15 16h1v1h-1zM24 16h1v1h-1zM8 18h1v1h-1zM11 18h1v1h-1zM39 18h1v1h-1zM23 19h1v1h-1zM39 19h1v1h-1zM5 20h1v1h-1zM23 21h1v1h-1zM30 21h1v1h-1zM38 21h1v1h-1zM19 23h1v1h-1zM21 23h1v1h-1zM27 23h1v1h-1zM31 23h1v1h-1zM6 24h1v1h-1zM16 24h1v1h-1zM33 24h1v1h-1zM9 25h1v1h-1zM13 25h1v1h-1zM39 25h1v1h-1zM13 26h1v1h-1zM39 26h1v1h-1zM11 27h1v1h-1zM14 27h1v1h-1zM23 27h1v1h-1zM35 28h1v1h-1zM10 29h1v1h-1zM7 30h1v1h-1zM21 30h1v1h-1zM23 31h1v1h-1zM15 32h1v1h-1zM33 32h1v1h-1zM37 32h1v1h-1zM38 32h1v1h-1zM12 33h1v1h-1zM24 33h1v1h-1zM32 33h1v1h-1zM34 33h1v1h-1zM33 34h1v1h-1zM4 35h1v1h-1zM6 35h1v1h-1zM28 35h1v1h-1zM38 35h1v1h-1zM39 35h1v1h-1zM5 36h1v1h-1zM37 36h1v1h-1zM9 37h1v1h-1zM32 37h1v1h-1zM36 37h1v1h-1zM21 38h1v1h-1zM32 38h1v1h-1zM35 38h1v1h-1zM15 39h1v1h-1zM18 39h1v1h-1zM19 39h1v1h-1zM25 39h1v1h-1zM26 39h1v1h-1zM35 39h1v1h-1z"/>
<path fill="#4acb84" d="M8 0h1v1h-1zM35 0h1v1h-1zM21 1h1v1h-1zM29 1h1v1h-1zM32 1h1v1h-1zM37 2h1v1h-1zM9 3h1v1h-1zM14 3h1v1h-1zM16 3h1v1h-1zM19 3h1v1h-1zM21 3h1v1h-1zM29 3h1v1h-1zM30 3h1v1h-1zM9 4h1v1h-1zM15 4h1v1h-1zM21 4h1v1h-1zM23 4h1v1h-1zM27 4h1v1h-1zM35 5h1v1h-1zM37 5h1v1h-1zM31 7h1v1h-1zM0 8h1v1h-1zM20 8h1v1h-1zM35 8h1v1h-1zM3 9h1v1h-1zM4 9h1v1h-1zM35 9h1v1h-1zM17 10h1v1h-1zM22 11h1v1h-1zM26 11h1v1h-1zM34 11h1v1h-1zM25 12h1v1h-1zM3 14h1v1h-1zM24 14h1v1h-1zM4 15h1v1h-1zM17 15h1v1h-1zM3 16h1v1h-1zM29 16h1v1h-1zM10 17h1v1h-1zM15 17h1v1h-1zM26 17h1v1h-1zM30 17h1v1h-1zM21 18h1v1h-1zM3 19h1v1h-1zM33 19h1v1h-1zM8 20h1v1h-1zM1 21h1v1h-1zM3 21h1v1h-1zM4 21h1v1h-1zM18 21h1v1h-1zM25 21h1v1h-1zM27 21h1v1h-1zM11 22h1v1h-1zM24 22h1v1h-1zM4 23h1v1h-1zM33 23h1v1h-1zM34 23h1v1h-1zM35 23h1v1h-1zM14 24h1v1h-1zM22 24h1v1h-1zM30 24h1v1h-1zM12 25h1v1h-1zM21 25h1v1h-1zM11 26h1v1h-1zM17 26h1v1h-1zM27 26h1v1h-1zM4 27h1v1h-1zM21 27h1v1h-1zM26 27h1v1h-1zM35 27h1v1h-1zM1 29h1v1h-1zM3 29h1v1h-1zM16 29h1v1h-1zM3 30h1v1h-1zM17 30h1v1h-1zM24 30h1v1h-1zM34 30h1v1h-1zM7 31h1v1h-1zM1 32h1v1h-1zM19 33h1v1h-1zM23 33h1v1h-1zM11 34h1v1h-1zM23 34h1v1h-1zM30 34h1v1h-1zM0 35h1v1h-1zM5 35h1v1h-1zM8 35h1v1h-1zM9 35h1v1h-1zM23 35h1v1h-1zM27 35h1v1h-1zM2 37h1v1h-1zM5 37h1v1h-1z"/>
<path fill="#57cc7a" d="M36 0h1v1h-1zM30 2h1v1h-1zM8 3h1v1h-1zM31 3h1v1h-1zM5 4h1v1h-1zM4 5h1v1h-1zM36 6h1v1h-1zM3 8h1v1h-1zM23 8h1v1h-1zM37 8h1v1h-1zM28 9h1v1h-1zM31 9h1v1h-1zM32 9h1v1h-1zM19 13h1v1h-1zM22 14h1v1h-1zM20 15h1v1h-1zM19 17h1v1h-1zM13 19h1v1h-1zM17 19h1v1h-1zM15 20h1v1h-1zM24 20h1v1h-1zM32 20h1v1h-1zM14 22h1v1h-1zM8 23h1v1h-1zM25 23h1v1h-1zM20 24h1v1h-1zM26 24h1v1h-1zM23 25h1v1h-1zM24 26h1v1h-1zM33 27h1v1h-1zM9 28h1v1h-1zM29 28h1v1h-1zM28 29h1v1h-1zM2 30h1v1h-1zM3 31h1v1h-1zM9 31h1v1h-1zM38 31h1v1h-1zM9 32h1v1h-1zM20 32h1v1h-1zM27 33h1v1h-1zM0 36h1v1h-1zM6 36h1v1h-1zM8 37h1v1h-1zM31 38h1v1h-1z"/>
<path fill="#f9fb15" d="M0 0h1v1h-1zM1 1h1v1h-1zM2 2h1v1h-1zM3 3h1v1h-1zM4 4h1v1h-1zM5 5h1v1h-1zM6 6h1v1h-1zM7 7h1v1h-1zM8 8h1v1h-1zM9 9h1v1h-1zM10 10h1v1h-1zM11 11h1v1h-1zM12 12h1v1h-1zM13 13h1v1h-1zM14 14h1v1h-1zM15 15h1v1h-1zM16 16h1v1h-1zM17 17h1v1h-1zM18 18h1v1h-1zM19 19h1v1h-1zM20 20h1v1h-1zM21 21h1v1h-1zM22 22h1v1h-1zM23 23h1v1h-1zM24 24h1v1h-1zM25 25h1v1h-1zM26 26h1v1h-1zM27 27h1v1h-1zM28 28h1v1h-1zM29 29h1v1h-1zM30 30h1v1h-1zM31 31h1v1h-1zM32 32h1v1h-1zM33 33h1v1h-1zM34 34h1v1h-1zM35 35h1v1h-1zM36 36h1v1h-1zM37 37h1v1h-1zM38 38h1v1h-1zM39 39h1v1h-1z"/>
</g>
<rect x="23.60" y="130.8" width="139.2" height="110.3" fill="none" stroke="#262626" stroke-width="0.5" stroke-opacity="0.7"/>
<text x="25.34" y="249.8" font-size="6.5" text-anchor="middle" fill="#3a3a3a">1</text>
<text x="21.90" y="134.93" font-size="6.5" text-anchor="end" fill="#3a3a3a">1</text>
<line x1="25.34" y1="241.10" x2="25.34" y2="239.70" stroke="#262626" stroke-width="0.5"/>
<line x1="23.60" y1="132.18" x2="25.00" y2="132.18" stroke="#262626" stroke-width="0.5"/>
<line x1="25.34" y1="130.80" x2="25.34" y2="132.20" stroke="#262626" stroke-width="0.5"/>
<line x1="162.80" y1="132.18" x2="161.40" y2="132.18" stroke="#262626" stroke-width="0.5"/>
<text x="56.66" y="249.8" font-size="6.5" text-anchor="middle" fill="#3a3a3a">10</text>
<text x="21.90" y="159.75" font-size="6.5" text-anchor="end" fill="#3a3a3a">10</text>
<line x1="56.66" y1="241.10" x2="56.66" y2="239.70" stroke="#262626" stroke-width="0.5"/>
<line x1="23.60" y1="157.00" x2="25.00" y2="157.00" stroke="#262626" stroke-width="0.5"/>
<line x1="56.66" y1="130.80" x2="56.66" y2="132.20" stroke="#262626" stroke-width="0.5"/>
<line x1="162.80" y1="157.00" x2="161.40" y2="157.00" stroke="#262626" stroke-width="0.5"/>
<text x="91.46" y="249.8" font-size="6.5" text-anchor="middle" fill="#3a3a3a">20</text>
<text x="21.90" y="187.32" font-size="6.5" text-anchor="end" fill="#3a3a3a">20</text>
<line x1="91.46" y1="241.10" x2="91.46" y2="239.70" stroke="#262626" stroke-width="0.5"/>
<line x1="23.60" y1="184.57" x2="25.00" y2="184.57" stroke="#262626" stroke-width="0.5"/>
<line x1="91.46" y1="130.80" x2="91.46" y2="132.20" stroke="#262626" stroke-width="0.5"/>
<line x1="162.80" y1="184.57" x2="161.40" y2="184.57" stroke="#262626" stroke-width="0.5"/>
<text x="126.26" y="249.8" font-size="6.5" text-anchor="middle" fill="#3a3a3a">30</text>
<text x="21.90" y="214.90" font-size="6.5" text-anchor="end" fill="#3a3a3a">30</text>
<line x1="126.26" y1="241.10" x2="126.26" y2="239.70" stroke="#262626" stroke-width="0.5"/>
<line x1="23.60" y1="212.15" x2="25.00" y2="212.15" stroke="#262626" stroke-width="0.5"/>
<line x1="126.26" y1="130.80" x2="126.26" y2="132.20" stroke="#262626" stroke-width="0.5"/>
<line x1="162.80" y1="212.15" x2="161.40" y2="212.15" stroke="#262626" stroke-width="0.5"/>
<text x="161.06" y="249.8" font-size="6.5" text-anchor="middle" fill="#3a3a3a">40</text>
<text x="21.90" y="242.47" font-size="6.5" text-anchor="end" fill="#3a3a3a">40</text>
<line x1="161.06" y1="241.10" x2="161.06" y2="239.70" stroke="#262626" stroke-width="0.5"/>
<line x1="23.60" y1="239.72" x2="25.00" y2="239.72" stroke="#262626" stroke-width="0.5"/>
<line x1="161.06" y1="130.80" x2="161.06" y2="132.20" stroke="#262626" stroke-width="0.5"/>
<line x1="162.80" y1="239.72" x2="161.40" y2="239.72" stroke="#262626" stroke-width="0.5"/>
<rect x="167.10" y="131.1" width="5.6" height="109.2" fill="url(#pg)" stroke="#262626" stroke-width="0.3" stroke-opacity="0.6"/>
<text x="174.10" y="133.90" font-size="6.5" fill="#3a3a3a">1</text>
<text x="174.10" y="161.20" font-size="6.5" fill="#3a3a3a">0.5</text>
<text x="174.10" y="188.50" font-size="6.5" fill="#3a3a3a">0</text>
<text x="174.10" y="215.80" font-size="6.5" fill="#3a3a3a">-0.5</text>
<text x="174.10" y="243.10" font-size="6.5" fill="#3a3a3a">-1</text>
<text x="93.20" y="120.9" font-size="6.5" text-anchor="middle" fill="#1e1e1e">Cross-correlation coefficient matrix</text>
<text x="93.20" y="129.8" font-size="6.5" text-anchor="middle" fill="#1e1e1e">(NBRS-15)</text>
<text x="93.20" y="258.0" font-size="6.5" text-anchor="middle" fill="#3a3a3a">Sequence No.</text>
<text transform="translate(12.40,185.7) rotate(-90)" font-size="6.5" text-anchor="middle" fill="#3a3a3a">Sequence No.</text>
<text x="95.8" y="274.3" font-family="Liberation Serif" font-size="15" text-anchor="middle" fill="#000" stroke="#000" stroke-width="0.45">(d)</text>
<g transform="translate(215.20,130.80) scale(3.4800,2.7575)">
<rect width="40" height="40" fill="#0bbdbd"/>
<path fill="#2d8cf3" d="M14 0h1v1h-1zM15 2h1v1h-1zM18 2h1v1h-1zM25 8h1v1h-1zM13 9h1v1h-1zM9 13h1v1h-1zM0 14h1v1h-1zM2 15h1v1h-1zM28 17h1v1h-1zM2 18h1v1h-1zM8 25h1v1h-1zM17 28h1v1h-1z"/>
<path fill="#2b91ef" d="M4 0h1v1h-1zM7 0h1v1h-1zM21 0h1v1h-1zM9 1h1v1h-1zM13 1h1v1h-1zM19 1h1v1h-1zM38 1h1v1h-1zM15 3h1v1h-1zM16 3h1v1h-1zM0 4h1v1h-1zM22 4h1v1h-1zM27 5h1v1h-1zM24 6h1v1h-1zM38 6h1v1h-1zM0 7h1v1h-1zM9 7h1v1h-1zM15 8h1v1h-1zM1 9h1v1h-1zM7 9h1v1h-1zM30 10h1v1h-1zM36 12h1v1h-1zM1 13h1v1h-1zM27 14h1v1h-1zM3 15h1v1h-1zM8 15h1v1h-1zM28 15h1v1h-1zM3 16h1v1h-1zM35 17h1v1h-1zM1 19h1v1h-1zM26 20h1v1h-1zM28 20h1v1h-1zM32 20h1v1h-1zM0 21h1v1h-1zM4 22h1v1h-1zM31 23h1v1h-1zM6 24h1v1h-1zM26 24h1v1h-1zM36 24h1v1h-1zM32 25h1v1h-1zM20 26h1v1h-1zM24 26h1v1h-1zM35 26h1v1h-1zM5 27h1v1h-1zM14 27h1v1h-1zM33 27h1v1h-1zM15 28h1v1h-1zM20 28h1v1h-1zM10 30h1v1h-1zM23 31h1v1h-1zM20 32h1v1h-1zM25 32h1v1h-1zM36 32h1v1h-1zM27 33h1v1h-1zM17 35h1v1h-1zM26 35h1v1h-1zM12 36h1v1h-1zM24 36h1v1h-1zM32 36h1v1h-1zM1 38h1v1h-1zM6 38h1v1h-1z"/>
<path fill="#2797eb" d="M10 1h1v1h-1zM16 1h1v1h-1zM36 1h1v1h-1zM25 2h1v1h-1zM11 3h1v1h-1zM18 3h1v1h-1zM11 4h1v1h-1zM38 5h1v1h-1zM10 7h1v1h-1zM29 8h1v1h-1zM34 9h1v1h-1zM1 10h1v1h-1zM7 10h1v1h-1zM12 10h1v1h-1zM3 11h1v1h-1zM4 11h1v1h-1zM17 11h1v1h-1zM24 11h1v1h-1zM38 11h1v1h-1zM39 11h1v1h-1zM10 12h1v1h-1zM17 12h1v1h-1zM18 12h1v1h-1zM14 13h1v1h-1zM16 13h1v1h-1zM32 13h1v1h-1zM37 13h1v1h-1zM13 14h1v1h-1zM24 15h1v1h-1zM25 15h1v1h-1zM36 15h1v1h-1zM1 16h1v1h-1zM13 16h1v1h-1zM11 17h1v1h-1zM12 17h1v1h-1zM3 18h1v1h-1zM12 18h1v1h-1zM26 18h1v1h-1zM31 19h1v1h-1zM23 20h1v1h-1zM33 20h1v1h-1zM37 21h1v1h-1zM20 23h1v1h-1zM11 24h1v1h-1zM15 24h1v1h-1zM2 25h1v1h-1zM15 25h1v1h-1zM30 25h1v1h-1zM38 25h1v1h-1zM18 26h1v1h-1zM27 26h1v1h-1zM33 26h1v1h-1zM26 27h1v1h-1zM8 29h1v1h-1zM25 30h1v1h-1zM36 30h1v1h-1zM19 31h1v1h-1zM13 32h1v1h-1zM33 32h1v1h-1zM38 32h1v1h-1zM20 33h1v1h-1zM26 33h1v1h-1zM32 33h1v1h-1zM39 33h1v1h-1zM9 34h1v1h-1zM1 36h1v1h-1zM15 36h1v1h-1zM30 36h1v1h-1zM13 37h1v1h-1zM21 37h1v1h-1zM5 38h1v1h-1zM11 38h1v1h-1zM25 38h1v1h-1zM32 38h1v1h-1zM11 39h1v1h-1zM33 39h1v1h-1z"/>
<path fill="#259be8" d="M9 0h1v1h-1zM22 0h1v1h-1zM23 0h1v1h-1zM22 1h1v1h-1zM39 2h1v1h-1zM4 3h1v1h-1zM6 3h1v1h-1zM3 4h1v1h-1zM7 4h1v1h-1zM24 4h1v1h-1zM6 5h1v1h-1zM29 5h1v1h-1zM33 5h1v1h-1zM36 5h1v1h-1zM3 6h1v1h-1zM5 6h1v1h-1zM13 6h1v1h-1zM21 6h1v1h-1zM4 7h1v1h-1zM23 7h1v1h-1zM20 8h1v1h-1zM0 9h1v1h-1zM23 9h1v1h-1zM29 9h1v1h-1zM11 10h1v1h-1zM10 11h1v1h-1zM16 11h1v1h-1zM32 11h1v1h-1zM28 12h1v1h-1zM6 13h1v1h-1zM35 13h1v1h-1zM11 16h1v1h-1zM21 16h1v1h-1zM26 16h1v1h-1zM34 17h1v1h-1zM39 18h1v1h-1zM8 20h1v1h-1zM6 21h1v1h-1zM16 21h1v1h-1zM0 22h1v1h-1zM1 22h1v1h-1zM31 22h1v1h-1zM35 22h1v1h-1zM0 23h1v1h-1zM7 23h1v1h-1zM9 23h1v1h-1zM4 24h1v1h-1zM39 25h1v1h-1zM16 26h1v1h-1zM12 28h1v1h-1zM5 29h1v1h-1zM9 29h1v1h-1zM36 29h1v1h-1zM32 30h1v1h-1zM22 31h1v1h-1zM11 32h1v1h-1zM30 32h1v1h-1zM34 32h1v1h-1zM5 33h1v1h-1zM17 34h1v1h-1zM32 34h1v1h-1zM35 34h1v1h-1zM13 35h1v1h-1zM22 35h1v1h-1zM34 35h1v1h-1zM5 36h1v1h-1zM29 36h1v1h-1zM2 39h1v1h-1zM18 39h1v1h-1zM25 39h1v1h-1z"/>
<path fill="#23a0e5" d="M19 0h1v1h-1zM2 1h1v1h-1zM1 2h1v1h-1zM14 3h1v1h-1zM23 3h1v1h-1zM32 3h1v1h-1zM18 4h1v1h-1zM11 5h1v1h-1zM13 5h1v1h-1zM9 6h1v1h-1zM19 6h1v1h-1zM25 6h1v1h-1zM26 6h1v1h-1zM14 7h1v1h-1zM19 7h1v1h-1zM32 7h1v1h-1zM34 7h1v1h-1zM13 8h1v1h-1zM6 9h1v1h-1zM19 9h1v1h-1zM20 10h1v1h-1zM27 10h1v1h-1zM38 10h1v1h-1zM5 11h1v1h-1zM29 11h1v1h-1zM38 12h1v1h-1zM5 13h1v1h-1zM8 13h1v1h-1zM3 14h1v1h-1zM7 14h1v1h-1zM22 17h1v1h-1zM4 18h1v1h-1zM0 19h1v1h-1zM6 19h1v1h-1zM7 19h1v1h-1zM9 19h1v1h-1zM10 20h1v1h-1zM29 20h1v1h-1zM22 21h1v1h-1zM33 21h1v1h-1zM17 22h1v1h-1zM21 22h1v1h-1zM3 23h1v1h-1zM26 23h1v1h-1zM28 23h1v1h-1zM36 23h1v1h-1zM29 24h1v1h-1zM6 25h1v1h-1zM6 26h1v1h-1zM23 26h1v1h-1zM31 26h1v1h-1zM10 27h1v1h-1zM23 28h1v1h-1zM11 29h1v1h-1zM20 29h1v1h-1zM24 29h1v1h-1zM35 29h1v1h-1zM31 30h1v1h-1zM35 30h1v1h-1zM26 31h1v1h-1zM30 31h1v1h-1zM39 31h1v1h-1zM3 32h1v1h-1zM7 32h1v1h-1zM39 32h1v1h-1zM21 33h1v1h-1zM35 33h1v1h-1zM7 34h1v1h-1zM29 35h1v1h-1zM30 35h1v1h-1zM33 35h1v1h-1zM23 36h1v1h-1zM10 38h1v1h-1zM12 38h1v1h-1zM39 38h1v1h-1zM31 39h1v1h-1zM32 39h1v1h-1zM38 39h1v1h-1z"/>
<path fill="#20a5e3" d="M15 1h1v1h-1zM34 1h1v1h-1zM28 2h1v1h-1zM29 2h1v1h-1zM33 2h1v1h-1zM24 5h1v1h-1zM17 6h1v1h-1zM18 6h1v1h-1zM12 8h1v1h-1zM18 8h1v1h-1zM20 9h1v1h-1zM21 9h1v1h-1zM28 11h1v1h-1zM36 11h1v1h-1zM8 12h1v1h-1zM35 14h1v1h-1zM1 15h1v1h-1zM20 15h1v1h-1zM34 16h1v1h-1zM6 17h1v1h-1zM6 18h1v1h-1zM8 18h1v1h-1zM28 18h1v1h-1zM29 18h1v1h-1zM32 19h1v1h-1zM9 20h1v1h-1zM15 20h1v1h-1zM9 21h1v1h-1zM33 23h1v1h-1zM34 23h1v1h-1zM5 24h1v1h-1zM30 24h1v1h-1zM39 24h1v1h-1zM30 27h1v1h-1zM32 27h1v1h-1zM35 27h1v1h-1zM2 28h1v1h-1zM11 28h1v1h-1zM18 28h1v1h-1zM2 29h1v1h-1zM18 29h1v1h-1zM24 30h1v1h-1zM27 30h1v1h-1zM19 32h1v1h-1zM27 32h1v1h-1zM2 33h1v1h-1zM23 33h1v1h-1zM1 34h1v1h-1zM16 34h1v1h-1zM23 34h1v1h-1zM14 35h1v1h-1zM27 35h1v1h-1zM11 36h1v1h-1zM37 36h1v1h-1zM36 37h1v1h-1zM24 39h1v1h-1z"/>
<path fill="#1ca9df" d="M2 0h1v1h-1zM0 2h1v1h-1zM25 3h1v1h-1zM8 4h1v1h-1zM31 4h1v1h-1zM10 5h1v1h-1zM17 5h1v1h-1zM28 6h1v1h-1zM33 6h1v1h-1zM12 7h1v1h-1zM18 7h1v1h-1zM21 7h1v1h-1zM4 8h1v1h-1zM19 8h1v1h-1zM22 8h1v1h-1zM26 8h1v1h-1zM5 10h1v1h-1zM18 10h1v1h-1zM21 10h1v1h-1zM20 11h1v1h-1zM7 12h1v1h-1zM26 12h1v1h-1zM19 13h1v1h-1zM27 13h1v1h-1zM30 13h1v1h-1zM16 14h1v1h-1zM23 15h1v1h-1zM38 15h1v1h-1zM14 16h1v1h-1zM20 16h1v1h-1zM5 17h1v1h-1zM7 18h1v1h-1zM10 18h1v1h-1zM21 18h1v1h-1zM27 18h1v1h-1zM30 18h1v1h-1zM8 19h1v1h-1zM13 19h1v1h-1zM11 20h1v1h-1zM16 20h1v1h-1zM24 20h1v1h-1zM7 21h1v1h-1zM10 21h1v1h-1zM18 21h1v1h-1zM8 22h1v1h-1zM15 23h1v1h-1zM25 23h1v1h-1zM29 23h1v1h-1zM39 23h1v1h-1zM20 24h1v1h-1zM3 25h1v1h-1zM23 25h1v1h-1zM31 25h1v1h-1zM33 25h1v1h-1zM8 26h1v1h-1zM12 26h1v1h-1zM13 27h1v1h-1zM18 27h1v1h-1zM29 27h1v1h-1zM6 28h1v1h-1zM23 29h1v1h-1zM27 29h1v1h-1zM13 30h1v1h-1zM18 30h1v1h-1zM4 31h1v1h-1zM25 31h1v1h-1zM35 32h1v1h-1zM6 33h1v1h-1zM25 33h1v1h-1zM32 35h1v1h-1zM15 38h1v1h-1zM23 39h1v1h-1z"/>
<path fill="#18addb" d="M10 0h1v1h-1zM24 0h1v1h-1zM28 0h1v1h-1zM14 1h1v1h-1zM23 1h1v1h-1zM8 2h1v1h-1zM9 2h1v1h-1zM24 2h1v1h-1zM8 3h1v1h-1zM19 3h1v1h-1zM24 3h1v1h-1zM35 3h1v1h-1zM9 5h1v1h-1zM23 5h1v1h-1zM31 5h1v1h-1zM2 8h1v1h-1zM3 8h1v1h-1zM16 8h1v1h-1zM37 8h1v1h-1zM2 9h1v1h-1zM5 9h1v1h-1zM17 9h1v1h-1zM24 9h1v1h-1zM0 10h1v1h-1zM32 10h1v1h-1zM37 10h1v1h-1zM15 12h1v1h-1zM20 12h1v1h-1zM22 12h1v1h-1zM31 12h1v1h-1zM1 14h1v1h-1zM25 14h1v1h-1zM33 14h1v1h-1zM36 14h1v1h-1zM12 15h1v1h-1zM8 16h1v1h-1zM9 17h1v1h-1zM39 17h1v1h-1zM24 18h1v1h-1zM31 18h1v1h-1zM3 19h1v1h-1zM27 19h1v1h-1zM37 19h1v1h-1zM39 19h1v1h-1zM12 20h1v1h-1zM12 22h1v1h-1zM1 23h1v1h-1zM5 23h1v1h-1zM0 24h1v1h-1zM2 24h1v1h-1zM3 24h1v1h-1zM9 24h1v1h-1zM18 24h1v1h-1zM14 25h1v1h-1zM19 27h1v1h-1zM38 27h1v1h-1zM0 28h1v1h-1zM5 31h1v1h-1zM12 31h1v1h-1zM18 31h1v1h-1zM10 32h1v1h-1zM14 33h1v1h-1zM3 35h1v1h-1zM14 36h1v1h-1zM8 37h1v1h-1zM10 37h1v1h-1zM19 37h1v1h-1zM27 38h1v1h-1zM17 39h1v1h-1zM19 39h1v1h-1z"/>
<path fill="#12b1d6" d="M31 0h1v1h-1zM32 0h1v1h-1zM7 2h1v1h-1zM37 2h1v1h-1zM12 3h1v1h-1zM13 3h1v1h-1zM38 3h1v1h-1zM39 3h1v1h-1zM13 4h1v1h-1zM20 5h1v1h-1zM35 5h1v1h-1zM14 6h1v1h-1zM22 6h1v1h-1zM30 6h1v1h-1zM2 7h1v1h-1zM9 8h1v1h-1zM24 8h1v1h-1zM8 9h1v1h-1zM15 9h1v1h-1zM15 11h1v1h-1zM21 11h1v1h-1zM35 11h1v1h-1zM3 12h1v1h-1zM13 12h1v1h-1zM25 12h1v1h-1zM3 13h1v1h-1zM4 13h1v1h-1zM12 13h1v1h-1zM6 14h1v1h-1zM29 14h1v1h-1zM9 15h1v1h-1zM11 15h1v1h-1zM18 15h1v1h-1zM36 16h1v1h-1zM38 16h1v1h-1zM19 17h1v1h-1zM15 18h1v1h-1zM33 18h1v1h-1zM34 18h1v1h-1zM17 19h1v1h-1zM29 19h1v1h-1zM5 20h1v1h-1zM11 21h1v1h-1zM6 22h1v1h-1zM23 22h1v1h-1zM26 22h1v1h-1zM29 22h1v1h-1zM22 23h1v1h-1zM35 23h1v1h-1zM8 24h1v1h-1zM12 25h1v1h-1zM27 25h1v1h-1zM22 26h1v1h-1zM38 26h1v1h-1zM25 27h1v1h-1zM37 28h1v1h-1zM38 28h1v1h-1zM39 28h1v1h-1zM14 29h1v1h-1zM19 29h1v1h-1zM22 29h1v1h-1zM31 29h1v1h-1zM6 30h1v1h-1zM33 30h1v1h-1zM38 30h1v1h-1zM0 31h1v1h-1zM29 31h1v1h-1zM32 31h1v1h-1zM35 31h1v1h-1zM0 32h1v1h-1zM31 32h1v1h-1zM18 33h1v1h-1zM30 33h1v1h-1zM18 34h1v1h-1zM5 35h1v1h-1zM11 35h1v1h-1zM23 35h1v1h-1zM31 35h1v1h-1zM16 36h1v1h-1zM2 37h1v1h-1zM28 37h1v1h-1zM38 37h1v1h-1zM3 38h1v1h-1zM16 38h1v1h-1zM26 38h1v1h-1zM28 38h1v1h-1zM30 38h1v1h-1zM37 38h1v1h-1zM3 39h1v1h-1zM28 39h1v1h-1z"/>
<path fill="#08b5d0" d="M38 0h1v1h-1zM7 1h1v1h-1zM11 2h1v1h-1zM20 2h1v1h-1zM30 2h1v1h-1zM31 2h1v1h-1zM28 3h1v1h-1zM36 3h1v1h-1zM12 4h1v1h-1zM18 5h1v1h-1zM8 6h1v1h-1zM16 6h1v1h-1zM23 6h1v1h-1zM1 7h1v1h-1zM11 7h1v1h-1zM6 8h1v1h-1zM10 8h1v1h-1zM36 8h1v1h-1zM16 9h1v1h-1zM39 9h1v1h-1zM8 10h1v1h-1zM39 10h1v1h-1zM2 11h1v1h-1zM7 11h1v1h-1zM31 11h1v1h-1zM4 12h1v1h-1zM14 12h1v1h-1zM33 12h1v1h-1zM24 13h1v1h-1zM12 14h1v1h-1zM31 14h1v1h-1zM39 15h1v1h-1zM6 16h1v1h-1zM9 16h1v1h-1zM30 17h1v1h-1zM33 17h1v1h-1zM38 17h1v1h-1zM5 18h1v1h-1zM33 19h1v1h-1zM2 20h1v1h-1zM35 21h1v1h-1zM24 22h1v1h-1zM6 23h1v1h-1zM13 24h1v1h-1zM22 24h1v1h-1zM34 24h1v1h-1zM34 25h1v1h-1zM3 28h1v1h-1zM2 30h1v1h-1zM17 30h1v1h-1zM2 31h1v1h-1zM11 31h1v1h-1zM14 31h1v1h-1zM12 33h1v1h-1zM17 33h1v1h-1zM19 33h1v1h-1zM24 34h1v1h-1zM25 34h1v1h-1zM38 34h1v1h-1zM21 35h1v1h-1zM3 36h1v1h-1zM8 36h1v1h-1zM0 38h1v1h-1zM17 38h1v1h-1zM34 38h1v1h-1zM9 39h1v1h-1zM10 39h1v1h-1zM15 39h1v1h-1z"/>
<path fill="#01b8ca" d="M39 0h1v1h-1zM4 1h1v1h-1zM5 1h1v1h-1zM18 1h1v1h-1zM31 1h1v1h-1zM3 2h1v1h-1zM34 2h1v1h-1zM2 3h1v1h-1zM1 4h1v1h-1zM9 4h1v1h-1zM28 4h1v1h-1zM35 4h1v1h-1zM1 5h1v1h-1zM34 6h1v1h-1zM33 7h1v1h-1zM17 8h1v1h-1zM28 8h1v1h-1zM4 9h1v1h-1zM30 9h1v1h-1zM33 11h1v1h-1zM25 13h1v1h-1zM28 13h1v1h-1zM31 13h1v1h-1zM38 13h1v1h-1zM26 14h1v1h-1zM30 14h1v1h-1zM39 14h1v1h-1zM30 15h1v1h-1zM27 16h1v1h-1zM8 17h1v1h-1zM1 18h1v1h-1zM26 19h1v1h-1zM23 21h1v1h-1zM30 21h1v1h-1zM33 22h1v1h-1zM21 23h1v1h-1zM38 23h1v1h-1zM13 25h1v1h-1zM14 26h1v1h-1zM19 26h1v1h-1zM16 27h1v1h-1zM36 27h1v1h-1zM4 28h1v1h-1zM8 28h1v1h-1zM13 28h1v1h-1zM9 30h1v1h-1zM14 30h1v1h-1zM15 30h1v1h-1zM21 30h1v1h-1zM1 31h1v1h-1zM13 31h1v1h-1zM7 33h1v1h-1zM11 33h1v1h-1zM22 33h1v1h-1zM2 34h1v1h-1zM6 34h1v1h-1zM4 35h1v1h-1zM36 35h1v1h-1zM27 36h1v1h-1zM35 36h1v1h-1zM38 36h1v1h-1zM13 38h1v1h-1zM23 38h1v1h-1zM36 38h1v1h-1zM0 39h1v1h-1zM14 39h1v1h-1z"/>
<path fill="#02bac3" d="M17 0h1v1h-1zM26 0h1v1h-1zM6 1h1v1h-1zM8 1h1v1h-1zM25 1h1v1h-1zM27 1h1v1h-1zM32 1h1v1h-1zM26 3h1v1h-1zM37 5h1v1h-1zM1 6h1v1h-1zM15 6h1v1h-1zM22 7h1v1h-1zM37 7h1v1h-1zM1 8h1v1h-1zM38 8h1v1h-1zM10 9h1v1h-1zM26 9h1v1h-1zM9 10h1v1h-1zM13 10h1v1h-1zM25 10h1v1h-1zM10 13h1v1h-1zM22 13h1v1h-1zM15 14h1v1h-1zM23 14h1v1h-1zM6 15h1v1h-1zM14 15h1v1h-1zM26 15h1v1h-1zM29 15h1v1h-1zM37 15h1v1h-1zM22 16h1v1h-1zM0 17h1v1h-1zM20 17h1v1h-1zM21 17h1v1h-1zM19 18h1v1h-1zM36 18h1v1h-1zM37 18h1v1h-1zM18 19h1v1h-1zM17 20h1v1h-1zM17 21h1v1h-1zM7 22h1v1h-1zM13 22h1v1h-1zM16 22h1v1h-1zM14 23h1v1h-1zM32 24h1v1h-1zM1 25h1v1h-1zM10 25h1v1h-1zM37 25h1v1h-1zM0 26h1v1h-1zM3 26h1v1h-1zM9 26h1v1h-1zM15 26h1v1h-1zM30 26h1v1h-1zM37 26h1v1h-1zM1 27h1v1h-1zM15 29h1v1h-1zM34 29h1v1h-1zM38 29h1v1h-1zM26 30h1v1h-1zM1 32h1v1h-1zM24 32h1v1h-1zM29 34h1v1h-1zM18 36h1v1h-1zM5 37h1v1h-1zM7 37h1v1h-1zM15 37h1v1h-1zM18 37h1v1h-1zM25 37h1v1h-1zM26 37h1v1h-1zM8 38h1v1h-1zM29 38h1v1h-1z"/>
<path fill="#0bbdbd" d="M3 0h1v1h-1zM15 0h1v1h-1zM17 1h1v1h-1zM26 1h1v1h-1zM36 2h1v1h-1zM0 3h1v1h-1zM17 4h1v1h-1zM34 4h1v1h-1zM36 4h1v1h-1zM7 5h1v1h-1zM8 5h1v1h-1zM19 5h1v1h-1zM5 7h1v1h-1zM13 7h1v1h-1zM16 7h1v1h-1zM20 7h1v1h-1zM29 7h1v1h-1zM36 7h1v1h-1zM5 8h1v1h-1zM31 9h1v1h-1zM28 10h1v1h-1zM13 11h1v1h-1zM19 11h1v1h-1zM19 12h1v1h-1zM29 12h1v1h-1zM7 13h1v1h-1zM11 13h1v1h-1zM38 14h1v1h-1zM0 15h1v1h-1zM19 15h1v1h-1zM34 15h1v1h-1zM35 15h1v1h-1zM7 16h1v1h-1zM29 16h1v1h-1zM32 16h1v1h-1zM1 17h1v1h-1zM4 17h1v1h-1zM23 17h1v1h-1zM5 19h1v1h-1zM11 19h1v1h-1zM12 19h1v1h-1zM15 19h1v1h-1zM28 19h1v1h-1zM7 20h1v1h-1zM30 22h1v1h-1zM34 22h1v1h-1zM17 23h1v1h-1zM33 24h1v1h-1zM36 25h1v1h-1zM1 26h1v1h-1zM28 26h1v1h-1zM31 27h1v1h-1zM37 27h1v1h-1zM10 28h1v1h-1zM19 28h1v1h-1zM26 28h1v1h-1zM7 29h1v1h-1zM12 29h1v1h-1zM16 29h1v1h-1zM32 29h1v1h-1zM22 30h1v1h-1zM34 30h1v1h-1zM9 31h1v1h-1zM27 31h1v1h-1zM16 32h1v1h-1zM29 32h1v1h-1zM24 33h1v1h-1zM4 34h1v1h-1zM15 34h1v1h-1zM22 34h1v1h-1zM30 34h1v1h-1zM37 34h1v1h-1zM15 35h1v1h-1zM2 36h1v1h-1zM4 36h1v1h-1zM7 36h1v1h-1zM25 36h1v1h-1zM27 37h1v1h-1zM34 37h1v1h-1zM14 38h1v1h-1z"/>
<path fill="#19bfb6" d="M16 0h1v1h-1zM20 1h1v1h-1zM27 3h1v1h-1zM12 5h1v1h-1zM21 5h1v1h-1zM30 5h1v1h-1zM28 7h1v1h-1zM35 7h1v1h-1zM22 9h1v1h-1zM37 9h1v1h-1zM16 10h1v1h-1zM5 12h1v1h-1zM36 13h1v1h-1zM20 14h1v1h-1zM0 16h1v1h-1zM10 16h1v1h-1zM19 16h1v1h-1zM18 17h1v1h-1zM17 18h1v1h-1zM23 18h1v1h-1zM16 19h1v1h-1zM21 19h1v1h-1zM34 19h1v1h-1zM35 19h1v1h-1zM1 20h1v1h-1zM14 20h1v1h-1zM34 20h1v1h-1zM35 20h1v1h-1zM5 21h1v1h-1zM19 21h1v1h-1zM36 21h1v1h-1zM9 22h1v1h-1zM18 23h1v1h-1zM26 25h1v1h-1zM25 26h1v1h-1zM34 26h1v1h-1zM3 27h1v1h-1zM7 28h1v1h-1zM5 30h1v1h-1zM37 33h1v1h-1zM19 34h1v1h-1zM20 34h1v1h-1zM26 34h1v1h-1zM7 35h1v1h-1zM19 35h1v1h-1zM20 35h1v1h-1zM13 36h1v1h-1zM21 36h1v1h-1zM9 37h1v1h-1zM33 37h1v1h-1z"/>
<path fill="#24c1ae" d="M11 0h1v1h-1zM34 0h1v1h-1zM29 1h1v1h-1zM30 1h1v1h-1zM37 1h1v1h-1zM6 2h1v1h-1zM21 2h1v1h-1zM22 2h1v1h-1zM23 2h1v1h-1zM7 3h1v1h-1zM9 3h1v1h-1zM17 3h1v1h-1zM10 4h1v1h-1zM26 4h1v1h-1zM29 4h1v1h-1zM2 6h1v1h-1zM12 6h1v1h-1zM36 6h1v1h-1zM37 6h1v1h-1zM3 7h1v1h-1zM24 7h1v1h-1zM3 9h1v1h-1zM18 9h1v1h-1zM4 10h1v1h-1zM29 10h1v1h-1zM0 11h1v1h-1zM25 11h1v1h-1zM26 11h1v1h-1zM6 12h1v1h-1zM18 13h1v1h-1zM34 13h1v1h-1zM24 14h1v1h-1zM34 14h1v1h-1zM21 15h1v1h-1zM32 15h1v1h-1zM33 15h1v1h-1zM23 16h1v1h-1zM3 17h1v1h-1zM25 17h1v1h-1zM32 17h1v1h-1zM9 18h1v1h-1zM13 18h1v1h-1zM2 21h1v1h-1zM15 21h1v1h-1zM31 21h1v1h-1zM38 21h1v1h-1zM2 22h1v1h-1zM39 22h1v1h-1zM2 23h1v1h-1zM16 23h1v1h-1zM27 23h1v1h-1zM32 23h1v1h-1zM7 24h1v1h-1zM14 24h1v1h-1zM11 25h1v1h-1zM17 25h1v1h-1zM4 26h1v1h-1zM11 26h1v1h-1zM23 27h1v1h-1zM31 28h1v1h-1zM34 28h1v1h-1zM1 29h1v1h-1zM4 29h1v1h-1zM10 29h1v1h-1zM37 29h1v1h-1zM39 29h1v1h-1zM1 30h1v1h-1zM21 31h1v1h-1zM28 31h1v1h-1zM33 31h1v1h-1zM15 32h1v1h-1zM17 32h1v1h-1zM23 32h1v1h-1zM15 33h1v1h-1zM31 33h1v1h-1zM0 34h1v1h-1zM13 34h1v1h-1zM14 34h1v1h-1zM28 34h1v1h-1zM39 34h1v1h-1zM6 36h1v1h-1zM1 37h1v1h-1zM6 37h1v1h-1zM29 37h1v1h-1zM21 38h1v1h-1zM22 39h1v1h-1zM29 39h1v1h-1zM34 39h1v1h-1z"/>
<path fill="#2cc4a7" d="M25 0h1v1h-1zM12 1h1v1h-1zM24 1h1v1h-1zM39 1h1v1h-1zM4 2h1v1h-1zM19 2h1v1h-1zM35 2h1v1h-1zM10 3h1v1h-1zM30 3h1v1h-1zM31 3h1v1h-1zM34 3h1v1h-1zM2 4h1v1h-1zM32 4h1v1h-1zM39 4h1v1h-1zM28 5h1v1h-1zM11 6h1v1h-1zM31 6h1v1h-1zM32 6h1v1h-1zM35 6h1v1h-1zM15 7h1v1h-1zM31 7h1v1h-1zM23 8h1v1h-1zM31 8h1v1h-1zM32 8h1v1h-1zM3 10h1v1h-1zM19 10h1v1h-1zM6 11h1v1h-1zM12 11h1v1h-1zM22 11h1v1h-1zM1 12h1v1h-1zM11 12h1v1h-1zM16 12h1v1h-1zM21 12h1v1h-1zM29 13h1v1h-1zM7 15h1v1h-1zM12 16h1v1h-1zM17 16h1v1h-1zM16 17h1v1h-1zM29 17h1v1h-1zM2 19h1v1h-1zM10 19h1v1h-1zM12 21h1v1h-1zM11 22h1v1h-1zM27 22h1v1h-1zM37 22h1v1h-1zM8 23h1v1h-1zM30 23h1v1h-1zM1 24h1v1h-1zM35 24h1v1h-1zM0 25h1v1h-1zM35 25h1v1h-1zM22 27h1v1h-1zM5 28h1v1h-1zM32 28h1v1h-1zM13 29h1v1h-1zM17 29h1v1h-1zM3 30h1v1h-1zM23 30h1v1h-1zM3 31h1v1h-1zM6 31h1v1h-1zM7 31h1v1h-1zM8 31h1v1h-1zM4 32h1v1h-1zM6 32h1v1h-1zM8 32h1v1h-1zM28 32h1v1h-1zM3 34h1v1h-1zM2 35h1v1h-1zM6 35h1v1h-1zM24 35h1v1h-1zM25 35h1v1h-1zM22 37h1v1h-1zM39 37h1v1h-1zM1 39h1v1h-1zM4 39h1v1h-1zM37 39h1v1h-1z"/>
<path fill="#31c69f" d="M30 0h1v1h-1zM14 2h1v1h-1zM6 4h1v1h-1zM14 5h1v1h-1zM16 5h1v1h-1zM22 5h1v1h-1zM4 6h1v1h-1zM28 9h1v1h-1zM36 9h1v1h-1zM23 12h1v1h-1zM17 13h1v1h-1zM26 13h1v1h-1zM2 14h1v1h-1zM5 14h1v1h-1zM31 15h1v1h-1zM5 16h1v1h-1zM24 16h1v1h-1zM30 16h1v1h-1zM35 16h1v1h-1zM39 16h1v1h-1zM13 17h1v1h-1zM36 17h1v1h-1zM25 18h1v1h-1zM27 20h1v1h-1zM30 20h1v1h-1zM39 20h1v1h-1zM26 21h1v1h-1zM5 22h1v1h-1zM36 22h1v1h-1zM12 23h1v1h-1zM16 24h1v1h-1zM18 25h1v1h-1zM29 25h1v1h-1zM13 26h1v1h-1zM21 26h1v1h-1zM20 27h1v1h-1zM9 28h1v1h-1zM25 29h1v1h-1zM0 30h1v1h-1zM16 30h1v1h-1zM20 30h1v1h-1zM39 30h1v1h-1zM15 31h1v1h-1zM16 35h1v1h-1zM9 36h1v1h-1zM17 36h1v1h-1zM22 36h1v1h-1zM16 39h1v1h-1zM20 39h1v1h-1zM30 39h1v1h-1z"/>
<path fill="#37c897" d="M1 0h1v1h-1zM20 0h1v1h-1zM29 0h1v1h-1zM0 1h1v1h-1zM11 1h1v1h-1zM29 3h1v1h-1zM33 3h1v1h-1zM16 4h1v1h-1zM39 5h1v1h-1zM20 6h1v1h-1zM29 6h1v1h-1zM39 8h1v1h-1zM24 10h1v1h-1zM1 11h1v1h-1zM23 11h1v1h-1zM30 11h1v1h-1zM37 11h1v1h-1zM27 12h1v1h-1zM32 12h1v1h-1zM35 12h1v1h-1zM28 14h1v1h-1zM37 14h1v1h-1zM17 15h1v1h-1zM4 16h1v1h-1zM15 17h1v1h-1zM35 18h1v1h-1zM25 19h1v1h-1zM0 20h1v1h-1zM6 20h1v1h-1zM25 20h1v1h-1zM38 20h1v1h-1zM34 21h1v1h-1zM28 22h1v1h-1zM11 23h1v1h-1zM10 24h1v1h-1zM38 24h1v1h-1zM19 25h1v1h-1zM20 25h1v1h-1zM28 25h1v1h-1zM12 27h1v1h-1zM34 27h1v1h-1zM14 28h1v1h-1zM22 28h1v1h-1zM25 28h1v1h-1zM0 29h1v1h-1zM3 29h1v1h-1zM6 29h1v1h-1zM11 30h1v1h-1zM12 32h1v1h-1zM3 33h1v1h-1zM21 34h1v1h-1zM27 34h1v1h-1zM12 35h1v1h-1zM18 35h1v1h-1zM11 37h1v1h-1zM14 37h1v1h-1zM20 38h1v1h-1zM24 38h1v1h-1zM5 39h1v1h-1zM8 39h1v1h-1z"/>
<path fill="#3fca8e" d="M18 0h1v1h-1zM36 0h1v1h-1zM21 1h1v1h-1zM26 2h1v1h-1zM38 2h1v1h-1zM23 4h1v1h-1zM30 4h1v1h-1zM25 5h1v1h-1zM26 5h1v1h-1zM10 6h1v1h-1zM27 6h1v1h-1zM30 7h1v1h-1zM25 9h1v1h-1zM6 10h1v1h-1zM35 10h1v1h-1zM18 11h1v1h-1zM27 11h1v1h-1zM34 11h1v1h-1zM18 14h1v1h-1zM37 16h1v1h-1zM0 18h1v1h-1zM11 18h1v1h-1zM14 18h1v1h-1zM22 18h1v1h-1zM38 19h1v1h-1zM1 21h1v1h-1zM28 21h1v1h-1zM29 21h1v1h-1zM18 22h1v1h-1zM32 22h1v1h-1zM4 23h1v1h-1zM28 24h1v1h-1zM5 25h1v1h-1zM9 25h1v1h-1zM2 26h1v1h-1zM5 26h1v1h-1zM6 27h1v1h-1zM11 27h1v1h-1zM28 27h1v1h-1zM21 28h1v1h-1zM24 28h1v1h-1zM27 28h1v1h-1zM21 29h1v1h-1zM30 29h1v1h-1zM4 30h1v1h-1zM7 30h1v1h-1zM29 30h1v1h-1zM37 30h1v1h-1zM36 31h1v1h-1zM22 32h1v1h-1zM37 32h1v1h-1zM36 33h1v1h-1zM38 33h1v1h-1zM11 34h1v1h-1zM10 35h1v1h-1zM39 35h1v1h-1zM0 36h1v1h-1zM31 36h1v1h-1zM33 36h1v1h-1zM16 37h1v1h-1zM30 37h1v1h-1zM32 37h1v1h-1zM2 38h1v1h-1zM19 38h1v1h-1zM33 38h1v1h-1zM35 39h1v1h-1z"/>
<path fill="#4acb84" d="M13 0h1v1h-1zM27 0h1v1h-1zM37 0h1v1h-1zM33 4h1v1h-1zM32 5h1v1h-1zM17 7h1v1h-1zM25 7h1v1h-1zM11 8h1v1h-1zM21 8h1v1h-1zM27 8h1v1h-1zM14 9h1v1h-1zM17 10h1v1h-1zM31 10h1v1h-1zM36 10h1v1h-1zM8 11h1v1h-1zM34 12h1v1h-1zM0 13h1v1h-1zM39 13h1v1h-1zM9 14h1v1h-1zM31 16h1v1h-1zM33 16h1v1h-1zM7 17h1v1h-1zM10 17h1v1h-1zM26 17h1v1h-1zM38 18h1v1h-1zM22 19h1v1h-1zM23 19h1v1h-1zM36 19h1v1h-1zM8 21h1v1h-1zM25 21h1v1h-1zM39 21h1v1h-1zM19 22h1v1h-1zM19 23h1v1h-1zM31 24h1v1h-1zM7 25h1v1h-1zM21 25h1v1h-1zM17 26h1v1h-1zM29 26h1v1h-1zM32 26h1v1h-1zM39 26h1v1h-1zM0 27h1v1h-1zM8 27h1v1h-1zM33 28h1v1h-1zM35 28h1v1h-1zM26 29h1v1h-1zM10 31h1v1h-1zM16 31h1v1h-1zM24 31h1v1h-1zM37 31h1v1h-1zM5 32h1v1h-1zM26 32h1v1h-1zM4 33h1v1h-1zM16 33h1v1h-1zM28 33h1v1h-1zM34 33h1v1h-1zM12 34h1v1h-1zM33 34h1v1h-1zM36 34h1v1h-1zM28 35h1v1h-1zM10 36h1v1h-1zM19 36h1v1h-1zM34 36h1v1h-1zM0 37h1v1h-1zM31 37h1v1h-1zM18 38h1v1h-1zM13 39h1v1h-1zM21 39h1v1h-1zM26 39h1v1h-1z"/>
<path fill="#57cc7a" d="M28 1h1v1h-1zM33 1h1v1h-1zM13 2h1v1h-1zM32 2h1v1h-1zM21 3h1v1h-1zM21 4h1v1h-1zM15 5h1v1h-1zM34 5h1v1h-1zM8 7h1v1h-1zM7 8h1v1h-1zM35 8h1v1h-1zM32 9h1v1h-1zM23 10h1v1h-1zM26 10h1v1h-1zM24 12h1v1h-1zM37 12h1v1h-1zM39 12h1v1h-1zM2 13h1v1h-1zM21 13h1v1h-1zM19 14h1v1h-1zM22 14h1v1h-1zM32 14h1v1h-1zM5 15h1v1h-1zM16 15h1v1h-1zM27 15h1v1h-1zM15 16h1v1h-1zM20 18h1v1h-1zM14 19h1v1h-1zM18 20h1v1h-1zM36 20h1v1h-1zM37 20h1v1h-1zM3 21h1v1h-1zM4 21h1v1h-1zM13 21h1v1h-1zM24 21h1v1h-1zM14 22h1v1h-1zM25 22h1v1h-1zM10 23h1v1h-1zM12 24h1v1h-1zM21 24h1v1h-1zM25 24h1v1h-1zM27 24h1v1h-1zM37 24h1v1h-1zM22 25h1v1h-1zM24 25h1v1h-1zM10 26h1v1h-1zM15 27h1v1h-1zM24 27h1v1h-1zM1 28h1v1h-1zM29 28h1v1h-1zM30 28h1v1h-1zM28 29h1v1h-1zM28 30h1v1h-1zM2 32h1v1h-1zM9 32h1v1h-1zM14 32h1v1h-1zM1 33h1v1h-1zM5 34h1v1h-1zM8 35h1v1h-1zM20 36h1v1h-1zM39 36h1v1h-1zM12 37h1v1h-1zM20 37h1v1h-1zM24 37h1v1h-1zM12 39h1v1h-1zM36 39h1v1h-1z"/>
<path fill="#64cd6f" d="M5 0h1v1h-1zM6 0h1v1h-1zM12 0h1v1h-1zM35 1h1v1h-1zM5 2h1v1h-1zM16 2h1v1h-1zM17 2h1v1h-1zM27 2h1v1h-1zM5 3h1v1h-1zM22 3h1v1h-1zM20 4h1v1h-1zM25 4h1v1h-1zM0 5h1v1h-1zM2 5h1v1h-1zM3 5h1v1h-1zM0 6h1v1h-1zM7 6h1v1h-1zM39 6h1v1h-1zM6 7h1v1h-1zM26 7h1v1h-1zM39 7h1v1h-1zM33 8h1v1h-1zM34 8h1v1h-1zM33 9h1v1h-1zM35 9h1v1h-1zM38 9h1v1h-1zM14 10h1v1h-1zM22 10h1v1h-1zM33 10h1v1h-1zM34 10h1v1h-1zM14 11h1v1h-1zM0 12h1v1h-1zM30 12h1v1h-1zM15 13h1v1h-1zM10 14h1v1h-1zM11 14h1v1h-1zM13 15h1v1h-1zM2 16h1v1h-1zM18 16h1v1h-1zM28 16h1v1h-1zM2 17h1v1h-1zM24 17h1v1h-1zM31 17h1v1h-1zM16 18h1v1h-1zM24 19h1v1h-1zM4 20h1v1h-1zM31 20h1v1h-1zM27 21h1v1h-1zM32 21h1v1h-1zM3 22h1v1h-1zM10 22h1v1h-1zM38 22h1v1h-1zM24 23h1v1h-1zM37 23h1v1h-1zM17 24h1v1h-1zM19 24h1v1h-1zM23 24h1v1h-1zM4 25h1v1h-1zM7 26h1v1h-1zM2 27h1v1h-1zM21 27h1v1h-1zM39 27h1v1h-1zM16 28h1v1h-1zM33 29h1v1h-1zM12 30h1v1h-1zM17 31h1v1h-1zM20 31h1v1h-1zM34 31h1v1h-1zM38 31h1v1h-1zM21 32h1v1h-1zM8 33h1v1h-1zM9 33h1v1h-1zM10 33h1v1h-1zM29 33h1v1h-1zM8 34h1v1h-1zM10 34h1v1h-1zM31 34h1v1h-1zM1 35h1v1h-1zM9 35h1v1h-1zM23 37h1v1h-1zM9 38h1v1h-1zM22 38h1v1h-1zM31 38h1v1h-1zM6 39h1v1h-1zM7 39h1v1h-1zM27 39h1v1h-1z"/>
<path fill="#72cd64" d="M8 0h1v1h-1zM33 0h1v1h-1zM35 0h1v1h-1zM3 1h1v1h-1zM10 2h1v1h-1zM12 2h1v1h-1zM1 3h1v1h-1zM20 3h1v1h-1zM37 3h1v1h-1zM5 4h1v1h-1zM14 4h1v1h-1zM15 4h1v1h-1zM19 4h1v1h-1zM27 4h1v1h-1zM37 4h1v1h-1zM4 5h1v1h-1zM27 7h1v1h-1zM0 8h1v1h-1zM30 8h1v1h-1zM12 9h1v1h-1zM27 9h1v1h-1zM2 10h1v1h-1zM15 10h1v1h-1zM2 12h1v1h-1zM9 12h1v1h-1zM33 13h1v1h-1zM4 14h1v1h-1zM17 14h1v1h-1zM21 14h1v1h-1zM4 15h1v1h-1zM10 15h1v1h-1zM22 15h1v1h-1zM25 16h1v1h-1zM14 17h1v1h-1zM27 17h1v1h-1zM37 17h1v1h-1zM32 18h1v1h-1zM4 19h1v1h-1zM20 19h1v1h-1zM30 19h1v1h-1zM3 20h1v1h-1zM19 20h1v1h-1zM22 20h1v1h-1zM14 21h1v1h-1zM15 22h1v1h-1zM20 22h1v1h-1zM16 25h1v1h-1zM36 26h1v1h-1zM4 27h1v1h-1zM7 27h1v1h-1zM9 27h1v1h-1zM17 27h1v1h-1zM8 30h1v1h-1zM19 30h1v1h-1zM18 32h1v1h-1zM0 33h1v1h-1zM13 33h1v1h-1zM0 35h1v1h-1zM37 35h1v1h-1zM38 35h1v1h-1zM26 36h1v1h-1zM3 37h1v1h-1zM4 37h1v1h-1zM17 37h1v1h-1zM35 37h1v1h-1zM35 38h1v1h-1z"/>
<path fill="#81cc59" d="M38 4h1v1h-1zM38 7h1v1h-1zM14 8h1v1h-1zM11 9h1v1h-1zM9 11h1v1h-1zM20 13h1v1h-1zM23 13h1v1h-1zM8 14h1v1h-1zM13 20h1v1h-1zM21 20h1v1h-1zM20 21h1v1h-1zM13 23h1v1h-1zM36 28h1v1h-1zM28 36h1v1h-1zM4 38h1v1h-1zM7 38h1v1h-1z"/>
<path fill="#f9fb15" d="M0 0h1v1h-1zM1 1h1v1h-1zM2 2h1v1h-1zM3 3h1v1h-1zM4 4h1v1h-1zM5 5h1v1h-1zM6 6h1v1h-1zM7 7h1v1h-1zM8 8h1v1h-1zM9 9h1v1h-1zM10 10h1v1h-1zM11 11h1v1h-1zM12 12h1v1h-1zM13 13h1v1h-1zM14 14h1v1h-1zM15 15h1v1h-1zM16 16h1v1h-1zM17 17h1v1h-1zM18 18h1v1h-1zM19 19h1v1h-1zM20 20h1v1h-1zM21 21h1v1h-1zM22 22h1v1h-1zM23 23h1v1h-1zM24 24h1v1h-1zM25 25h1v1h-1zM26 26h1v1h-1zM27 27h1v1h-1zM28 28h1v1h-1zM29 29h1v1h-1zM30 30h1v1h-1zM31 31h1v1h-1zM32 32h1v1h-1zM33 33h1v1h-1zM34 34h1v1h-1zM35 35h1v1h-1zM36 36h1v1h-1zM37 37h1v1h-1zM38 38h1v1h-1zM39 39h1v1h-1z"/>
</g>
<rect x="215.20" y="130.8" width="139.2" height="110.3" fill="none" stroke="#262626" stroke-width="0.5" stroke-opacity="0.7"/>
<text x="216.94" y="249.8" font-size="6.5" text-anchor="middle" fill="#3a3a3a">1</text>
<text x="213.50" y="134.93" font-size="6.5" text-anchor="end" fill="#3a3a3a">1</text>
<line x1="216.94" y1="241.10" x2="216.94" y2="239.70" stroke="#262626" stroke-width="0.5"/>
<line x1="215.20" y1="132.18" x2="216.60" y2="132.18" stroke="#262626" stroke-width="0.5"/>
<line x1="216.94" y1="130.80" x2="216.94" y2="132.20" stroke="#262626" stroke-width="0.5"/>
<line x1="354.40" y1="132.18" x2="353.00" y2="132.18" stroke="#262626" stroke-width="0.5"/>
<text x="248.26" y="249.8" font-size="6.5" text-anchor="middle" fill="#3a3a3a">10</text>
<text x="213.50" y="159.75" font-size="6.5" text-anchor="end" fill="#3a3a3a">10</text>
<line x1="248.26" y1="241.10" x2="248.26" y2="239.70" stroke="#262626" stroke-width="0.5"/>
<line x1="215.20" y1="157.00" x2="216.60" y2="157.00" stroke="#262626" stroke-width="0.5"/>
<line x1="248.26" y1="130.80" x2="248.26" y2="132.20" stroke="#262626" stroke-width="0.5"/>
<line x1="354.40" y1="157.00" x2="353.00" y2="157.00" stroke="#262626" stroke-width="0.5"/>
<text x="283.06" y="249.8" font-size="6.5" text-anchor="middle" fill="#3a3a3a">20</text>
<text x="213.50" y="187.32" font-size="6.5" text-anchor="end" fill="#3a3a3a">20</text>
<line x1="283.06" y1="241.10" x2="283.06" y2="239.70" stroke="#262626" stroke-width="0.5"/>
<line x1="215.20" y1="184.57" x2="216.60" y2="184.57" stroke="#262626" stroke-width="0.5"/>
<line x1="283.06" y1="130.80" x2="283.06" y2="132.20" stroke="#262626" stroke-width="0.5"/>
<line x1="354.40" y1="184.57" x2="353.00" y2="184.57" stroke="#262626" stroke-width="0.5"/>
<text x="317.86" y="249.8" font-size="6.5" text-anchor="middle" fill="#3a3a3a">30</text>
<text x="213.50" y="214.90" font-size="6.5" text-anchor="end" fill="#3a3a3a">30</text>
<line x1="317.86" y1="241.10" x2="317.86" y2="239.70" stroke="#262626" stroke-width="0.5"/>
<line x1="215.20" y1="212.15" x2="216.60" y2="212.15" stroke="#262626" stroke-width="0.5"/>
<line x1="317.86" y1="130.80" x2="317.86" y2="132.20" stroke="#262626" stroke-width="0.5"/>
<line x1="354.40" y1="212.15" x2="353.00" y2="212.15" stroke="#262626" stroke-width="0.5"/>
<text x="352.66" y="249.8" font-size="6.5" text-anchor="middle" fill="#3a3a3a">40</text>
<text x="213.50" y="242.47" font-size="6.5" text-anchor="end" fill="#3a3a3a">40</text>
<line x1="352.66" y1="241.10" x2="352.66" y2="239.70" stroke="#262626" stroke-width="0.5"/>
<line x1="215.20" y1="239.72" x2="216.60" y2="239.72" stroke="#262626" stroke-width="0.5"/>
<line x1="352.66" y1="130.80" x2="352.66" y2="132.20" stroke="#262626" stroke-width="0.5"/>
<line x1="354.40" y1="239.72" x2="353.00" y2="239.72" stroke="#262626" stroke-width="0.5"/>
<rect x="358.80" y="131.1" width="5.6" height="109.2" fill="url(#pg)" stroke="#262626" stroke-width="0.3" stroke-opacity="0.6"/>
<text x="365.80" y="133.90" font-size="6.5" fill="#3a3a3a">1</text>
<text x="365.80" y="161.20" font-size="6.5" fill="#3a3a3a">0.5</text>
<text x="365.80" y="188.50" font-size="6.5" fill="#3a3a3a">0</text>
<text x="365.80" y="215.80" font-size="6.5" fill="#3a3a3a">-0.5</text>
<text x="365.80" y="243.10" font-size="6.5" fill="#3a3a3a">-1</text>
<text x="284.80" y="120.9" font-size="6.5" text-anchor="middle" fill="#1e1e1e">Cross-correlation coefficient matrix</text>
<text x="284.80" y="129.8" font-size="6.5" text-anchor="middle" fill="#1e1e1e">(NBRS-8)</text>
<text x="284.80" y="258.0" font-size="6.5" text-anchor="middle" fill="#3a3a3a">Sequence No.</text>
<text transform="translate(204.00,185.7) rotate(-90)" font-size="6.5" text-anchor="middle" fill="#3a3a3a">Sequence No.</text>
<text x="287.5" y="274.3" font-family="Liberation Serif" font-size="15" text-anchor="middle" fill="#000" stroke="#000" stroke-width="0.45">(e)</text>
<g transform="translate(407.10,130.80) scale(3.4800,2.7575)">
<rect width="40" height="40" fill="#0bbdbd"/>
<path fill="#4269fe" d="M7 6h1v1h-1zM6 7h1v1h-1zM9 8h1v1h-1zM8 9h1v1h-1z"/>
<path fill="#3e6fff" d="M1 0h1v1h-1zM0 1h1v1h-1zM2 1h1v1h-1zM1 2h1v1h-1zM3 2h1v1h-1zM2 3h1v1h-1zM4 3h1v1h-1zM3 4h1v1h-1zM5 4h1v1h-1zM4 5h1v1h-1zM6 5h1v1h-1zM5 6h1v1h-1zM8 7h1v1h-1zM7 8h1v1h-1zM10 9h1v1h-1zM9 10h1v1h-1zM11 10h1v1h-1zM10 11h1v1h-1zM12 11h1v1h-1zM11 12h1v1h-1zM13 12h1v1h-1zM12 13h1v1h-1zM14 13h1v1h-1zM13 14h1v1h-1zM15 14h1v1h-1zM14 15h1v1h-1zM16 15h1v1h-1zM15 16h1v1h-1zM17 16h1v1h-1zM16 17h1v1h-1zM18 17h1v1h-1zM17 18h1v1h-1zM19 18h1v1h-1zM18 19h1v1h-1zM20 19h1v1h-1zM19 20h1v1h-1zM21 20h1v1h-1zM20 21h1v1h-1zM22 21h1v1h-1zM21 22h1v1h-1zM23 22h1v1h-1zM22 23h1v1h-1zM24 23h1v1h-1zM23 24h1v1h-1zM25 24h1v1h-1zM24 25h1v1h-1zM26 25h1v1h-1zM25 26h1v1h-1zM27 26h1v1h-1zM26 27h1v1h-1zM28 27h1v1h-1zM27 28h1v1h-1zM29 28h1v1h-1zM28 29h1v1h-1zM30 29h1v1h-1zM29 30h1v1h-1zM31 30h1v1h-1zM30 31h1v1h-1zM32 31h1v1h-1zM31 32h1v1h-1zM33 32h1v1h-1zM32 33h1v1h-1zM34 33h1v1h-1zM33 34h1v1h-1zM35 34h1v1h-1zM34 35h1v1h-1zM36 35h1v1h-1zM35 36h1v1h-1zM37 36h1v1h-1zM36 37h1v1h-1zM38 37h1v1h-1zM37 38h1v1h-1zM39 38h1v1h-1zM38 39h1v1h-1z"/>
<path fill="#20a5e3" d="M2 0h1v1h-1zM3 1h1v1h-1zM0 2h1v1h-1zM4 2h1v1h-1zM1 3h1v1h-1zM5 3h1v1h-1zM2 4h1v1h-1zM6 4h1v1h-1zM3 5h1v1h-1zM7 5h1v1h-1zM4 6h1v1h-1zM5 7h1v1h-1zM9 7h1v1h-1zM7 9h1v1h-1zM11 9h1v1h-1zM12 10h1v1h-1zM9 11h1v1h-1zM13 11h1v1h-1zM10 12h1v1h-1zM14 12h1v1h-1zM11 13h1v1h-1zM15 13h1v1h-1zM12 14h1v1h-1zM16 14h1v1h-1zM13 15h1v1h-1zM17 15h1v1h-1zM14 16h1v1h-1zM15 17h1v1h-1zM19 17h1v1h-1zM17 19h1v1h-1zM21 19h1v1h-1zM22 20h1v1h-1zM19 21h1v1h-1zM23 21h1v1h-1zM20 22h1v1h-1zM24 22h1v1h-1zM21 23h1v1h-1zM25 23h1v1h-1zM22 24h1v1h-1zM26 24h1v1h-1zM23 25h1v1h-1zM27 25h1v1h-1zM24 26h1v1h-1zM25 27h1v1h-1zM29 27h1v1h-1zM27 29h1v1h-1zM31 29h1v1h-1zM32 30h1v1h-1zM29 31h1v1h-1zM33 31h1v1h-1zM30 32h1v1h-1zM34 32h1v1h-1zM31 33h1v1h-1zM35 33h1v1h-1zM32 34h1v1h-1zM36 34h1v1h-1zM33 35h1v1h-1zM37 35h1v1h-1zM34 36h1v1h-1zM35 37h1v1h-1zM39 37h1v1h-1zM37 39h1v1h-1z"/>
<path fill="#1ca9df" d="M4 0h1v1h-1zM5 1h1v1h-1zM6 2h1v1h-1zM7 3h1v1h-1zM0 4h1v1h-1zM8 4h1v1h-1zM1 5h1v1h-1zM2 6h1v1h-1zM8 6h1v1h-1zM10 6h1v1h-1zM3 7h1v1h-1zM4 8h1v1h-1zM6 8h1v1h-1zM10 8h1v1h-1zM12 8h1v1h-1zM13 9h1v1h-1zM6 10h1v1h-1zM8 10h1v1h-1zM14 10h1v1h-1zM15 11h1v1h-1zM8 12h1v1h-1zM16 12h1v1h-1zM9 13h1v1h-1zM17 13h1v1h-1zM10 14h1v1h-1zM18 14h1v1h-1zM11 15h1v1h-1zM12 16h1v1h-1zM18 16h1v1h-1zM20 16h1v1h-1zM13 17h1v1h-1zM14 18h1v1h-1zM16 18h1v1h-1zM20 18h1v1h-1zM22 18h1v1h-1zM23 19h1v1h-1zM16 20h1v1h-1zM18 20h1v1h-1zM24 20h1v1h-1zM25 21h1v1h-1zM18 22h1v1h-1zM26 22h1v1h-1zM19 23h1v1h-1zM27 23h1v1h-1zM20 24h1v1h-1zM28 24h1v1h-1zM21 25h1v1h-1zM22 26h1v1h-1zM28 26h1v1h-1zM30 26h1v1h-1zM23 27h1v1h-1zM24 28h1v1h-1zM26 28h1v1h-1zM30 28h1v1h-1zM32 28h1v1h-1zM33 29h1v1h-1zM26 30h1v1h-1zM28 30h1v1h-1zM34 30h1v1h-1zM35 31h1v1h-1zM28 32h1v1h-1zM36 32h1v1h-1zM29 33h1v1h-1zM37 33h1v1h-1zM30 34h1v1h-1zM38 34h1v1h-1zM31 35h1v1h-1zM32 36h1v1h-1zM38 36h1v1h-1zM33 37h1v1h-1zM34 38h1v1h-1zM36 38h1v1h-1z"/>
<path fill="#18addb" d="M9 5h1v1h-1zM11 7h1v1h-1zM5 9h1v1h-1zM7 11h1v1h-1zM19 15h1v1h-1zM21 17h1v1h-1zM15 19h1v1h-1zM17 21h1v1h-1zM29 25h1v1h-1zM31 27h1v1h-1zM25 29h1v1h-1zM27 31h1v1h-1zM39 35h1v1h-1zM35 39h1v1h-1z"/>
<path fill="#12b1d6" d="M7 1h1v1h-1zM1 7h1v1h-1zM15 9h1v1h-1zM17 11h1v1h-1zM9 15h1v1h-1zM11 17h1v1h-1zM25 19h1v1h-1zM27 21h1v1h-1zM19 25h1v1h-1zM21 27h1v1h-1zM35 29h1v1h-1zM37 31h1v1h-1zM29 35h1v1h-1zM31 37h1v1h-1z"/>
<path fill="#08b5d0" d="M6 0h1v1h-1zM13 0h1v1h-1zM17 0h1v1h-1zM14 1h1v1h-1zM8 2h1v1h-1zM15 2h1v1h-1zM9 3h1v1h-1zM16 3h1v1h-1zM10 4h1v1h-1zM17 4h1v1h-1zM11 5h1v1h-1zM18 5h1v1h-1zM0 6h1v1h-1zM12 6h1v1h-1zM19 6h1v1h-1zM13 7h1v1h-1zM20 7h1v1h-1zM2 8h1v1h-1zM14 8h1v1h-1zM21 8h1v1h-1zM25 8h1v1h-1zM3 9h1v1h-1zM22 9h1v1h-1zM4 10h1v1h-1zM16 10h1v1h-1zM23 10h1v1h-1zM27 10h1v1h-1zM5 11h1v1h-1zM24 11h1v1h-1zM6 12h1v1h-1zM18 12h1v1h-1zM25 12h1v1h-1zM0 13h1v1h-1zM7 13h1v1h-1zM19 13h1v1h-1zM26 13h1v1h-1zM1 14h1v1h-1zM8 14h1v1h-1zM20 14h1v1h-1zM27 14h1v1h-1zM2 15h1v1h-1zM21 15h1v1h-1zM28 15h1v1h-1zM3 16h1v1h-1zM10 16h1v1h-1zM22 16h1v1h-1zM29 16h1v1h-1zM0 17h1v1h-1zM4 17h1v1h-1zM23 17h1v1h-1zM30 17h1v1h-1zM5 18h1v1h-1zM12 18h1v1h-1zM24 18h1v1h-1zM31 18h1v1h-1zM6 19h1v1h-1zM13 19h1v1h-1zM32 19h1v1h-1zM7 20h1v1h-1zM14 20h1v1h-1zM26 20h1v1h-1zM33 20h1v1h-1zM8 21h1v1h-1zM15 21h1v1h-1zM34 21h1v1h-1zM9 22h1v1h-1zM16 22h1v1h-1zM28 22h1v1h-1zM35 22h1v1h-1zM10 23h1v1h-1zM17 23h1v1h-1zM29 23h1v1h-1zM36 23h1v1h-1zM11 24h1v1h-1zM18 24h1v1h-1zM30 24h1v1h-1zM37 24h1v1h-1zM8 25h1v1h-1zM12 25h1v1h-1zM31 25h1v1h-1zM38 25h1v1h-1zM13 26h1v1h-1zM20 26h1v1h-1zM32 26h1v1h-1zM39 26h1v1h-1zM10 27h1v1h-1zM14 27h1v1h-1zM33 27h1v1h-1zM15 28h1v1h-1zM22 28h1v1h-1zM34 28h1v1h-1zM16 29h1v1h-1zM23 29h1v1h-1zM17 30h1v1h-1zM24 30h1v1h-1zM36 30h1v1h-1zM18 31h1v1h-1zM25 31h1v1h-1zM19 32h1v1h-1zM26 32h1v1h-1zM38 32h1v1h-1zM20 33h1v1h-1zM27 33h1v1h-1zM39 33h1v1h-1zM21 34h1v1h-1zM28 34h1v1h-1zM22 35h1v1h-1zM23 36h1v1h-1zM30 36h1v1h-1zM24 37h1v1h-1zM25 38h1v1h-1zM32 38h1v1h-1zM26 39h1v1h-1zM33 39h1v1h-1z"/>
<path fill="#01b8ca" d="M8 0h1v1h-1zM9 0h1v1h-1zM18 1h1v1h-1zM10 2h1v1h-1zM11 2h1v1h-1zM19 2h1v1h-1zM12 3h1v1h-1zM20 3h1v1h-1zM12 4h1v1h-1zM13 4h1v1h-1zM21 4h1v1h-1zM22 5h1v1h-1zM14 6h1v1h-1zM15 6h1v1h-1zM23 6h1v1h-1zM15 7h1v1h-1zM24 7h1v1h-1zM0 8h1v1h-1zM16 8h1v1h-1zM0 9h1v1h-1zM17 9h1v1h-1zM26 9h1v1h-1zM2 10h1v1h-1zM18 10h1v1h-1zM2 11h1v1h-1zM28 11h1v1h-1zM3 12h1v1h-1zM4 12h1v1h-1zM20 12h1v1h-1zM21 12h1v1h-1zM29 12h1v1h-1zM4 13h1v1h-1zM22 13h1v1h-1zM30 13h1v1h-1zM6 14h1v1h-1zM22 14h1v1h-1zM23 14h1v1h-1zM31 14h1v1h-1zM6 15h1v1h-1zM7 15h1v1h-1zM32 15h1v1h-1zM8 16h1v1h-1zM24 16h1v1h-1zM33 16h1v1h-1zM9 17h1v1h-1zM25 17h1v1h-1zM34 17h1v1h-1zM1 18h1v1h-1zM10 18h1v1h-1zM26 18h1v1h-1zM35 18h1v1h-1zM2 19h1v1h-1zM27 19h1v1h-1zM36 19h1v1h-1zM3 20h1v1h-1zM12 20h1v1h-1zM28 20h1v1h-1zM37 20h1v1h-1zM4 21h1v1h-1zM12 21h1v1h-1zM38 21h1v1h-1zM5 22h1v1h-1zM13 22h1v1h-1zM14 22h1v1h-1zM30 22h1v1h-1zM31 22h1v1h-1zM39 22h1v1h-1zM6 23h1v1h-1zM14 23h1v1h-1zM32 23h1v1h-1zM7 24h1v1h-1zM16 24h1v1h-1zM32 24h1v1h-1zM33 24h1v1h-1zM17 25h1v1h-1zM9 26h1v1h-1zM18 26h1v1h-1zM34 26h1v1h-1zM19 27h1v1h-1zM35 27h1v1h-1zM11 28h1v1h-1zM20 28h1v1h-1zM36 28h1v1h-1zM12 29h1v1h-1zM37 29h1v1h-1zM13 30h1v1h-1zM22 30h1v1h-1zM38 30h1v1h-1zM14 31h1v1h-1zM22 31h1v1h-1zM15 32h1v1h-1zM23 32h1v1h-1zM24 32h1v1h-1zM16 33h1v1h-1zM24 33h1v1h-1zM17 34h1v1h-1zM26 34h1v1h-1zM18 35h1v1h-1zM27 35h1v1h-1zM19 36h1v1h-1zM28 36h1v1h-1zM20 37h1v1h-1zM29 37h1v1h-1zM21 38h1v1h-1zM30 38h1v1h-1zM22 39h1v1h-1z"/>
<path fill="#02bac3" d="M24 0h1v1h-1zM28 0h1v1h-1zM33 0h1v1h-1zM37 0h1v1h-1zM9 1h1v1h-1zM10 1h1v1h-1zM25 1h1v1h-1zM27 1h1v1h-1zM34 1h1v1h-1zM38 1h1v1h-1zM26 2h1v1h-1zM35 2h1v1h-1zM39 2h1v1h-1zM11 3h1v1h-1zM27 3h1v1h-1zM36 3h1v1h-1zM28 4h1v1h-1zM37 4h1v1h-1zM13 5h1v1h-1zM14 5h1v1h-1zM38 5h1v1h-1zM27 6h1v1h-1zM30 6h1v1h-1zM39 6h1v1h-1zM16 7h1v1h-1zM17 8h1v1h-1zM29 8h1v1h-1zM32 8h1v1h-1zM36 8h1v1h-1zM1 9h1v1h-1zM18 9h1v1h-1zM33 9h1v1h-1zM35 9h1v1h-1zM1 10h1v1h-1zM19 10h1v1h-1zM34 10h1v1h-1zM38 10h1v1h-1zM3 11h1v1h-1zM19 11h1v1h-1zM20 11h1v1h-1zM35 11h1v1h-1zM37 11h1v1h-1zM36 12h1v1h-1zM5 13h1v1h-1zM21 13h1v1h-1zM37 13h1v1h-1zM5 14h1v1h-1zM38 14h1v1h-1zM23 15h1v1h-1zM24 15h1v1h-1zM7 16h1v1h-1zM25 16h1v1h-1zM37 16h1v1h-1zM8 17h1v1h-1zM26 17h1v1h-1zM9 18h1v1h-1zM27 18h1v1h-1zM39 18h1v1h-1zM10 19h1v1h-1zM11 19h1v1h-1zM28 19h1v1h-1zM11 20h1v1h-1zM29 20h1v1h-1zM13 21h1v1h-1zM29 21h1v1h-1zM30 21h1v1h-1zM15 23h1v1h-1zM31 23h1v1h-1zM0 24h1v1h-1zM15 24h1v1h-1zM1 25h1v1h-1zM16 25h1v1h-1zM33 25h1v1h-1zM34 25h1v1h-1zM2 26h1v1h-1zM17 26h1v1h-1zM35 26h1v1h-1zM1 27h1v1h-1zM3 27h1v1h-1zM6 27h1v1h-1zM18 27h1v1h-1zM36 27h1v1h-1zM0 28h1v1h-1zM4 28h1v1h-1zM19 28h1v1h-1zM37 28h1v1h-1zM8 29h1v1h-1zM20 29h1v1h-1zM21 29h1v1h-1zM38 29h1v1h-1zM6 30h1v1h-1zM21 30h1v1h-1zM39 30h1v1h-1zM23 31h1v1h-1zM39 31h1v1h-1zM8 32h1v1h-1zM0 33h1v1h-1zM9 33h1v1h-1zM25 33h1v1h-1zM1 34h1v1h-1zM10 34h1v1h-1zM25 34h1v1h-1zM2 35h1v1h-1zM9 35h1v1h-1zM11 35h1v1h-1zM26 35h1v1h-1zM3 36h1v1h-1zM8 36h1v1h-1zM12 36h1v1h-1zM27 36h1v1h-1zM0 37h1v1h-1zM4 37h1v1h-1zM11 37h1v1h-1zM13 37h1v1h-1zM16 37h1v1h-1zM28 37h1v1h-1zM1 38h1v1h-1zM5 38h1v1h-1zM10 38h1v1h-1zM14 38h1v1h-1zM29 38h1v1h-1zM2 39h1v1h-1zM6 39h1v1h-1zM18 39h1v1h-1zM30 39h1v1h-1zM31 39h1v1h-1z"/>
<path fill="#0bbdbd" d="M15 0h1v1h-1zM20 0h1v1h-1zM21 0h1v1h-1zM22 0h1v1h-1zM26 0h1v1h-1zM29 0h1v1h-1zM35 0h1v1h-1zM16 1h1v1h-1zM21 1h1v1h-1zM22 1h1v1h-1zM23 1h1v1h-1zM29 1h1v1h-1zM30 1h1v1h-1zM36 1h1v1h-1zM7 2h1v1h-1zM22 2h1v1h-1zM23 2h1v1h-1zM24 2h1v1h-1zM27 2h1v1h-1zM28 2h1v1h-1zM30 2h1v1h-1zM31 2h1v1h-1zM37 2h1v1h-1zM18 3h1v1h-1zM23 3h1v1h-1zM24 3h1v1h-1zM25 3h1v1h-1zM29 3h1v1h-1zM31 3h1v1h-1zM32 3h1v1h-1zM38 3h1v1h-1zM9 4h1v1h-1zM24 4h1v1h-1zM25 4h1v1h-1zM26 4h1v1h-1zM29 4h1v1h-1zM30 4h1v1h-1zM32 4h1v1h-1zM33 4h1v1h-1zM10 5h1v1h-1zM25 5h1v1h-1zM26 5h1v1h-1zM27 5h1v1h-1zM29 5h1v1h-1zM30 5h1v1h-1zM31 5h1v1h-1zM33 5h1v1h-1zM34 5h1v1h-1zM11 6h1v1h-1zM26 6h1v1h-1zM28 6h1v1h-1zM31 6h1v1h-1zM32 6h1v1h-1zM34 6h1v1h-1zM35 6h1v1h-1zM38 6h1v1h-1zM2 7h1v1h-1zM17 7h1v1h-1zM22 7h1v1h-1zM28 7h1v1h-1zM29 7h1v1h-1zM31 7h1v1h-1zM33 7h1v1h-1zM35 7h1v1h-1zM36 7h1v1h-1zM37 7h1v1h-1zM13 8h1v1h-1zM28 8h1v1h-1zM30 8h1v1h-1zM33 8h1v1h-1zM34 8h1v1h-1zM37 8h1v1h-1zM4 9h1v1h-1zM19 9h1v1h-1zM24 9h1v1h-1zM30 9h1v1h-1zM31 9h1v1h-1zM37 9h1v1h-1zM38 9h1v1h-1zM39 9h1v1h-1zM5 10h1v1h-1zM25 10h1v1h-1zM30 10h1v1h-1zM31 10h1v1h-1zM32 10h1v1h-1zM36 10h1v1h-1zM39 10h1v1h-1zM6 11h1v1h-1zM26 11h1v1h-1zM31 11h1v1h-1zM32 11h1v1h-1zM33 11h1v1h-1zM39 11h1v1h-1zM17 12h1v1h-1zM27 12h1v1h-1zM32 12h1v1h-1zM33 12h1v1h-1zM34 12h1v1h-1zM38 12h1v1h-1zM8 13h1v1h-1zM28 13h1v1h-1zM33 13h1v1h-1zM34 13h1v1h-1zM35 13h1v1h-1zM39 13h1v1h-1zM19 14h1v1h-1zM34 14h1v1h-1zM35 14h1v1h-1zM36 14h1v1h-1zM39 14h1v1h-1zM0 15h1v1h-1zM20 15h1v1h-1zM35 15h1v1h-1zM36 15h1v1h-1zM37 15h1v1h-1zM39 15h1v1h-1zM1 16h1v1h-1zM21 16h1v1h-1zM36 16h1v1h-1zM38 16h1v1h-1zM7 17h1v1h-1zM12 17h1v1h-1zM27 17h1v1h-1zM32 17h1v1h-1zM38 17h1v1h-1zM39 17h1v1h-1zM3 18h1v1h-1zM23 18h1v1h-1zM38 18h1v1h-1zM9 19h1v1h-1zM14 19h1v1h-1zM29 19h1v1h-1zM34 19h1v1h-1zM0 20h1v1h-1zM15 20h1v1h-1zM35 20h1v1h-1zM0 21h1v1h-1zM1 21h1v1h-1zM16 21h1v1h-1zM36 21h1v1h-1zM0 22h1v1h-1zM1 22h1v1h-1zM2 22h1v1h-1zM7 22h1v1h-1zM37 22h1v1h-1zM1 23h1v1h-1zM2 23h1v1h-1zM3 23h1v1h-1zM18 23h1v1h-1zM38 23h1v1h-1zM2 24h1v1h-1zM3 24h1v1h-1zM4 24h1v1h-1zM9 24h1v1h-1zM29 24h1v1h-1zM3 25h1v1h-1zM4 25h1v1h-1zM5 25h1v1h-1zM10 25h1v1h-1zM30 25h1v1h-1zM0 26h1v1h-1zM4 26h1v1h-1zM5 26h1v1h-1zM6 26h1v1h-1zM11 26h1v1h-1zM31 26h1v1h-1zM2 27h1v1h-1zM5 27h1v1h-1zM12 27h1v1h-1zM17 27h1v1h-1zM32 27h1v1h-1zM37 27h1v1h-1zM2 28h1v1h-1zM6 28h1v1h-1zM7 28h1v1h-1zM8 28h1v1h-1zM13 28h1v1h-1zM33 28h1v1h-1zM0 29h1v1h-1zM1 29h1v1h-1zM3 29h1v1h-1zM4 29h1v1h-1zM5 29h1v1h-1zM7 29h1v1h-1zM19 29h1v1h-1zM24 29h1v1h-1zM39 29h1v1h-1zM1 30h1v1h-1zM2 30h1v1h-1zM4 30h1v1h-1zM5 30h1v1h-1zM8 30h1v1h-1zM9 30h1v1h-1zM10 30h1v1h-1zM25 30h1v1h-1zM2 31h1v1h-1zM3 31h1v1h-1zM5 31h1v1h-1zM6 31h1v1h-1zM7 31h1v1h-1zM9 31h1v1h-1zM10 31h1v1h-1zM11 31h1v1h-1zM26 31h1v1h-1zM3 32h1v1h-1zM4 32h1v1h-1zM6 32h1v1h-1zM10 32h1v1h-1zM11 32h1v1h-1zM12 32h1v1h-1zM17 32h1v1h-1zM27 32h1v1h-1zM4 33h1v1h-1zM5 33h1v1h-1zM7 33h1v1h-1zM8 33h1v1h-1zM11 33h1v1h-1zM12 33h1v1h-1zM13 33h1v1h-1zM28 33h1v1h-1zM5 34h1v1h-1zM6 34h1v1h-1zM8 34h1v1h-1zM12 34h1v1h-1zM13 34h1v1h-1zM14 34h1v1h-1zM19 34h1v1h-1zM39 34h1v1h-1zM0 35h1v1h-1zM6 35h1v1h-1zM7 35h1v1h-1zM13 35h1v1h-1zM14 35h1v1h-1zM15 35h1v1h-1zM20 35h1v1h-1zM1 36h1v1h-1zM7 36h1v1h-1zM10 36h1v1h-1zM14 36h1v1h-1zM15 36h1v1h-1zM16 36h1v1h-1zM21 36h1v1h-1zM2 37h1v1h-1zM7 37h1v1h-1zM8 37h1v1h-1zM9 37h1v1h-1zM15 37h1v1h-1zM22 37h1v1h-1zM27 37h1v1h-1zM3 38h1v1h-1zM6 38h1v1h-1zM9 38h1v1h-1zM12 38h1v1h-1zM16 38h1v1h-1zM17 38h1v1h-1zM18 38h1v1h-1zM23 38h1v1h-1zM9 39h1v1h-1zM10 39h1v1h-1zM11 39h1v1h-1zM13 39h1v1h-1zM14 39h1v1h-1zM15 39h1v1h-1zM17 39h1v1h-1zM29 39h1v1h-1zM34 39h1v1h-1z"/>
<path fill="#19bfb6" d="M5 0h1v1h-1zM10 0h1v1h-1zM12 0h1v1h-1zM19 0h1v1h-1zM25 0h1v1h-1zM30 0h1v1h-1zM31 0h1v1h-1zM32 0h1v1h-1zM36 0h1v1h-1zM38 0h1v1h-1zM39 0h1v1h-1zM6 1h1v1h-1zM11 1h1v1h-1zM19 1h1v1h-1zM20 1h1v1h-1zM26 1h1v1h-1zM31 1h1v1h-1zM32 1h1v1h-1zM33 1h1v1h-1zM35 1h1v1h-1zM37 1h1v1h-1zM39 1h1v1h-1zM12 2h1v1h-1zM17 2h1v1h-1zM32 2h1v1h-1zM33 2h1v1h-1zM34 2h1v1h-1zM38 2h1v1h-1zM8 3h1v1h-1zM13 3h1v1h-1zM21 3h1v1h-1zM22 3h1v1h-1zM28 3h1v1h-1zM33 3h1v1h-1zM34 3h1v1h-1zM35 3h1v1h-1zM37 3h1v1h-1zM39 3h1v1h-1zM14 4h1v1h-1zM16 4h1v1h-1zM19 4h1v1h-1zM20 4h1v1h-1zM34 4h1v1h-1zM35 4h1v1h-1zM36 4h1v1h-1zM39 4h1v1h-1zM0 5h1v1h-1zM15 5h1v1h-1zM20 5h1v1h-1zM23 5h1v1h-1zM24 5h1v1h-1zM35 5h1v1h-1zM36 5h1v1h-1zM37 5h1v1h-1zM39 5h1v1h-1zM1 6h1v1h-1zM16 6h1v1h-1zM18 6h1v1h-1zM21 6h1v1h-1zM22 6h1v1h-1zM25 6h1v1h-1zM36 6h1v1h-1zM37 6h1v1h-1zM12 7h1v1h-1zM19 7h1v1h-1zM25 7h1v1h-1zM26 7h1v1h-1zM27 7h1v1h-1zM32 7h1v1h-1zM38 7h1v1h-1zM39 7h1v1h-1zM3 8h1v1h-1zM18 8h1v1h-1zM20 8h1v1h-1zM23 8h1v1h-1zM27 8h1v1h-1zM38 8h1v1h-1zM39 8h1v1h-1zM14 9h1v1h-1zM28 9h1v1h-1zM29 9h1v1h-1zM34 9h1v1h-1zM0 10h1v1h-1zM15 10h1v1h-1zM20 10h1v1h-1zM22 10h1v1h-1zM29 10h1v1h-1zM35 10h1v1h-1zM1 11h1v1h-1zM16 11h1v1h-1zM21 11h1v1h-1zM29 11h1v1h-1zM30 11h1v1h-1zM36 11h1v1h-1zM0 12h1v1h-1zM2 12h1v1h-1zM7 12h1v1h-1zM22 12h1v1h-1zM37 12h1v1h-1zM3 13h1v1h-1zM18 13h1v1h-1zM23 13h1v1h-1zM31 13h1v1h-1zM32 13h1v1h-1zM38 13h1v1h-1zM4 14h1v1h-1zM9 14h1v1h-1zM24 14h1v1h-1zM26 14h1v1h-1zM29 14h1v1h-1zM30 14h1v1h-1zM5 15h1v1h-1zM10 15h1v1h-1zM25 15h1v1h-1zM30 15h1v1h-1zM33 15h1v1h-1zM34 15h1v1h-1zM4 16h1v1h-1zM6 16h1v1h-1zM11 16h1v1h-1zM26 16h1v1h-1zM28 16h1v1h-1zM31 16h1v1h-1zM32 16h1v1h-1zM35 16h1v1h-1zM2 17h1v1h-1zM22 17h1v1h-1zM29 17h1v1h-1zM35 17h1v1h-1zM36 17h1v1h-1zM37 17h1v1h-1zM6 18h1v1h-1zM8 18h1v1h-1zM13 18h1v1h-1zM28 18h1v1h-1zM30 18h1v1h-1zM33 18h1v1h-1zM37 18h1v1h-1zM0 19h1v1h-1zM1 19h1v1h-1zM4 19h1v1h-1zM7 19h1v1h-1zM24 19h1v1h-1zM38 19h1v1h-1zM39 19h1v1h-1zM1 20h1v1h-1zM4 20h1v1h-1zM5 20h1v1h-1zM8 20h1v1h-1zM10 20h1v1h-1zM25 20h1v1h-1zM30 20h1v1h-1zM32 20h1v1h-1zM39 20h1v1h-1zM3 21h1v1h-1zM6 21h1v1h-1zM11 21h1v1h-1zM26 21h1v1h-1zM31 21h1v1h-1zM39 21h1v1h-1zM3 22h1v1h-1zM6 22h1v1h-1zM10 22h1v1h-1zM12 22h1v1h-1zM17 22h1v1h-1zM27 22h1v1h-1zM32 22h1v1h-1zM5 23h1v1h-1zM8 23h1v1h-1zM13 23h1v1h-1zM28 23h1v1h-1zM33 23h1v1h-1zM5 24h1v1h-1zM14 24h1v1h-1zM19 24h1v1h-1zM34 24h1v1h-1zM36 24h1v1h-1zM39 24h1v1h-1zM0 25h1v1h-1zM6 25h1v1h-1zM7 25h1v1h-1zM15 25h1v1h-1zM20 25h1v1h-1zM35 25h1v1h-1zM1 26h1v1h-1zM7 26h1v1h-1zM14 26h1v1h-1zM16 26h1v1h-1zM21 26h1v1h-1zM36 26h1v1h-1zM38 26h1v1h-1zM7 27h1v1h-1zM8 27h1v1h-1zM22 27h1v1h-1zM39 27h1v1h-1zM3 28h1v1h-1zM9 28h1v1h-1zM16 28h1v1h-1zM18 28h1v1h-1zM23 28h1v1h-1zM38 28h1v1h-1zM9 29h1v1h-1zM10 29h1v1h-1zM11 29h1v1h-1zM14 29h1v1h-1zM17 29h1v1h-1zM34 29h1v1h-1zM0 30h1v1h-1zM11 30h1v1h-1zM14 30h1v1h-1zM15 30h1v1h-1zM18 30h1v1h-1zM20 30h1v1h-1zM35 30h1v1h-1zM0 31h1v1h-1zM1 31h1v1h-1zM13 31h1v1h-1zM16 31h1v1h-1zM21 31h1v1h-1zM36 31h1v1h-1zM0 32h1v1h-1zM1 32h1v1h-1zM2 32h1v1h-1zM7 32h1v1h-1zM13 32h1v1h-1zM16 32h1v1h-1zM20 32h1v1h-1zM22 32h1v1h-1zM37 32h1v1h-1zM1 33h1v1h-1zM2 33h1v1h-1zM3 33h1v1h-1zM15 33h1v1h-1zM18 33h1v1h-1zM23 33h1v1h-1zM38 33h1v1h-1zM2 34h1v1h-1zM3 34h1v1h-1zM4 34h1v1h-1zM9 34h1v1h-1zM15 34h1v1h-1zM24 34h1v1h-1zM29 34h1v1h-1zM1 35h1v1h-1zM3 35h1v1h-1zM4 35h1v1h-1zM5 35h1v1h-1zM10 35h1v1h-1zM16 35h1v1h-1zM17 35h1v1h-1zM25 35h1v1h-1zM30 35h1v1h-1zM0 36h1v1h-1zM4 36h1v1h-1zM5 36h1v1h-1zM6 36h1v1h-1zM11 36h1v1h-1zM17 36h1v1h-1zM24 36h1v1h-1zM26 36h1v1h-1zM31 36h1v1h-1zM1 37h1v1h-1zM3 37h1v1h-1zM5 37h1v1h-1zM6 37h1v1h-1zM12 37h1v1h-1zM17 37h1v1h-1zM18 37h1v1h-1zM32 37h1v1h-1zM0 38h1v1h-1zM2 38h1v1h-1zM7 38h1v1h-1zM8 38h1v1h-1zM13 38h1v1h-1zM19 38h1v1h-1zM26 38h1v1h-1zM28 38h1v1h-1zM33 38h1v1h-1zM0 39h1v1h-1zM1 39h1v1h-1zM3 39h1v1h-1zM4 39h1v1h-1zM5 39h1v1h-1zM7 39h1v1h-1zM8 39h1v1h-1zM19 39h1v1h-1zM20 39h1v1h-1zM21 39h1v1h-1zM24 39h1v1h-1zM27 39h1v1h-1z"/>
<path fill="#24c1ae" d="M11 0h1v1h-1zM16 0h1v1h-1zM18 0h1v1h-1zM34 0h1v1h-1zM12 1h1v1h-1zM13 1h1v1h-1zM17 1h1v1h-1zM28 1h1v1h-1zM13 2h1v1h-1zM14 2h1v1h-1zM18 2h1v1h-1zM20 2h1v1h-1zM21 2h1v1h-1zM29 2h1v1h-1zM36 2h1v1h-1zM14 3h1v1h-1zM15 3h1v1h-1zM17 3h1v1h-1zM19 3h1v1h-1zM26 3h1v1h-1zM30 3h1v1h-1zM15 4h1v1h-1zM22 4h1v1h-1zM23 4h1v1h-1zM31 4h1v1h-1zM38 4h1v1h-1zM16 5h1v1h-1zM17 5h1v1h-1zM19 5h1v1h-1zM21 5h1v1h-1zM28 5h1v1h-1zM32 5h1v1h-1zM17 6h1v1h-1zM20 6h1v1h-1zM24 6h1v1h-1zM29 6h1v1h-1zM33 6h1v1h-1zM18 7h1v1h-1zM21 7h1v1h-1zM23 7h1v1h-1zM30 7h1v1h-1zM34 7h1v1h-1zM19 8h1v1h-1zM24 8h1v1h-1zM26 8h1v1h-1zM31 8h1v1h-1zM35 8h1v1h-1zM20 9h1v1h-1zM21 9h1v1h-1zM23 9h1v1h-1zM25 9h1v1h-1zM27 9h1v1h-1zM32 9h1v1h-1zM36 9h1v1h-1zM21 10h1v1h-1zM26 10h1v1h-1zM28 10h1v1h-1zM37 10h1v1h-1zM0 11h1v1h-1zM22 11h1v1h-1zM23 11h1v1h-1zM25 11h1v1h-1zM27 11h1v1h-1zM38 11h1v1h-1zM1 12h1v1h-1zM23 12h1v1h-1zM24 12h1v1h-1zM28 12h1v1h-1zM30 12h1v1h-1zM31 12h1v1h-1zM39 12h1v1h-1zM1 13h1v1h-1zM2 13h1v1h-1zM24 13h1v1h-1zM25 13h1v1h-1zM27 13h1v1h-1zM29 13h1v1h-1zM36 13h1v1h-1zM2 14h1v1h-1zM3 14h1v1h-1zM25 14h1v1h-1zM32 14h1v1h-1zM33 14h1v1h-1zM3 15h1v1h-1zM4 15h1v1h-1zM26 15h1v1h-1zM27 15h1v1h-1zM29 15h1v1h-1zM31 15h1v1h-1zM38 15h1v1h-1zM0 16h1v1h-1zM5 16h1v1h-1zM27 16h1v1h-1zM30 16h1v1h-1zM34 16h1v1h-1zM39 16h1v1h-1zM1 17h1v1h-1zM3 17h1v1h-1zM5 17h1v1h-1zM6 17h1v1h-1zM28 17h1v1h-1zM31 17h1v1h-1zM33 17h1v1h-1zM0 18h1v1h-1zM2 18h1v1h-1zM7 18h1v1h-1zM29 18h1v1h-1zM34 18h1v1h-1zM36 18h1v1h-1zM3 19h1v1h-1zM5 19h1v1h-1zM8 19h1v1h-1zM30 19h1v1h-1zM31 19h1v1h-1zM33 19h1v1h-1zM35 19h1v1h-1zM37 19h1v1h-1zM2 20h1v1h-1zM6 20h1v1h-1zM9 20h1v1h-1zM31 20h1v1h-1zM36 20h1v1h-1zM38 20h1v1h-1zM2 21h1v1h-1zM5 21h1v1h-1zM7 21h1v1h-1zM9 21h1v1h-1zM10 21h1v1h-1zM32 21h1v1h-1zM33 21h1v1h-1zM35 21h1v1h-1zM37 21h1v1h-1zM4 22h1v1h-1zM11 22h1v1h-1zM33 22h1v1h-1zM34 22h1v1h-1zM38 22h1v1h-1zM4 23h1v1h-1zM7 23h1v1h-1zM9 23h1v1h-1zM11 23h1v1h-1zM12 23h1v1h-1zM34 23h1v1h-1zM35 23h1v1h-1zM37 23h1v1h-1zM39 23h1v1h-1zM6 24h1v1h-1zM8 24h1v1h-1zM12 24h1v1h-1zM13 24h1v1h-1zM35 24h1v1h-1zM9 25h1v1h-1zM11 25h1v1h-1zM13 25h1v1h-1zM14 25h1v1h-1zM36 25h1v1h-1zM37 25h1v1h-1zM39 25h1v1h-1zM3 26h1v1h-1zM8 26h1v1h-1zM10 26h1v1h-1zM15 26h1v1h-1zM37 26h1v1h-1zM9 27h1v1h-1zM11 27h1v1h-1zM13 27h1v1h-1zM15 27h1v1h-1zM16 27h1v1h-1zM38 27h1v1h-1zM1 28h1v1h-1zM5 28h1v1h-1zM10 28h1v1h-1zM12 28h1v1h-1zM17 28h1v1h-1zM39 28h1v1h-1zM2 29h1v1h-1zM6 29h1v1h-1zM13 29h1v1h-1zM15 29h1v1h-1zM18 29h1v1h-1zM3 30h1v1h-1zM7 30h1v1h-1zM12 30h1v1h-1zM16 30h1v1h-1zM19 30h1v1h-1zM4 31h1v1h-1zM8 31h1v1h-1zM12 31h1v1h-1zM15 31h1v1h-1zM17 31h1v1h-1zM19 31h1v1h-1zM20 31h1v1h-1zM5 32h1v1h-1zM9 32h1v1h-1zM14 32h1v1h-1zM21 32h1v1h-1zM6 33h1v1h-1zM14 33h1v1h-1zM17 33h1v1h-1zM19 33h1v1h-1zM21 33h1v1h-1zM22 33h1v1h-1zM0 34h1v1h-1zM7 34h1v1h-1zM16 34h1v1h-1zM18 34h1v1h-1zM22 34h1v1h-1zM23 34h1v1h-1zM8 35h1v1h-1zM19 35h1v1h-1zM21 35h1v1h-1zM23 35h1v1h-1zM24 35h1v1h-1zM2 36h1v1h-1zM9 36h1v1h-1zM13 36h1v1h-1zM18 36h1v1h-1zM20 36h1v1h-1zM25 36h1v1h-1zM10 37h1v1h-1zM19 37h1v1h-1zM21 37h1v1h-1zM23 37h1v1h-1zM25 37h1v1h-1zM26 37h1v1h-1zM4 38h1v1h-1zM11 38h1v1h-1zM15 38h1v1h-1zM20 38h1v1h-1zM22 38h1v1h-1zM27 38h1v1h-1zM12 39h1v1h-1zM16 39h1v1h-1zM23 39h1v1h-1zM25 39h1v1h-1zM28 39h1v1h-1z"/>
<path fill="#2cc4a7" d="M14 0h1v1h-1zM23 0h1v1h-1zM27 0h1v1h-1zM15 1h1v1h-1zM24 1h1v1h-1zM16 2h1v1h-1zM25 2h1v1h-1zM18 4h1v1h-1zM27 4h1v1h-1zM22 8h1v1h-1zM24 10h1v1h-1zM33 10h1v1h-1zM34 11h1v1h-1zM26 12h1v1h-1zM35 12h1v1h-1zM0 14h1v1h-1zM28 14h1v1h-1zM37 14h1v1h-1zM1 15h1v1h-1zM2 16h1v1h-1zM4 18h1v1h-1zM32 18h1v1h-1zM34 20h1v1h-1zM8 22h1v1h-1zM36 22h1v1h-1zM0 23h1v1h-1zM1 24h1v1h-1zM10 24h1v1h-1zM38 24h1v1h-1zM2 25h1v1h-1zM12 26h1v1h-1zM0 27h1v1h-1zM4 27h1v1h-1zM14 28h1v1h-1zM18 32h1v1h-1zM10 33h1v1h-1zM11 34h1v1h-1zM20 34h1v1h-1zM12 35h1v1h-1zM22 36h1v1h-1zM14 37h1v1h-1zM24 38h1v1h-1z"/>
<path fill="#4acb84" d="M8 1h1v1h-1zM9 2h1v1h-1zM10 3h1v1h-1zM11 4h1v1h-1zM12 5h1v1h-1zM13 6h1v1h-1zM14 7h1v1h-1zM1 8h1v1h-1zM15 8h1v1h-1zM2 9h1v1h-1zM16 9h1v1h-1zM3 10h1v1h-1zM17 10h1v1h-1zM4 11h1v1h-1zM18 11h1v1h-1zM5 12h1v1h-1zM19 12h1v1h-1zM6 13h1v1h-1zM20 13h1v1h-1zM7 14h1v1h-1zM21 14h1v1h-1zM8 15h1v1h-1zM22 15h1v1h-1zM9 16h1v1h-1zM23 16h1v1h-1zM10 17h1v1h-1zM24 17h1v1h-1zM11 18h1v1h-1zM25 18h1v1h-1zM12 19h1v1h-1zM26 19h1v1h-1zM13 20h1v1h-1zM27 20h1v1h-1zM14 21h1v1h-1zM28 21h1v1h-1zM15 22h1v1h-1zM29 22h1v1h-1zM16 23h1v1h-1zM30 23h1v1h-1zM17 24h1v1h-1zM31 24h1v1h-1zM18 25h1v1h-1zM32 25h1v1h-1zM19 26h1v1h-1zM33 26h1v1h-1zM20 27h1v1h-1zM34 27h1v1h-1zM21 28h1v1h-1zM35 28h1v1h-1zM22 29h1v1h-1zM36 29h1v1h-1zM23 30h1v1h-1zM37 30h1v1h-1zM24 31h1v1h-1zM38 31h1v1h-1zM25 32h1v1h-1zM39 32h1v1h-1zM26 33h1v1h-1zM27 34h1v1h-1zM28 35h1v1h-1zM29 36h1v1h-1zM30 37h1v1h-1zM31 38h1v1h-1zM32 39h1v1h-1z"/>
<path fill="#57cc7a" d="M7 0h1v1h-1zM0 7h1v1h-1z"/>
<path fill="#b9c431" d="M8 5h1v1h-1zM10 7h1v1h-1zM5 8h1v1h-1zM7 10h1v1h-1z"/>
<path fill="#c5c22a" d="M3 0h1v1h-1zM4 1h1v1h-1zM5 2h1v1h-1zM0 3h1v1h-1zM6 3h1v1h-1zM1 4h1v1h-1zM7 4h1v1h-1zM2 5h1v1h-1zM3 6h1v1h-1zM9 6h1v1h-1zM4 7h1v1h-1zM11 8h1v1h-1zM6 9h1v1h-1zM12 9h1v1h-1zM13 10h1v1h-1zM8 11h1v1h-1zM14 11h1v1h-1zM9 12h1v1h-1zM15 12h1v1h-1zM10 13h1v1h-1zM16 13h1v1h-1zM11 14h1v1h-1zM17 14h1v1h-1zM12 15h1v1h-1zM18 15h1v1h-1zM13 16h1v1h-1zM19 16h1v1h-1zM14 17h1v1h-1zM20 17h1v1h-1zM15 18h1v1h-1zM21 18h1v1h-1zM16 19h1v1h-1zM22 19h1v1h-1zM17 20h1v1h-1zM23 20h1v1h-1zM18 21h1v1h-1zM24 21h1v1h-1zM19 22h1v1h-1zM25 22h1v1h-1zM20 23h1v1h-1zM26 23h1v1h-1zM21 24h1v1h-1zM27 24h1v1h-1zM22 25h1v1h-1zM28 25h1v1h-1zM23 26h1v1h-1zM29 26h1v1h-1zM24 27h1v1h-1zM30 27h1v1h-1zM25 28h1v1h-1zM31 28h1v1h-1zM26 29h1v1h-1zM32 29h1v1h-1zM27 30h1v1h-1zM33 30h1v1h-1zM28 31h1v1h-1zM34 31h1v1h-1zM29 32h1v1h-1zM35 32h1v1h-1zM30 33h1v1h-1zM36 33h1v1h-1zM31 34h1v1h-1zM37 34h1v1h-1zM32 35h1v1h-1zM38 35h1v1h-1zM33 36h1v1h-1zM39 36h1v1h-1zM34 37h1v1h-1zM35 38h1v1h-1zM36 39h1v1h-1z"/>
<path fill="#f9fb15" d="M0 0h1v1h-1zM1 1h1v1h-1zM2 2h1v1h-1zM3 3h1v1h-1zM4 4h1v1h-1zM5 5h1v1h-1zM6 6h1v1h-1zM7 7h1v1h-1zM8 8h1v1h-1zM9 9h1v1h-1zM10 10h1v1h-1zM11 11h1v1h-1zM12 12h1v1h-1zM13 13h1v1h-1zM14 14h1v1h-1zM15 15h1v1h-1zM16 16h1v1h-1zM17 17h1v1h-1zM18 18h1v1h-1zM19 19h1v1h-1zM20 20h1v1h-1zM21 21h1v1h-1zM22 22h1v1h-1zM23 23h1v1h-1zM24 24h1v1h-1zM25 25h1v1h-1zM26 26h1v1h-1zM27 27h1v1h-1zM28 28h1v1h-1zM29 29h1v1h-1zM30 30h1v1h-1zM31 31h1v1h-1zM32 32h1v1h-1zM33 33h1v1h-1zM34 34h1v1h-1zM35 35h1v1h-1zM36 36h1v1h-1zM37 37h1v1h-1zM38 38h1v1h-1zM39 39h1v1h-1z"/>
</g>
<rect x="407.10" y="130.8" width="139.2" height="110.3" fill="none" stroke="#262626" stroke-width="0.5" stroke-opacity="0.7"/>
<text x="408.84" y="249.8" font-size="6.5" text-anchor="middle" fill="#3a3a3a">1</text>
<text x="405.40" y="134.93" font-size="6.5" text-anchor="end" fill="#3a3a3a">1</text>
<line x1="408.84" y1="241.10" x2="408.84" y2="239.70" stroke="#262626" stroke-width="0.5"/>
<line x1="407.10" y1="132.18" x2="408.50" y2="132.18" stroke="#262626" stroke-width="0.5"/>
<line x1="408.84" y1="130.80" x2="408.84" y2="132.20" stroke="#262626" stroke-width="0.5"/>
<line x1="546.30" y1="132.18" x2="544.90" y2="132.18" stroke="#262626" stroke-width="0.5"/>
<text x="440.16" y="249.8" font-size="6.5" text-anchor="middle" fill="#3a3a3a">10</text>
<text x="405.40" y="159.75" font-size="6.5" text-anchor="end" fill="#3a3a3a">10</text>
<line x1="440.16" y1="241.10" x2="440.16" y2="239.70" stroke="#262626" stroke-width="0.5"/>
<line x1="407.10" y1="157.00" x2="408.50" y2="157.00" stroke="#262626" stroke-width="0.5"/>
<line x1="440.16" y1="130.80" x2="440.16" y2="132.20" stroke="#262626" stroke-width="0.5"/>
<line x1="546.30" y1="157.00" x2="544.90" y2="157.00" stroke="#262626" stroke-width="0.5"/>
<text x="474.96" y="249.8" font-size="6.5" text-anchor="middle" fill="#3a3a3a">20</text>
<text x="405.40" y="187.32" font-size="6.5" text-anchor="end" fill="#3a3a3a">20</text>
<line x1="474.96" y1="241.10" x2="474.96" y2="239.70" stroke="#262626" stroke-width="0.5"/>
<line x1="407.10" y1="184.57" x2="408.50" y2="184.57" stroke="#262626" stroke-width="0.5"/>
<line x1="474.96" y1="130.80" x2="474.96" y2="132.20" stroke="#262626" stroke-width="0.5"/>
<line x1="546.30" y1="184.57" x2="544.90" y2="184.57" stroke="#262626" stroke-width="0.5"/>
<text x="509.76" y="249.8" font-size="6.5" text-anchor="middle" fill="#3a3a3a">30</text>
<text x="405.40" y="214.90" font-size="6.5" text-anchor="end" fill="#3a3a3a">30</text>
<line x1="509.76" y1="241.10" x2="509.76" y2="239.70" stroke="#262626" stroke-width="0.5"/>
<line x1="407.10" y1="212.15" x2="408.50" y2="212.15" stroke="#262626" stroke-width="0.5"/>
<line x1="509.76" y1="130.80" x2="509.76" y2="132.20" stroke="#262626" stroke-width="0.5"/>
<line x1="546.30" y1="212.15" x2="544.90" y2="212.15" stroke="#262626" stroke-width="0.5"/>
<text x="544.56" y="249.8" font-size="6.5" text-anchor="middle" fill="#3a3a3a">40</text>
<text x="405.40" y="242.47" font-size="6.5" text-anchor="end" fill="#3a3a3a">40</text>
<line x1="544.56" y1="241.10" x2="544.56" y2="239.70" stroke="#262626" stroke-width="0.5"/>
<line x1="407.10" y1="239.72" x2="408.50" y2="239.72" stroke="#262626" stroke-width="0.5"/>
<line x1="544.56" y1="130.80" x2="544.56" y2="132.20" stroke="#262626" stroke-width="0.5"/>
<line x1="546.30" y1="239.72" x2="544.90" y2="239.72" stroke="#262626" stroke-width="0.5"/>
<rect x="551.10" y="131.1" width="5.6" height="109.2" fill="url(#pg)" stroke="#262626" stroke-width="0.3" stroke-opacity="0.6"/>
<text x="558.10" y="133.90" font-size="6.5" fill="#3a3a3a">1</text>
<text x="558.10" y="161.20" font-size="6.5" fill="#3a3a3a">0.5</text>
<text x="558.10" y="188.50" font-size="6.5" fill="#3a3a3a">0</text>
<text x="558.10" y="215.80" font-size="6.5" fill="#3a3a3a">-0.5</text>
<text x="558.10" y="243.10" font-size="6.5" fill="#3a3a3a">-1</text>
<text x="476.70" y="120.9" font-size="6.5" text-anchor="middle" fill="#1e1e1e">Cross-correlation coefficient matrix</text>
<text x="476.70" y="129.8" font-size="6.5" text-anchor="middle" fill="#1e1e1e">(JFPM-8)</text>
<text x="476.70" y="258.0" font-size="6.5" text-anchor="middle" fill="#3a3a3a">Sequence No.</text>
<text transform="translate(395.90,185.7) rotate(-90)" font-size="6.5" text-anchor="middle" fill="#3a3a3a">Sequence No.</text>
<text x="479.2" y="274.3" font-family="Liberation Serif" font-size="15" text-anchor="middle" fill="#000" stroke="#000" stroke-width="0.45">(f)</text>
</svg>
</body></html>
